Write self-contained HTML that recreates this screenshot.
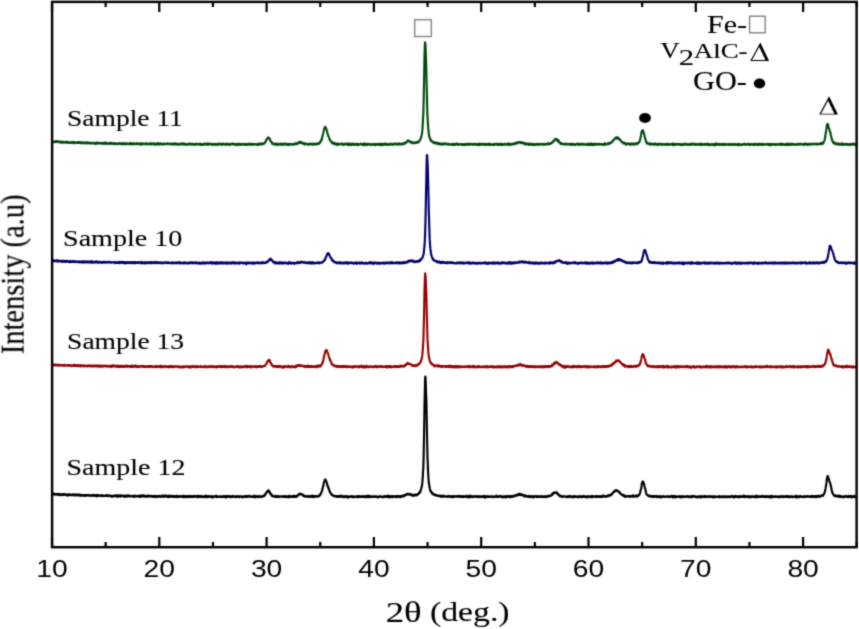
<!DOCTYPE html>
<html><head><meta charset="utf-8"><style>
html,body{margin:0;padding:0;background:#fff;}
svg{display:block;}
</style></head><body>
<svg width="859" height="629" viewBox="0 0 859 629">
<defs><filter id="bl" x="0" y="0" width="859" height="629" filterUnits="userSpaceOnUse"><feConvolveMatrix order="3" kernelMatrix="1 4 1 4 16 4 1 4 1" edgeMode="duplicate"/></filter></defs>
<rect width="859" height="629" fill="#fff"/>
<g filter="url(#bl)">
<g fill="none" stroke-width="2.15" stroke-linejoin="round">
<path d="M52.0 141.7 52.2 141.8 52.4 141.6 52.6 141.4 52.9 141.6 53.1 141.4 53.3 141.8 53.5 142.2 53.7 141.6 53.9 141.6 54.1 142.0 54.4 141.9 54.6 141.9 54.8 141.5 55.0 141.8 55.2 142.1 55.4 141.4 55.6 141.7 55.9 141.3 56.1 141.5 56.3 141.3 56.5 141.8 56.7 141.5 56.9 142.0 57.2 142.0 57.4 141.9 57.6 141.2 57.8 141.8 58.0 142.0 58.2 142.0 58.4 141.5 58.7 141.9 58.9 141.7 59.1 141.8 59.3 142.4 59.5 141.8 59.7 142.0 59.9 142.4 60.2 141.9 60.4 142.1 60.6 142.1 60.8 142.1 61.0 141.7 61.2 142.1 61.4 142.6 61.7 141.6 61.9 142.4 62.1 142.2 62.3 142.0 62.5 142.8 62.7 142.4 62.9 141.8 63.2 142.2 63.4 142.4 63.6 142.2 63.8 142.4 64.0 142.2 64.2 142.5 64.4 142.7 64.7 142.0 64.9 142.3 65.1 142.1 65.3 142.3 65.5 141.9 65.7 142.1 65.9 142.3 66.2 142.6 66.4 142.7 66.6 141.9 66.8 142.1 67.0 142.6 67.2 141.7 67.5 142.2 67.7 142.4 67.9 142.8 68.1 142.6 68.3 142.3 68.5 142.3 68.7 142.3 69.0 142.9 69.2 142.3 69.4 142.3 69.6 142.6 69.8 142.4 70.0 142.4 70.2 142.1 70.5 142.5 70.7 142.3 70.9 142.9 71.1 142.7 71.3 142.5 71.5 142.7 71.7 142.4 72.0 142.9 72.2 142.5 72.4 142.7 72.6 142.1 72.8 142.7 73.0 142.0 73.2 141.9 73.5 142.5 73.7 142.3 73.9 142.7 74.1 143.3 74.3 142.4 74.5 142.4 74.7 142.7 75.0 142.8 75.2 142.6 75.4 142.6 75.6 142.9 75.8 142.8 76.0 142.3 76.2 142.7 76.5 142.7 76.7 142.4 76.9 142.8 77.1 142.4 77.3 143.0 77.5 142.8 77.8 142.8 78.0 142.5 78.2 142.7 78.4 142.1 78.6 142.4 78.8 142.9 79.0 142.1 79.3 143.0 79.5 142.2 79.7 143.0 79.9 142.5 80.1 143.0 80.3 142.8 80.5 142.3 80.8 143.2 81.0 143.3 81.2 142.8 81.4 142.7 81.6 142.8 81.8 142.5 82.0 143.2 82.3 142.7 82.5 142.9 82.7 142.6 82.9 142.7 83.1 142.5 83.3 143.3 83.5 142.8 83.8 143.2 84.0 142.9 84.2 142.7 84.4 142.8 84.6 142.7 84.8 142.9 85.0 142.8 85.3 142.8 85.5 142.5 85.7 142.7 85.9 143.5 86.1 142.8 86.3 142.6 86.6 143.1 86.8 143.4 87.0 142.5 87.2 142.9 87.4 142.8 87.6 142.4 87.8 143.2 88.1 143.0 88.3 143.0 88.5 142.8 88.7 143.2 88.9 142.9 89.1 143.0 89.3 142.7 89.6 142.7 89.8 143.5 90.0 142.9 90.2 143.2 90.4 143.1 90.6 142.9 90.8 142.9 91.1 143.3 91.3 143.0 91.5 143.1 91.7 143.1 91.9 143.5 92.1 143.3 92.3 143.2 92.6 142.9 92.8 142.7 93.0 143.4 93.2 143.5 93.4 143.1 93.6 143.3 93.8 143.4 94.1 143.4 94.3 143.5 94.5 143.0 94.7 143.7 94.9 142.8 95.1 143.5 95.3 143.4 95.6 143.5 95.8 143.8 96.0 143.7 96.2 142.8 96.4 142.7 96.6 143.5 96.9 142.9 97.1 143.2 97.3 143.5 97.5 142.7 97.7 142.6 97.9 143.3 98.1 143.3 98.4 143.2 98.6 143.3 98.8 143.0 99.0 142.8 99.2 143.2 99.4 143.0 99.6 142.8 99.9 143.5 100.1 143.3 100.3 143.4 100.5 143.0 100.7 143.1 100.9 143.0 101.1 143.0 101.4 143.4 101.6 143.1 101.8 143.4 102.0 143.4 102.2 144.0 102.4 142.9 102.6 143.6 102.9 143.3 103.1 143.4 103.3 142.9 103.5 143.2 103.7 143.6 103.9 143.3 104.1 143.4 104.4 143.3 104.6 143.8 104.8 143.4 105.0 142.7 105.2 143.2 105.4 142.8 105.6 142.4 105.9 143.2 106.1 143.8 106.3 143.4 106.5 143.0 106.7 143.1 106.9 143.8 107.2 143.5 107.4 143.5 107.6 143.4 107.8 143.5 108.0 143.7 108.2 143.6 108.4 143.5 108.7 143.1 108.9 143.6 109.1 143.2 109.3 143.8 109.5 143.1 109.7 143.4 109.9 143.5 110.2 143.1 110.4 144.0 110.6 144.0 110.8 143.3 111.0 143.7 111.2 143.6 111.4 142.7 111.7 143.6 111.9 143.5 112.1 143.5 112.3 143.2 112.5 143.4 112.7 143.5 112.9 143.9 113.2 143.6 113.4 143.5 113.6 144.0 113.8 143.4 114.0 143.4 114.2 143.0 114.4 144.1 114.7 143.9 114.9 143.9 115.1 143.8 115.3 143.6 115.5 143.6 115.7 143.5 116.0 143.5 116.2 143.6 116.4 144.1 116.6 143.8 116.8 143.6 117.0 143.4 117.2 143.4 117.5 144.1 117.7 143.8 117.9 143.6 118.1 143.5 118.3 143.3 118.5 143.6 118.7 143.9 119.0 143.5 119.2 143.6 119.4 143.6 119.6 143.7 119.8 143.1 120.0 143.6 120.2 143.4 120.5 143.9 120.7 143.4 120.9 143.8 121.1 144.1 121.3 143.6 121.5 143.5 121.7 143.7 122.0 143.7 122.2 143.3 122.4 143.8 122.6 144.3 122.8 143.6 123.0 143.6 123.2 143.3 123.5 143.8 123.7 143.3 123.9 143.3 124.1 144.1 124.3 143.4 124.5 144.0 124.7 144.2 125.0 143.8 125.2 143.9 125.4 144.3 125.6 143.6 125.8 143.5 126.0 143.3 126.3 143.7 126.5 144.2 126.7 144.0 126.9 143.4 127.1 143.5 127.3 143.6 127.5 143.8 127.8 143.7 128.0 143.8 128.2 143.8 128.4 143.7 128.6 143.7 128.8 143.8 129.0 143.7 129.3 143.9 129.5 144.4 129.7 144.0 129.9 143.8 130.1 143.2 130.3 143.9 130.5 143.1 130.8 143.3 131.0 144.1 131.2 144.0 131.4 143.7 131.6 143.2 131.8 143.7 132.0 143.6 132.3 144.0 132.5 144.5 132.7 143.9 132.9 143.5 133.1 143.4 133.3 143.8 133.5 143.7 133.8 143.4 134.0 143.8 134.2 143.4 134.4 144.2 134.6 144.2 134.8 144.2 135.1 143.7 135.3 144.0 135.5 143.8 135.7 143.7 135.9 143.7 136.1 143.4 136.3 143.4 136.6 144.1 136.8 143.8 137.0 143.9 137.2 144.2 137.4 143.3 137.6 143.6 137.8 143.9 138.1 144.0 138.3 143.7 138.5 144.2 138.7 143.9 138.9 143.5 139.1 143.6 139.3 144.1 139.6 144.0 139.8 143.3 140.0 144.3 140.2 144.1 140.4 144.3 140.6 143.8 140.8 143.8 141.1 143.5 141.3 144.7 141.5 143.8 141.7 144.4 141.9 143.7 142.1 143.9 142.3 143.4 142.6 143.8 142.8 144.2 143.0 143.5 143.2 144.2 143.4 144.0 143.6 143.6 143.8 143.7 144.1 143.8 144.3 143.9 144.5 143.7 144.7 143.7 144.9 143.8 145.1 143.6 145.4 143.5 145.6 143.9 145.8 144.2 146.0 143.4 146.2 143.9 146.4 143.7 146.6 143.6 146.9 144.2 147.1 143.8 147.3 144.4 147.5 143.7 147.7 144.1 147.9 143.9 148.1 143.7 148.4 144.1 148.6 143.9 148.8 144.1 149.0 143.9 149.2 143.6 149.4 143.9 149.6 144.0 149.9 144.3 150.1 143.7 150.3 144.0 150.5 143.4 150.7 144.2 150.9 143.6 151.1 143.4 151.4 144.0 151.6 144.3 151.8 143.5 152.0 143.6 152.2 143.7 152.4 143.6 152.6 144.1 152.9 143.7 153.1 143.8 153.3 144.2 153.5 143.7 153.7 144.1 153.9 143.7 154.1 143.6 154.4 143.4 154.6 144.6 154.8 143.9 155.0 144.1 155.2 144.0 155.4 144.1 155.7 144.0 155.9 144.6 156.1 143.7 156.3 143.5 156.5 143.7 156.7 143.6 156.9 144.3 157.2 144.3 157.4 143.7 157.6 143.6 157.8 143.9 158.0 144.5 158.2 143.1 158.4 144.2 158.7 143.7 158.9 144.4 159.1 143.7 159.3 143.9 159.5 143.5 159.7 143.7 159.9 144.5 160.2 144.3 160.4 143.9 160.6 143.8 160.8 143.4 161.0 143.9 161.2 144.0 161.4 144.0 161.7 144.0 161.9 143.7 162.1 144.0 162.3 144.0 162.5 144.5 162.7 144.6 162.9 144.0 163.2 143.8 163.4 144.0 163.6 143.9 163.8 143.8 164.0 144.0 164.2 143.7 164.5 144.3 164.7 144.0 164.9 144.1 165.1 144.0 165.3 143.8 165.5 143.8 165.7 144.0 166.0 143.9 166.2 144.1 166.4 144.1 166.6 143.6 166.8 144.1 167.0 143.6 167.2 143.9 167.5 144.0 167.7 143.4 167.9 144.1 168.1 144.1 168.3 144.0 168.5 144.0 168.7 144.0 169.0 143.8 169.2 144.0 169.4 143.9 169.6 144.1 169.8 143.7 170.0 144.2 170.2 144.1 170.5 144.1 170.7 144.0 170.9 144.3 171.1 143.6 171.3 144.2 171.5 144.2 171.7 144.2 172.0 144.2 172.2 143.9 172.4 144.0 172.6 144.3 172.8 144.2 173.0 144.2 173.2 143.6 173.5 144.3 173.7 144.5 173.9 144.4 174.1 144.2 174.3 143.6 174.5 144.4 174.8 144.1 175.0 143.3 175.2 144.2 175.4 143.6 175.6 143.7 175.8 143.9 176.0 144.5 176.3 144.0 176.5 144.2 176.7 144.7 176.9 144.6 177.1 144.1 177.3 144.1 177.5 143.7 177.8 143.9 178.0 144.3 178.2 144.3 178.4 144.2 178.6 144.5 178.8 143.9 179.0 144.1 179.3 144.4 179.5 144.3 179.7 144.5 179.9 144.3 180.1 144.0 180.3 144.3 180.5 143.8 180.8 143.6 181.0 144.3 181.2 144.1 181.4 144.3 181.6 143.6 181.8 144.0 182.0 144.0 182.3 143.9 182.5 143.4 182.7 144.1 182.9 144.4 183.1 144.3 183.3 144.0 183.5 144.2 183.8 144.4 184.0 143.3 184.2 144.1 184.4 144.3 184.6 144.4 184.8 144.7 185.1 144.5 185.3 144.3 185.5 144.3 185.7 144.4 185.9 144.0 186.1 144.2 186.3 144.5 186.6 144.8 186.8 144.1 187.0 144.2 187.2 144.2 187.4 144.6 187.6 144.2 187.8 144.6 188.1 143.9 188.3 144.1 188.5 144.1 188.7 144.4 188.9 144.5 189.1 143.7 189.3 143.9 189.6 144.3 189.8 144.0 190.0 143.7 190.2 144.5 190.4 144.3 190.6 144.3 190.8 144.0 191.1 144.5 191.3 144.1 191.5 144.5 191.7 143.9 191.9 143.9 192.1 144.3 192.3 144.0 192.6 144.4 192.8 144.3 193.0 143.9 193.2 144.2 193.4 144.1 193.6 144.5 193.9 144.0 194.1 144.1 194.3 144.6 194.5 144.9 194.7 144.8 194.9 144.2 195.1 144.3 195.4 144.7 195.6 144.2 195.8 143.9 196.0 144.2 196.2 144.4 196.4 143.9 196.6 143.7 196.9 143.8 197.1 144.4 197.3 144.0 197.5 144.2 197.7 144.3 197.9 144.4 198.1 144.1 198.4 144.4 198.6 143.9 198.8 144.1 199.0 143.9 199.2 144.6 199.4 144.2 199.6 144.0 199.9 144.1 200.1 144.1 200.3 144.4 200.5 143.7 200.7 143.9 200.9 144.1 201.1 145.0 201.4 144.5 201.6 144.2 201.8 144.5 202.0 144.9 202.2 144.2 202.4 144.1 202.6 144.6 202.9 144.4 203.1 144.4 203.3 144.1 203.5 144.8 203.7 144.8 203.9 144.4 204.2 144.5 204.4 143.6 204.6 144.4 204.8 144.2 205.0 144.4 205.2 144.5 205.4 144.1 205.7 143.7 205.9 144.4 206.1 144.0 206.3 144.1 206.5 144.0 206.7 144.1 206.9 143.5 207.2 144.6 207.4 144.3 207.6 144.6 207.8 144.9 208.0 144.3 208.2 143.7 208.4 144.0 208.7 143.9 208.9 144.1 209.1 144.3 209.3 143.6 209.5 144.4 209.7 143.8 209.9 144.3 210.2 144.2 210.4 144.1 210.6 144.2 210.8 144.1 211.0 144.1 211.2 143.7 211.4 144.2 211.7 144.8 211.9 144.9 212.1 144.7 212.3 144.5 212.5 144.0 212.7 144.7 212.9 144.2 213.2 144.2 213.4 144.2 213.6 144.3 213.8 144.1 214.0 144.2 214.2 143.9 214.5 144.1 214.7 145.0 214.9 144.2 215.1 144.2 215.3 144.4 215.5 144.5 215.7 143.9 216.0 144.2 216.2 144.6 216.4 144.3 216.6 144.3 216.8 144.8 217.0 144.0 217.2 144.3 217.5 144.1 217.7 144.7 217.9 143.6 218.1 144.1 218.3 144.1 218.5 144.5 218.7 144.5 219.0 144.7 219.2 143.8 219.4 144.5 219.6 144.2 219.8 144.1 220.0 144.4 220.2 144.0 220.5 143.6 220.7 144.2 220.9 143.8 221.1 144.1 221.3 144.4 221.5 144.4 221.7 144.8 222.0 144.2 222.2 143.8 222.4 144.0 222.6 144.0 222.8 143.9 223.0 144.4 223.3 144.1 223.5 143.6 223.7 144.5 223.9 144.2 224.1 144.4 224.3 144.3 224.5 144.5 224.8 144.3 225.0 144.7 225.2 144.4 225.4 144.4 225.6 144.4 225.8 143.8 226.0 144.2 226.3 144.2 226.5 144.3 226.7 143.8 226.9 144.8 227.1 144.3 227.3 143.9 227.5 143.7 227.8 144.2 228.0 144.3 228.2 144.1 228.4 144.3 228.6 144.1 228.8 144.5 229.0 144.1 229.3 144.3 229.5 144.6 229.7 145.1 229.9 144.0 230.1 144.1 230.3 144.0 230.5 144.5 230.8 143.9 231.0 144.1 231.2 144.3 231.4 144.0 231.6 144.0 231.8 144.1 232.0 143.6 232.3 143.8 232.5 144.2 232.7 144.3 232.9 144.2 233.1 143.7 233.3 144.1 233.6 144.5 233.8 144.5 234.0 144.3 234.2 144.0 234.4 144.5 234.6 144.1 234.8 143.9 235.1 144.0 235.3 144.8 235.5 144.4 235.7 144.7 235.9 144.1 236.1 144.6 236.3 144.1 236.6 144.2 236.8 145.1 237.0 144.5 237.2 144.1 237.4 144.3 237.6 144.4 237.8 144.7 238.1 144.1 238.3 143.7 238.5 144.2 238.7 144.3 238.9 144.3 239.1 144.7 239.3 144.4 239.6 144.6 239.8 143.9 240.0 144.6 240.2 145.0 240.4 144.5 240.6 144.4 240.8 144.3 241.1 144.9 241.3 144.0 241.5 144.3 241.7 144.4 241.9 144.5 242.1 144.2 242.4 144.4 242.6 144.2 242.8 144.3 243.0 144.3 243.2 143.9 243.4 144.3 243.6 144.6 243.9 144.0 244.1 144.2 244.3 144.5 244.5 144.0 244.7 144.4 244.9 144.0 245.1 144.7 245.4 145.0 245.6 144.9 245.8 144.2 246.0 144.5 246.2 144.3 246.4 144.3 246.6 144.8 246.9 143.9 247.1 144.6 247.3 144.3 247.5 144.7 247.7 144.4 247.9 144.1 248.1 144.4 248.4 144.5 248.6 144.3 248.8 144.4 249.0 144.1 249.2 143.6 249.4 144.6 249.6 144.5 249.9 144.3 250.1 144.3 250.3 144.6 250.5 144.1 250.7 144.1 250.9 144.2 251.1 144.7 251.4 143.8 251.6 144.7 251.8 144.1 252.0 143.9 252.2 144.7 252.4 144.2 252.7 143.9 252.9 144.2 253.1 144.6 253.3 144.7 253.5 144.1 253.7 144.4 253.9 144.5 254.2 144.1 254.4 144.4 254.6 144.3 254.8 144.1 255.0 144.1 255.2 144.3 255.4 144.3 255.7 144.1 255.9 144.1 256.1 144.6 256.3 144.3 256.5 144.5 256.7 144.6 256.9 144.4 257.2 145.0 257.4 144.0 257.6 144.5 257.8 144.1 258.0 144.8 258.2 144.8 258.4 143.6 258.7 143.9 258.9 144.4 259.1 144.5 259.3 144.4 259.5 144.2 259.7 144.3 259.9 144.4 260.2 144.2 260.4 144.5 260.6 143.4 260.8 144.4 261.0 143.8 261.2 144.4 261.4 144.0 261.7 143.8 261.9 144.2 262.1 143.8 262.3 143.7 262.5 143.5 262.7 143.9 263.0 144.0 263.2 144.2 263.4 143.7 263.6 144.0 263.8 143.5 264.0 143.4 264.2 143.4 264.5 143.4 264.7 142.7 264.9 142.5 265.1 142.3 265.3 142.0 265.5 141.4 265.7 141.6 266.0 140.8 266.2 140.6 266.4 139.8 266.6 139.7 266.8 139.3 267.0 138.7 267.2 139.1 267.5 138.3 267.7 138.4 267.9 138.0 268.1 137.4 268.3 137.5 268.5 137.8 268.7 137.9 269.0 138.1 269.2 138.3 269.4 138.2 269.6 139.1 269.8 138.8 270.0 140.1 270.2 140.2 270.5 140.6 270.7 141.1 270.9 141.7 271.1 141.5 271.3 141.7 271.5 142.2 271.8 142.1 272.0 142.7 272.2 143.7 272.4 143.0 272.6 143.7 272.8 143.2 273.0 143.8 273.3 143.7 273.5 143.9 273.7 144.1 273.9 144.5 274.1 144.1 274.3 144.1 274.5 143.8 274.8 144.3 275.0 144.0 275.2 144.4 275.4 144.1 275.6 144.7 275.8 143.5 276.0 144.1 276.3 144.5 276.5 144.1 276.7 143.9 276.9 144.1 277.1 143.8 277.3 144.2 277.5 145.0 277.8 144.6 278.0 143.9 278.2 143.9 278.4 144.1 278.6 144.6 278.8 144.0 279.0 144.0 279.3 144.5 279.5 144.5 279.7 144.1 279.9 143.9 280.1 143.8 280.3 144.0 280.5 143.5 280.8 144.5 281.0 144.1 281.2 144.4 281.4 144.9 281.6 144.6 281.8 143.9 282.1 144.5 282.3 144.6 282.5 144.0 282.7 144.0 282.9 144.2 283.1 143.8 283.3 144.7 283.6 143.5 283.8 143.9 284.0 144.2 284.2 144.2 284.4 144.3 284.6 144.4 284.8 144.2 285.1 144.6 285.3 143.6 285.5 144.3 285.7 144.1 285.9 144.3 286.1 144.4 286.3 144.0 286.6 144.1 286.8 144.5 287.0 144.4 287.2 144.1 287.4 144.9 287.6 145.0 287.8 143.8 288.1 144.4 288.3 145.1 288.5 144.5 288.7 144.3 288.9 144.2 289.1 144.1 289.3 144.2 289.6 144.1 289.8 144.5 290.0 144.1 290.2 144.1 290.4 143.9 290.6 144.3 290.8 144.0 291.1 144.2 291.3 144.6 291.5 144.4 291.7 144.4 291.9 144.4 292.1 144.3 292.4 144.2 292.6 144.1 292.8 144.5 293.0 143.9 293.2 144.7 293.4 144.2 293.6 144.0 293.9 144.0 294.1 144.0 294.3 144.2 294.5 143.9 294.7 144.5 294.9 143.8 295.1 143.3 295.4 143.8 295.6 143.3 295.8 143.9 296.0 144.2 296.2 144.0 296.4 143.3 296.6 143.4 296.9 144.1 297.1 143.5 297.3 143.3 297.5 143.5 297.7 143.8 297.9 143.3 298.1 142.8 298.4 142.8 298.6 142.8 298.8 142.2 299.0 142.0 299.2 142.3 299.4 141.9 299.6 142.1 299.9 142.2 300.1 142.9 300.3 141.9 300.5 142.2 300.7 142.3 300.9 142.6 301.2 142.9 301.4 142.5 301.6 142.5 301.8 142.4 302.0 142.7 302.2 143.3 302.4 143.3 302.7 143.0 302.9 143.3 303.1 143.6 303.3 143.8 303.5 143.5 303.7 143.7 303.9 143.3 304.2 143.6 304.4 144.5 304.6 143.3 304.8 143.9 305.0 144.1 305.2 144.0 305.4 143.9 305.7 144.1 305.9 144.1 306.1 144.1 306.3 143.6 306.5 144.1 306.7 143.9 306.9 144.0 307.2 144.3 307.4 144.4 307.6 144.5 307.8 144.0 308.0 144.5 308.2 144.6 308.4 144.5 308.7 144.6 308.9 144.1 309.1 144.1 309.3 144.4 309.5 143.7 309.7 144.2 309.9 144.0 310.2 144.1 310.4 143.6 310.6 143.9 310.8 144.2 311.0 144.4 311.2 144.5 311.5 144.1 311.7 144.1 311.9 143.9 312.1 144.3 312.3 144.1 312.5 144.3 312.7 144.7 313.0 144.1 313.2 143.6 313.4 143.8 313.6 143.6 313.8 143.7 314.0 144.5 314.2 144.1 314.5 143.6 314.7 144.3 314.9 144.4 315.1 143.9 315.3 143.8 315.5 143.9 315.7 144.1 316.0 144.2 316.2 144.3 316.4 144.3 316.6 144.3 316.8 144.3 317.0 144.1 317.2 143.3 317.5 143.8 317.7 143.9 317.9 143.6 318.1 144.0 318.3 143.5 318.5 143.3 318.7 143.9 319.0 143.6 319.2 143.4 319.4 143.4 319.6 143.3 319.8 142.9 320.0 141.8 320.2 142.1 320.5 141.9 320.7 141.4 320.9 141.3 321.1 141.2 321.3 140.1 321.5 139.3 321.8 139.7 322.0 138.1 322.2 137.1 322.4 136.7 322.6 135.9 322.8 134.6 323.0 134.1 323.3 132.7 323.5 131.6 323.7 131.0 323.9 130.2 324.1 129.0 324.3 128.6 324.5 127.8 324.8 128.3 325.0 126.9 325.2 127.4 325.4 127.0 325.6 127.2 325.8 127.8 326.0 128.4 326.3 129.1 326.5 129.4 326.7 129.9 326.9 130.7 327.1 131.8 327.3 132.6 327.5 133.7 327.8 134.1 328.0 135.0 328.2 135.9 328.4 136.1 328.6 136.2 328.8 136.9 329.0 137.4 329.3 138.9 329.5 138.6 329.7 139.7 329.9 139.9 330.1 140.6 330.3 140.8 330.6 140.8 330.8 141.0 331.0 141.4 331.2 141.7 331.4 141.7 331.6 142.1 331.8 142.9 332.1 142.0 332.3 142.8 332.5 142.6 332.7 143.1 332.9 143.4 333.1 143.2 333.3 143.6 333.6 142.9 333.8 143.9 334.0 143.4 334.2 143.9 334.4 143.8 334.6 143.0 334.8 143.6 335.1 143.9 335.3 144.4 335.5 144.0 335.7 144.0 335.9 143.5 336.1 144.5 336.3 144.6 336.6 144.0 336.8 144.0 337.0 143.5 337.2 144.4 337.4 144.9 337.6 144.3 337.8 144.5 338.1 144.3 338.3 143.8 338.5 144.6 338.7 143.7 338.9 144.1 339.1 144.2 339.3 144.4 339.6 144.3 339.8 144.3 340.0 143.9 340.2 143.8 340.4 144.2 340.6 144.0 340.9 143.8 341.1 143.8 341.3 144.0 341.5 143.6 341.7 143.8 341.9 143.7 342.1 144.3 342.4 144.4 342.6 144.9 342.8 143.8 343.0 144.0 343.2 144.5 343.4 144.2 343.6 144.1 343.9 144.8 344.1 144.1 344.3 143.9 344.5 143.8 344.7 144.4 344.9 144.4 345.1 143.8 345.4 143.9 345.6 144.4 345.8 144.5 346.0 144.1 346.2 144.5 346.4 144.5 346.6 143.7 346.9 144.2 347.1 144.4 347.3 144.1 347.5 143.6 347.7 144.2 347.9 144.5 348.1 144.8 348.4 143.6 348.6 145.1 348.8 143.9 349.0 144.6 349.2 144.7 349.4 144.6 349.7 144.3 349.9 143.9 350.1 144.5 350.3 144.1 350.5 143.5 350.7 145.2 350.9 144.5 351.2 144.9 351.4 144.0 351.6 144.8 351.8 144.8 352.0 144.8 352.2 144.3 352.4 143.9 352.7 144.3 352.9 143.6 353.1 143.8 353.3 144.3 353.5 144.0 353.7 144.3 353.9 144.3 354.2 144.9 354.4 144.7 354.6 144.3 354.8 144.7 355.0 144.1 355.2 144.2 355.4 144.6 355.7 143.9 355.9 144.2 356.1 143.9 356.3 144.4 356.5 144.8 356.7 144.1 356.9 144.4 357.2 144.0 357.4 144.0 357.6 143.9 357.8 144.8 358.0 145.1 358.2 144.5 358.4 144.1 358.7 144.5 358.9 144.2 359.1 144.6 359.3 144.4 359.5 144.4 359.7 144.5 360.0 144.1 360.2 144.2 360.4 143.8 360.6 144.2 360.8 143.9 361.0 144.3 361.2 144.0 361.5 144.4 361.7 144.5 361.9 143.9 362.1 144.1 362.3 144.0 362.5 144.6 362.7 144.9 363.0 144.6 363.2 144.2 363.4 144.8 363.6 143.8 363.8 144.8 364.0 144.1 364.2 143.4 364.5 145.2 364.7 144.8 364.9 144.0 365.1 144.4 365.3 144.3 365.5 144.4 365.7 143.9 366.0 144.1 366.2 144.5 366.4 144.4 366.6 144.7 366.8 144.4 367.0 145.1 367.2 144.1 367.5 144.4 367.7 143.7 367.9 143.9 368.1 144.7 368.3 144.0 368.5 144.5 368.7 144.3 369.0 144.0 369.2 144.2 369.4 144.2 369.6 144.2 369.8 144.6 370.0 144.5 370.3 144.1 370.5 144.0 370.7 144.4 370.9 144.3 371.1 144.7 371.3 145.2 371.5 144.6 371.8 144.3 372.0 144.3 372.2 144.0 372.4 144.0 372.6 144.0 372.8 144.2 373.0 144.2 373.3 144.6 373.5 144.2 373.7 144.3 373.9 143.9 374.1 144.8 374.3 144.5 374.5 144.9 374.8 144.6 375.0 144.8 375.2 144.2 375.4 144.5 375.6 145.2 375.8 143.9 376.0 144.7 376.3 144.9 376.5 144.5 376.7 144.6 376.9 144.7 377.1 144.1 377.3 144.4 377.5 144.0 377.8 144.1 378.0 144.1 378.2 144.3 378.4 144.4 378.6 144.5 378.8 143.8 379.1 145.0 379.3 144.7 379.5 144.5 379.7 144.2 379.9 144.3 380.1 144.5 380.3 144.4 380.6 143.8 380.8 144.5 381.0 145.3 381.2 143.7 381.4 144.6 381.6 144.4 381.8 144.3 382.1 144.8 382.3 143.9 382.5 144.4 382.7 144.8 382.9 144.2 383.1 144.2 383.3 144.3 383.6 144.1 383.8 144.8 384.0 144.0 384.2 144.6 384.4 143.9 384.6 144.5 384.8 144.3 385.1 143.4 385.3 144.3 385.5 143.9 385.7 144.1 385.9 144.8 386.1 143.9 386.3 143.9 386.6 144.8 386.8 144.3 387.0 144.8 387.2 144.4 387.4 144.0 387.6 144.3 387.8 144.7 388.1 144.6 388.3 144.3 388.5 144.3 388.7 144.2 388.9 144.1 389.1 144.9 389.4 144.3 389.6 143.9 389.8 144.1 390.0 144.5 390.2 144.5 390.4 144.2 390.6 144.0 390.9 144.3 391.1 143.7 391.3 143.8 391.5 144.5 391.7 144.1 391.9 144.4 392.1 144.6 392.4 144.5 392.6 144.2 392.8 144.9 393.0 144.5 393.2 144.1 393.4 144.5 393.6 144.4 393.9 143.9 394.1 144.2 394.3 144.2 394.5 143.6 394.7 144.2 394.9 144.1 395.1 144.1 395.4 143.7 395.6 144.1 395.8 144.2 396.0 144.2 396.2 143.8 396.4 144.4 396.6 143.8 396.9 144.1 397.1 144.6 397.3 143.9 397.5 144.0 397.7 144.5 397.9 144.0 398.1 144.1 398.4 144.2 398.6 144.5 398.8 143.4 399.0 143.9 399.2 143.8 399.4 143.8 399.7 143.8 399.9 143.8 400.1 144.2 400.3 143.8 400.5 144.1 400.7 144.2 400.9 143.8 401.2 144.1 401.4 144.6 401.6 144.1 401.8 143.8 402.0 143.9 402.2 143.6 402.4 144.0 402.7 144.1 402.9 143.5 403.1 143.7 403.3 144.1 403.5 143.5 403.7 143.6 403.9 143.1 404.2 143.1 404.4 143.1 404.6 143.9 404.8 142.9 405.0 142.8 405.2 142.6 405.4 142.6 405.7 142.7 405.9 142.4 406.1 142.8 406.3 142.1 406.5 142.3 406.7 141.8 406.9 141.7 407.2 141.0 407.4 141.3 407.6 141.2 407.8 141.1 408.0 140.4 408.2 141.3 408.5 140.9 408.7 140.9 408.9 141.0 409.1 141.1 409.3 141.4 409.5 141.0 409.7 141.2 410.0 141.7 410.2 141.8 410.4 141.8 410.6 141.8 410.8 141.9 411.0 142.3 411.2 142.8 411.5 142.2 411.7 143.1 411.9 143.0 412.1 142.7 412.3 143.1 412.5 142.5 412.7 142.4 413.0 142.6 413.2 142.9 413.4 143.0 413.6 142.9 413.8 143.2 414.0 142.4 414.2 143.3 414.5 142.6 414.7 142.9 414.9 142.9 415.1 142.6 415.3 142.5 415.5 142.6 415.7 142.9 416.0 143.0 416.2 142.9 416.4 142.4 416.6 142.4 416.8 142.2 417.0 142.6 417.2 141.7 417.5 142.7 417.7 142.0 417.9 141.8 418.1 142.0 418.3 142.1 418.5 141.7 418.8 141.7 419.0 141.3 419.2 141.4 419.4 141.1 419.6 140.5 419.8 140.6 420.0 139.9 420.3 139.5 420.5 138.8 420.7 138.5 420.9 138.3 421.1 136.9 421.3 136.8 421.5 135.8 421.8 134.7 422.0 132.6 422.2 131.7 422.4 129.9 422.6 126.8 422.8 123.7 423.0 118.7 423.3 114.3 423.5 107.1 423.7 99.5 423.9 88.9 424.1 78.8 424.3 67.0 424.5 56.3 424.8 47.1 425.0 42.4 425.2 42.6 425.4 44.3 425.6 48.8 425.8 54.4 426.0 60.6 426.3 68.8 426.5 77.7 426.7 86.1 426.9 94.7 427.1 103.8 427.3 110.8 427.5 116.6 427.8 121.4 428.0 124.6 428.2 127.9 428.4 130.0 428.6 131.9 428.8 134.2 429.1 134.9 429.3 136.9 429.5 137.0 429.7 137.5 429.9 138.6 430.1 139.4 430.3 139.5 430.6 139.3 430.8 140.2 431.0 140.8 431.2 140.5 431.4 140.7 431.6 141.5 431.8 141.4 432.1 141.2 432.3 141.6 432.5 141.6 432.7 142.1 432.9 142.2 433.1 142.6 433.3 142.6 433.6 142.0 433.8 142.7 434.0 143.0 434.2 142.9 434.4 143.2 434.6 142.7 434.8 142.7 435.1 143.3 435.3 142.7 435.5 142.4 435.7 143.5 435.9 143.0 436.1 143.2 436.3 142.9 436.6 142.9 436.8 143.0 437.0 143.3 437.2 143.6 437.4 142.8 437.6 143.8 437.9 143.2 438.1 143.2 438.3 143.8 438.5 143.6 438.7 143.2 438.9 144.3 439.1 143.4 439.4 143.8 439.6 143.8 439.8 144.2 440.0 143.6 440.2 144.1 440.4 143.6 440.6 144.2 440.9 143.6 441.1 143.7 441.3 144.5 441.5 144.0 441.7 143.9 441.9 144.6 442.1 144.0 442.4 143.7 442.6 144.2 442.8 143.6 443.0 144.3 443.2 144.4 443.4 143.8 443.6 143.8 443.9 144.1 444.1 144.0 444.3 143.7 444.5 144.2 444.7 143.4 444.9 143.9 445.1 143.9 445.4 144.0 445.6 144.2 445.8 143.7 446.0 144.3 446.2 144.0 446.4 143.9 446.6 143.7 446.9 143.7 447.1 144.2 447.3 143.8 447.5 144.1 447.7 144.5 447.9 144.5 448.2 144.6 448.4 144.0 448.6 143.8 448.8 144.5 449.0 144.3 449.2 144.5 449.4 144.2 449.7 144.6 449.9 144.4 450.1 144.4 450.3 144.3 450.5 144.3 450.7 144.3 450.9 144.3 451.2 144.5 451.4 144.0 451.6 144.8 451.8 144.2 452.0 144.5 452.2 144.2 452.4 144.1 452.7 144.9 452.9 144.1 453.1 143.8 453.3 144.0 453.5 144.1 453.7 144.9 453.9 144.3 454.2 144.5 454.4 143.9 454.6 144.3 454.8 144.5 455.0 144.8 455.2 144.0 455.4 144.4 455.7 144.3 455.9 143.9 456.1 144.2 456.3 144.2 456.5 143.5 456.7 144.4 457.0 144.4 457.2 144.1 457.4 143.8 457.6 144.7 457.8 144.4 458.0 144.6 458.2 144.7 458.5 144.1 458.7 144.5 458.9 144.2 459.1 144.3 459.3 144.2 459.5 144.3 459.7 144.6 460.0 144.3 460.2 144.2 460.4 144.2 460.6 144.4 460.8 144.0 461.0 144.1 461.2 144.3 461.5 144.1 461.7 144.3 461.9 144.1 462.1 144.9 462.3 144.7 462.5 144.4 462.7 144.3 463.0 145.0 463.2 144.4 463.4 144.3 463.6 144.4 463.8 144.4 464.0 144.8 464.2 144.3 464.5 145.0 464.7 144.0 464.9 144.5 465.1 144.0 465.3 144.9 465.5 144.2 465.7 144.3 466.0 144.6 466.2 144.7 466.4 144.0 466.6 144.2 466.8 143.9 467.0 144.4 467.3 144.3 467.5 144.2 467.7 144.1 467.9 144.2 468.1 144.1 468.3 144.5 468.5 144.8 468.8 143.7 469.0 144.3 469.2 144.2 469.4 144.5 469.6 144.0 469.8 144.3 470.0 144.0 470.3 144.5 470.5 144.4 470.7 144.3 470.9 144.4 471.1 144.2 471.3 143.8 471.5 144.5 471.8 144.4 472.0 144.3 472.2 144.6 472.4 144.7 472.6 144.0 472.8 144.1 473.0 144.8 473.3 144.8 473.5 144.1 473.7 144.0 473.9 144.1 474.1 144.2 474.3 143.8 474.5 144.3 474.8 143.9 475.0 143.9 475.2 144.6 475.4 144.1 475.6 144.3 475.8 144.5 476.0 144.6 476.3 144.2 476.5 144.3 476.7 144.1 476.9 144.9 477.1 144.5 477.3 144.0 477.6 144.3 477.8 144.6 478.0 144.5 478.2 144.9 478.4 144.8 478.6 144.2 478.8 144.3 479.1 143.9 479.3 144.4 479.5 144.4 479.7 145.2 479.9 144.4 480.1 143.7 480.3 144.1 480.6 144.4 480.8 143.9 481.0 144.1 481.2 144.2 481.4 144.5 481.6 144.3 481.8 144.1 482.1 144.6 482.3 144.2 482.5 144.2 482.7 143.9 482.9 144.1 483.1 144.6 483.3 143.8 483.6 144.3 483.8 144.6 484.0 144.2 484.2 144.4 484.4 144.0 484.6 144.8 484.8 144.7 485.1 144.4 485.3 143.8 485.5 144.0 485.7 144.7 485.9 144.9 486.1 144.4 486.4 144.7 486.6 144.2 486.8 144.3 487.0 144.3 487.2 144.5 487.4 143.9 487.6 144.6 487.9 144.8 488.1 144.0 488.3 143.9 488.5 144.5 488.7 144.1 488.9 143.6 489.1 144.6 489.4 144.4 489.6 144.2 489.8 145.0 490.0 144.4 490.2 144.1 490.4 144.4 490.6 144.0 490.9 144.1 491.1 144.5 491.3 144.2 491.5 144.2 491.7 144.9 491.9 144.6 492.1 144.6 492.4 144.5 492.6 144.5 492.8 144.8 493.0 144.3 493.2 144.9 493.4 144.0 493.6 144.3 493.9 143.9 494.1 144.2 494.3 144.5 494.5 144.8 494.7 144.1 494.9 144.3 495.1 144.2 495.4 144.1 495.6 144.0 495.8 144.4 496.0 143.8 496.2 144.4 496.4 144.4 496.7 144.1 496.9 144.0 497.1 143.9 497.3 144.9 497.5 143.9 497.7 144.8 497.9 144.5 498.2 144.2 498.4 144.0 498.6 144.7 498.8 144.9 499.0 144.0 499.2 144.2 499.4 144.7 499.7 144.4 499.9 145.0 500.1 144.2 500.3 144.5 500.5 143.9 500.7 145.0 500.9 144.1 501.2 143.6 501.4 144.3 501.6 144.3 501.8 144.9 502.0 144.2 502.2 144.3 502.4 144.5 502.7 144.8 502.9 144.3 503.1 144.7 503.3 144.5 503.5 144.2 503.7 144.4 503.9 144.3 504.2 144.0 504.4 144.7 504.6 143.9 504.8 144.7 505.0 144.6 505.2 144.3 505.4 144.1 505.7 144.2 505.9 144.5 506.1 144.6 506.3 144.4 506.5 144.6 506.7 144.1 507.0 144.4 507.2 143.8 507.4 144.5 507.6 144.3 507.8 144.2 508.0 144.7 508.2 144.5 508.5 143.4 508.7 144.3 508.9 143.8 509.1 144.6 509.3 145.1 509.5 144.1 509.7 144.3 510.0 144.2 510.2 144.3 510.4 144.4 510.6 144.6 510.8 143.9 511.0 144.7 511.2 143.9 511.5 144.2 511.7 144.5 511.9 144.3 512.1 143.8 512.3 143.8 512.5 143.9 512.7 144.0 513.0 144.3 513.2 143.5 513.4 144.0 513.6 144.0 513.8 144.0 514.0 143.9 514.2 144.2 514.5 143.8 514.7 143.9 514.9 143.7 515.1 144.1 515.3 142.8 515.5 143.8 515.8 143.2 516.0 143.2 516.2 142.9 516.4 142.5 516.6 142.9 516.8 142.8 517.0 143.1 517.3 142.4 517.5 143.3 517.7 142.8 517.9 142.6 518.1 142.4 518.3 142.3 518.5 142.2 518.8 142.3 519.0 142.5 519.2 142.4 519.4 142.0 519.6 142.3 519.8 142.1 520.0 142.5 520.3 143.0 520.5 142.6 520.7 142.4 520.9 142.0 521.1 142.1 521.3 142.0 521.5 142.8 521.8 142.4 522.0 142.7 522.2 142.6 522.4 142.9 522.6 143.3 522.8 142.7 523.0 142.9 523.3 142.8 523.5 143.4 523.7 142.9 523.9 142.9 524.1 142.9 524.3 143.0 524.5 143.6 524.8 144.3 525.0 143.3 525.2 143.9 525.4 143.8 525.6 143.4 525.8 143.7 526.1 143.7 526.3 143.6 526.5 144.5 526.7 143.3 526.9 144.1 527.1 144.1 527.3 143.8 527.6 144.1 527.8 144.4 528.0 144.1 528.2 144.3 528.4 144.4 528.6 143.5 528.8 144.6 529.1 144.9 529.3 144.5 529.5 144.5 529.7 143.8 529.9 144.2 530.1 144.0 530.3 144.1 530.6 144.6 530.8 144.0 531.0 144.2 531.2 143.7 531.4 144.2 531.6 144.3 531.8 144.1 532.1 144.1 532.3 144.9 532.5 143.9 532.7 144.0 532.9 144.0 533.1 144.7 533.3 145.0 533.6 144.4 533.8 144.1 534.0 144.2 534.2 144.6 534.4 144.0 534.6 144.8 534.8 144.8 535.1 144.3 535.3 144.5 535.5 144.5 535.7 144.8 535.9 144.0 536.1 144.7 536.4 144.2 536.6 144.1 536.8 144.3 537.0 144.2 537.2 144.0 537.4 143.8 537.6 144.0 537.9 144.8 538.1 144.9 538.3 144.5 538.5 144.7 538.7 144.1 538.9 144.3 539.1 144.4 539.4 144.0 539.6 144.0 539.8 144.3 540.0 144.2 540.2 144.0 540.4 144.4 540.6 144.2 540.9 144.6 541.1 144.3 541.3 144.2 541.5 144.3 541.7 144.2 541.9 144.1 542.1 144.2 542.4 144.5 542.6 144.5 542.8 144.7 543.0 143.7 543.2 144.2 543.4 144.1 543.6 144.3 543.9 144.1 544.1 144.1 544.3 144.5 544.5 144.3 544.7 143.9 544.9 144.7 545.2 144.6 545.4 144.1 545.6 144.5 545.8 144.0 546.0 144.6 546.2 144.2 546.4 144.0 546.7 144.1 546.9 144.0 547.1 144.2 547.3 144.2 547.5 144.2 547.7 144.0 547.9 143.0 548.2 144.1 548.4 143.5 548.6 144.1 548.8 144.4 549.0 144.1 549.2 143.8 549.4 143.8 549.7 143.8 549.9 143.6 550.1 143.5 550.3 143.3 550.5 143.9 550.7 143.4 550.9 143.6 551.2 143.1 551.4 143.0 551.6 142.8 551.8 142.8 552.0 142.8 552.2 142.4 552.4 141.9 552.7 141.6 552.9 142.2 553.1 141.3 553.3 141.1 553.5 141.4 553.7 141.0 553.9 140.6 554.2 140.1 554.4 140.8 554.6 139.9 554.8 139.8 555.0 139.5 555.2 139.0 555.5 138.9 555.7 139.4 555.9 139.4 556.1 139.3 556.3 139.0 556.5 139.0 556.7 139.5 557.0 139.3 557.2 140.2 557.4 140.5 557.6 141.3 557.8 140.9 558.0 140.6 558.2 140.8 558.5 140.2 558.7 141.3 558.9 141.7 559.1 142.3 559.3 142.4 559.5 142.6 559.7 142.7 560.0 143.0 560.2 143.4 560.4 142.7 560.6 143.1 560.8 142.9 561.0 144.0 561.2 144.0 561.5 143.9 561.7 143.3 561.9 143.9 562.1 143.8 562.3 143.9 562.5 143.9 562.7 144.2 563.0 143.9 563.2 144.3 563.4 144.2 563.6 144.0 563.8 144.1 564.0 144.0 564.3 144.4 564.5 144.1 564.7 144.3 564.9 144.1 565.1 143.7 565.3 144.5 565.5 143.9 565.8 144.5 566.0 144.4 566.2 143.7 566.4 143.9 566.6 144.1 566.8 144.0 567.0 143.9 567.3 144.5 567.5 144.2 567.7 144.4 567.9 144.1 568.1 144.4 568.3 144.0 568.5 144.3 568.8 144.5 569.0 144.3 569.2 144.1 569.4 143.9 569.6 144.4 569.8 144.4 570.0 144.2 570.3 144.1 570.5 144.5 570.7 145.1 570.9 144.2 571.1 144.4 571.3 144.4 571.5 143.5 571.8 144.4 572.0 144.1 572.2 144.8 572.4 144.2 572.6 144.1 572.8 144.2 573.0 144.4 573.3 144.1 573.5 144.3 573.7 143.9 573.9 144.3 574.1 144.6 574.3 145.0 574.6 144.6 574.8 144.4 575.0 144.7 575.2 144.7 575.4 144.9 575.6 144.7 575.8 144.3 576.1 144.4 576.3 144.4 576.5 144.4 576.7 144.4 576.9 144.1 577.1 143.7 577.3 144.1 577.6 143.7 577.8 144.4 578.0 144.3 578.2 143.8 578.4 144.6 578.6 144.6 578.8 144.4 579.1 144.9 579.3 144.9 579.5 143.9 579.7 144.7 579.9 144.5 580.1 144.5 580.3 144.6 580.6 144.1 580.8 144.1 581.0 144.1 581.2 144.1 581.4 144.3 581.6 143.9 581.8 144.0 582.1 144.5 582.3 144.3 582.5 144.5 582.7 143.7 582.9 144.1 583.1 144.2 583.3 144.3 583.6 144.1 583.8 144.6 584.0 144.3 584.2 144.3 584.4 144.3 584.6 144.6 584.9 144.2 585.1 144.7 585.3 144.5 585.5 144.4 585.7 144.3 585.9 144.5 586.1 144.7 586.4 144.6 586.6 144.5 586.8 144.6 587.0 144.4 587.2 144.7 587.4 144.3 587.6 143.7 587.9 144.8 588.1 144.4 588.3 144.0 588.5 144.3 588.7 144.0 588.9 145.0 589.1 144.5 589.4 143.8 589.6 144.5 589.8 144.2 590.0 144.9 590.2 144.0 590.4 143.6 590.6 144.3 590.9 144.2 591.1 144.2 591.3 143.6 591.5 144.5 591.7 144.9 591.9 143.7 592.1 144.7 592.4 144.1 592.6 145.1 592.8 144.5 593.0 144.3 593.2 144.7 593.4 144.5 593.7 144.1 593.9 144.5 594.1 144.1 594.3 143.7 594.5 145.0 594.7 144.2 594.9 144.1 595.2 144.4 595.4 143.8 595.6 143.9 595.8 144.1 596.0 144.1 596.2 144.3 596.4 144.7 596.7 144.1 596.9 144.4 597.1 144.5 597.3 143.9 597.5 144.4 597.7 144.0 597.9 144.6 598.2 144.4 598.4 144.3 598.6 143.8 598.8 144.3 599.0 144.0 599.2 144.5 599.4 144.2 599.7 144.0 599.9 144.6 600.1 144.5 600.3 144.1 600.5 144.6 600.7 144.2 600.9 144.1 601.2 144.3 601.4 144.0 601.6 144.1 601.8 144.2 602.0 144.7 602.2 144.7 602.4 144.1 602.7 144.7 602.9 144.2 603.1 144.3 603.3 144.5 603.5 144.3 603.7 145.0 604.0 144.3 604.2 143.8 604.4 144.6 604.6 144.0 604.8 144.1 605.0 143.2 605.2 144.5 605.5 144.4 605.7 144.4 605.9 144.4 606.1 144.6 606.3 144.0 606.5 144.3 606.7 143.8 607.0 143.9 607.2 144.3 607.4 144.1 607.6 143.5 607.8 144.0 608.0 143.8 608.2 143.5 608.5 143.9 608.7 143.5 608.9 143.1 609.1 143.2 609.3 144.0 609.5 142.9 609.7 143.4 610.0 143.4 610.2 143.3 610.4 142.6 610.6 142.7 610.8 142.7 611.0 142.8 611.2 142.2 611.5 141.9 611.7 142.4 611.9 142.2 612.1 141.8 612.3 141.3 612.5 141.4 612.7 141.1 613.0 141.1 613.2 140.2 613.4 140.4 613.6 140.0 613.8 139.5 614.0 139.7 614.3 139.4 614.5 139.0 614.7 139.1 614.9 138.3 615.1 138.5 615.3 138.5 615.5 138.3 615.8 138.4 616.0 137.5 616.2 137.3 616.4 137.8 616.6 137.8 616.8 138.3 617.0 137.8 617.3 137.3 617.5 137.9 617.7 137.5 617.9 137.4 618.1 138.8 618.3 138.2 618.5 138.5 618.8 138.6 619.0 139.2 619.2 138.9 619.4 139.4 619.6 138.9 619.8 139.1 620.0 140.2 620.3 140.4 620.5 140.4 620.7 140.5 620.9 140.7 621.1 140.7 621.3 141.6 621.5 141.5 621.8 141.7 622.0 141.9 622.2 142.3 622.4 142.3 622.6 142.5 622.8 142.1 623.1 142.7 623.3 143.4 623.5 142.7 623.7 142.9 623.9 143.4 624.1 143.5 624.3 143.5 624.6 142.8 624.8 143.6 625.0 143.1 625.2 143.3 625.4 143.8 625.6 143.6 625.8 144.0 626.1 144.8 626.3 144.1 626.5 144.1 626.7 143.6 626.9 143.7 627.1 143.6 627.3 143.8 627.6 143.6 627.8 143.8 628.0 143.9 628.2 143.7 628.4 143.6 628.6 143.6 628.8 144.2 629.1 144.1 629.3 144.4 629.5 144.4 629.7 143.9 629.9 144.3 630.1 143.6 630.3 144.8 630.6 144.4 630.8 144.0 631.0 143.7 631.2 144.2 631.4 143.5 631.6 143.8 631.8 144.3 632.1 144.1 632.3 143.9 632.5 144.3 632.7 143.7 632.9 144.1 633.1 143.9 633.4 143.7 633.6 144.2 633.8 143.7 634.0 144.6 634.2 143.8 634.4 144.6 634.6 143.6 634.9 144.1 635.1 143.5 635.3 143.5 635.5 143.9 635.7 144.1 635.9 143.4 636.1 144.2 636.4 143.5 636.6 143.8 636.8 143.8 637.0 143.8 637.2 143.0 637.4 144.0 637.6 143.6 637.9 143.2 638.1 142.9 638.3 142.6 638.5 142.5 638.7 142.9 638.9 142.4 639.1 141.8 639.4 141.6 639.6 141.8 639.8 140.6 640.0 139.8 640.2 139.6 640.4 138.4 640.6 137.2 640.9 135.9 641.1 134.4 641.3 133.4 641.5 132.5 641.7 131.6 641.9 131.1 642.1 130.6 642.4 130.4 642.6 130.5 642.8 130.4 643.0 130.4 643.2 131.5 643.4 131.9 643.7 132.6 643.9 133.4 644.1 133.8 644.3 134.7 644.5 135.9 644.7 136.9 644.9 137.5 645.2 138.7 645.4 139.3 645.6 139.7 645.8 140.7 646.0 141.8 646.2 141.5 646.4 142.5 646.7 142.9 646.9 143.2 647.1 142.7 647.3 143.7 647.5 143.3 647.7 143.3 647.9 143.4 648.2 143.8 648.4 143.6 648.6 143.6 648.8 144.2 649.0 143.6 649.2 143.5 649.4 144.1 649.7 144.1 649.9 144.3 650.1 143.6 650.3 144.3 650.5 144.1 650.7 144.6 650.9 143.6 651.2 144.1 651.4 144.0 651.6 143.6 651.8 143.9 652.0 144.5 652.2 144.0 652.5 143.9 652.7 144.4 652.9 144.5 653.1 144.5 653.3 143.9 653.5 144.2 653.7 144.5 654.0 144.0 654.2 144.0 654.4 144.5 654.6 144.7 654.8 143.8 655.0 143.4 655.2 143.8 655.5 143.9 655.7 144.2 655.9 144.4 656.1 144.2 656.3 144.0 656.5 144.3 656.7 143.9 657.0 144.2 657.2 144.1 657.4 145.1 657.6 144.5 657.8 144.0 658.0 144.0 658.2 144.1 658.5 143.8 658.7 144.1 658.9 144.1 659.1 144.6 659.3 144.2 659.5 144.0 659.7 143.9 660.0 143.9 660.2 144.3 660.4 144.2 660.6 144.7 660.8 144.1 661.0 144.6 661.2 144.4 661.5 144.3 661.7 143.7 661.9 143.9 662.1 144.6 662.3 144.8 662.5 144.4 662.8 144.6 663.0 144.2 663.2 144.2 663.4 144.1 663.6 144.6 663.8 144.4 664.0 144.3 664.3 144.2 664.5 144.5 664.7 144.4 664.9 144.1 665.1 144.9 665.3 144.4 665.5 144.3 665.8 144.8 666.0 144.7 666.2 144.3 666.4 144.5 666.6 144.0 666.8 144.1 667.0 143.6 667.3 144.7 667.5 143.7 667.7 144.6 667.9 144.1 668.1 144.0 668.3 144.3 668.5 144.4 668.8 144.5 669.0 144.9 669.2 144.5 669.4 144.6 669.6 144.2 669.8 144.6 670.0 144.4 670.3 144.2 670.5 144.3 670.7 144.3 670.9 144.4 671.1 144.5 671.3 144.2 671.6 144.1 671.8 144.6 672.0 143.8 672.2 144.2 672.4 144.9 672.6 143.5 672.8 144.1 673.1 144.6 673.3 143.8 673.5 145.2 673.7 143.5 673.9 144.8 674.1 144.9 674.3 144.7 674.6 144.3 674.8 144.5 675.0 144.1 675.2 144.6 675.4 144.0 675.6 144.3 675.8 144.7 676.1 144.0 676.3 144.2 676.5 144.4 676.7 143.9 676.9 144.7 677.1 144.5 677.3 143.9 677.6 144.4 677.8 144.1 678.0 144.2 678.2 144.4 678.4 144.1 678.6 144.7 678.8 144.1 679.1 144.7 679.3 144.4 679.5 144.6 679.7 144.2 679.9 144.2 680.1 144.0 680.3 144.6 680.6 144.7 680.8 145.0 681.0 144.8 681.2 144.5 681.4 144.3 681.6 144.5 681.9 144.4 682.1 144.8 682.3 144.7 682.5 144.1 682.7 144.2 682.9 144.8 683.1 144.5 683.4 144.3 683.6 144.8 683.8 144.2 684.0 144.3 684.2 144.2 684.4 143.7 684.6 144.7 684.9 144.0 685.1 144.2 685.3 144.1 685.5 144.6 685.7 144.4 685.9 144.4 686.1 143.8 686.4 144.3 686.6 143.9 686.8 144.5 687.0 144.5 687.2 144.4 687.4 145.0 687.6 144.5 687.9 144.6 688.1 144.4 688.3 144.3 688.5 144.7 688.7 144.7 688.9 144.0 689.1 144.7 689.4 144.5 689.6 144.7 689.8 144.5 690.0 144.0 690.2 144.0 690.4 145.0 690.6 144.5 690.9 143.9 691.1 144.5 691.3 144.3 691.5 143.8 691.7 143.6 691.9 143.9 692.2 144.5 692.4 144.4 692.6 144.3 692.8 144.5 693.0 144.6 693.2 143.7 693.4 144.3 693.7 144.1 693.9 144.0 694.1 144.2 694.3 144.3 694.5 144.3 694.7 143.9 694.9 144.2 695.2 145.0 695.4 144.0 695.6 143.8 695.8 144.5 696.0 144.6 696.2 144.5 696.4 144.0 696.7 144.7 696.9 144.1 697.1 144.0 697.3 144.2 697.5 144.3 697.7 144.6 697.9 144.6 698.2 144.4 698.4 144.7 698.6 144.4 698.8 144.7 699.0 143.9 699.2 143.9 699.4 144.6 699.7 143.9 699.9 144.3 700.1 144.4 700.3 144.2 700.5 144.2 700.7 144.8 701.0 143.6 701.2 144.7 701.4 145.1 701.6 144.4 701.8 144.4 702.0 144.6 702.2 145.0 702.5 144.0 702.7 144.4 702.9 144.3 703.1 144.6 703.3 144.4 703.5 144.6 703.7 144.2 704.0 144.4 704.2 144.2 704.4 144.2 704.6 144.3 704.8 144.3 705.0 144.0 705.2 144.9 705.5 144.3 705.7 143.9 705.9 144.7 706.1 144.1 706.3 144.5 706.5 144.4 706.7 144.5 707.0 144.4 707.2 144.2 707.4 144.4 707.6 145.0 707.8 143.7 708.0 144.4 708.2 144.5 708.5 144.0 708.7 143.9 708.9 145.1 709.1 144.3 709.3 145.1 709.5 144.6 709.7 144.4 710.0 144.5 710.2 144.6 710.4 144.8 710.6 144.5 710.8 144.4 711.0 144.4 711.3 144.8 711.5 144.6 711.7 144.1 711.9 144.2 712.1 144.5 712.3 144.2 712.5 144.3 712.8 144.1 713.0 144.3 713.2 144.5 713.4 144.7 713.6 144.4 713.8 145.1 714.0 144.4 714.3 145.4 714.5 144.7 714.7 144.5 714.9 144.2 715.1 143.5 715.3 144.3 715.5 144.4 715.8 145.0 716.0 143.9 716.2 145.0 716.4 144.3 716.6 144.6 716.8 143.6 717.0 144.4 717.3 144.3 717.5 144.6 717.7 144.4 717.9 144.0 718.1 144.7 718.3 144.6 718.5 144.6 718.8 144.7 719.0 144.7 719.2 144.4 719.4 144.0 719.6 143.9 719.8 144.8 720.0 144.6 720.3 144.4 720.5 144.2 720.7 144.4 720.9 144.4 721.1 144.3 721.3 144.2 721.6 145.1 721.8 144.5 722.0 144.2 722.2 144.0 722.4 144.2 722.6 144.6 722.8 144.6 723.1 144.3 723.3 144.4 723.5 144.3 723.7 144.0 723.9 144.8 724.1 144.5 724.3 145.2 724.6 144.1 724.8 144.3 725.0 144.7 725.2 144.3 725.4 143.9 725.6 144.1 725.8 144.4 726.1 144.5 726.3 144.4 726.5 144.7 726.7 144.7 726.9 144.5 727.1 144.4 727.3 144.3 727.6 144.6 727.8 144.7 728.0 144.4 728.2 144.5 728.4 144.3 728.6 143.9 728.8 144.1 729.1 144.6 729.3 144.5 729.5 144.9 729.7 144.4 729.9 144.7 730.1 144.8 730.4 144.7 730.6 144.2 730.8 144.3 731.0 144.4 731.2 144.1 731.4 144.5 731.6 144.7 731.9 144.2 732.1 145.0 732.3 144.3 732.5 144.3 732.7 144.3 732.9 144.2 733.1 144.5 733.4 144.4 733.6 144.9 733.8 144.6 734.0 144.6 734.2 144.3 734.4 143.9 734.6 144.4 734.9 144.1 735.1 144.7 735.3 144.4 735.5 144.9 735.7 144.6 735.9 144.7 736.1 144.5 736.4 144.5 736.6 144.6 736.8 144.7 737.0 144.2 737.2 144.5 737.4 145.2 737.6 144.4 737.9 144.3 738.1 144.2 738.3 143.9 738.5 144.8 738.7 144.4 738.9 144.5 739.1 145.0 739.4 145.2 739.6 144.1 739.8 144.7 740.0 144.6 740.2 144.5 740.4 144.5 740.7 144.4 740.9 144.9 741.1 144.6 741.3 144.5 741.5 144.8 741.7 144.7 741.9 144.5 742.2 144.5 742.4 145.0 742.6 144.6 742.8 144.4 743.0 144.1 743.2 144.3 743.4 144.1 743.7 144.4 743.9 144.5 744.1 143.7 744.3 144.4 744.5 144.6 744.7 144.4 744.9 144.1 745.2 144.8 745.4 144.2 745.6 144.0 745.8 144.0 746.0 144.4 746.2 144.7 746.4 144.8 746.7 144.5 746.9 144.0 747.1 144.2 747.3 144.1 747.5 144.3 747.7 143.8 747.9 144.4 748.2 144.6 748.4 144.3 748.6 144.5 748.8 144.1 749.0 143.9 749.2 144.2 749.4 144.8 749.7 144.7 749.9 144.2 750.1 144.8 750.3 144.3 750.5 144.9 750.7 144.5 751.0 144.2 751.2 144.6 751.4 144.1 751.6 144.1 751.8 143.9 752.0 144.5 752.2 144.4 752.5 144.4 752.7 144.3 752.9 144.8 753.1 144.3 753.3 144.2 753.5 144.8 753.7 144.8 754.0 144.5 754.2 143.8 754.4 144.2 754.6 144.6 754.8 144.4 755.0 144.9 755.2 143.9 755.5 144.6 755.7 144.2 755.9 144.8 756.1 144.4 756.3 144.7 756.5 144.2 756.7 143.9 757.0 144.0 757.2 144.2 757.4 144.1 757.6 144.8 757.8 144.8 758.0 144.5 758.2 144.1 758.5 144.3 758.7 144.2 758.9 144.9 759.1 144.5 759.3 144.5 759.5 144.3 759.8 143.7 760.0 144.1 760.2 144.0 760.4 144.5 760.6 144.4 760.8 144.1 761.0 144.3 761.3 144.9 761.5 144.1 761.7 144.1 761.9 144.3 762.1 144.2 762.3 144.2 762.5 144.6 762.8 144.9 763.0 143.8 763.2 144.4 763.4 144.4 763.6 144.4 763.8 144.3 764.0 144.3 764.3 144.7 764.5 144.2 764.7 144.3 764.9 144.4 765.1 144.4 765.3 144.3 765.5 144.7 765.8 144.4 766.0 144.4 766.2 144.4 766.4 144.1 766.6 144.1 766.8 144.0 767.0 144.4 767.3 144.2 767.5 144.0 767.7 144.5 767.9 144.6 768.1 143.8 768.3 144.9 768.5 144.4 768.8 144.4 769.0 144.7 769.2 144.4 769.4 144.2 769.6 145.1 769.8 144.0 770.1 144.4 770.3 144.7 770.5 144.0 770.7 144.4 770.9 144.5 771.1 145.2 771.3 144.1 771.6 144.4 771.8 144.6 772.0 144.4 772.2 144.0 772.4 144.5 772.6 144.4 772.8 144.5 773.1 144.7 773.3 144.7 773.5 144.5 773.7 144.5 773.9 144.0 774.1 144.3 774.3 144.5 774.6 144.3 774.8 144.4 775.0 144.1 775.2 144.9 775.4 145.1 775.6 144.3 775.8 144.5 776.1 144.3 776.3 144.8 776.5 144.5 776.7 144.4 776.9 144.3 777.1 144.4 777.3 144.1 777.6 144.6 777.8 144.2 778.0 144.6 778.2 144.4 778.4 144.7 778.6 144.4 778.9 144.7 779.1 144.1 779.3 144.6 779.5 144.3 779.7 144.4 779.9 144.4 780.1 144.7 780.4 143.7 780.6 144.5 780.8 143.9 781.0 144.8 781.2 143.7 781.4 144.1 781.6 143.8 781.9 144.9 782.1 144.0 782.3 144.4 782.5 144.2 782.7 143.8 782.9 144.3 783.1 144.6 783.4 144.3 783.6 144.7 783.8 144.3 784.0 144.4 784.2 144.3 784.4 144.5 784.6 145.0 784.9 144.5 785.1 144.4 785.3 144.2 785.5 144.1 785.7 144.8 785.9 144.0 786.1 144.1 786.4 144.3 786.6 144.2 786.8 145.0 787.0 143.6 787.2 144.5 787.4 144.6 787.6 144.0 787.9 144.2 788.1 144.5 788.3 144.9 788.5 144.1 788.7 143.9 788.9 144.7 789.2 144.9 789.4 144.3 789.6 143.7 789.8 144.8 790.0 144.3 790.2 144.7 790.4 144.4 790.7 144.2 790.9 144.2 791.1 144.8 791.3 144.8 791.5 143.7 791.7 144.1 791.9 144.9 792.2 144.2 792.4 143.9 792.6 144.4 792.8 144.3 793.0 144.3 793.2 144.2 793.4 144.3 793.7 144.2 793.9 144.5 794.1 144.1 794.3 144.3 794.5 144.3 794.7 144.8 794.9 144.5 795.2 144.3 795.4 144.5 795.6 144.5 795.8 144.7 796.0 144.5 796.2 144.9 796.4 144.8 796.7 144.3 796.9 144.2 797.1 144.6 797.3 144.5 797.5 144.3 797.7 143.9 797.9 143.8 798.2 144.5 798.4 144.6 798.6 144.6 798.8 143.9 799.0 144.7 799.2 144.2 799.5 144.5 799.7 144.5 799.9 144.1 800.1 144.2 800.3 143.7 800.5 144.1 800.7 143.8 801.0 144.5 801.2 144.4 801.4 144.6 801.6 144.5 801.8 144.1 802.0 144.4 802.2 144.2 802.5 144.5 802.7 144.4 802.9 144.0 803.1 144.3 803.3 144.4 803.5 144.2 803.7 144.6 804.0 144.9 804.2 144.2 804.4 144.2 804.6 143.6 804.8 144.3 805.0 144.2 805.2 143.6 805.5 144.4 805.7 144.5 805.9 144.1 806.1 144.2 806.3 144.0 806.5 144.6 806.7 143.8 807.0 144.2 807.2 144.9 807.4 144.3 807.6 144.5 807.8 144.3 808.0 143.9 808.3 144.3 808.5 144.4 808.7 144.0 808.9 144.4 809.1 144.7 809.3 144.6 809.5 143.8 809.8 144.0 810.0 143.8 810.2 144.6 810.4 144.5 810.6 144.5 810.8 144.0 811.0 143.9 811.3 144.3 811.5 144.3 811.7 144.0 811.9 144.3 812.1 144.4 812.3 144.3 812.5 143.9 812.8 143.6 813.0 144.1 813.2 144.3 813.4 144.1 813.6 144.1 813.8 144.0 814.0 144.4 814.3 144.2 814.5 144.2 814.7 143.9 814.9 144.0 815.1 144.2 815.3 143.8 815.5 143.7 815.8 144.0 816.0 144.5 816.2 144.2 816.4 144.6 816.6 144.1 816.8 144.0 817.0 143.6 817.3 143.9 817.5 144.5 817.7 144.1 817.9 144.3 818.1 144.2 818.3 144.0 818.6 143.9 818.8 144.0 819.0 144.1 819.2 144.1 819.4 144.0 819.6 143.9 819.8 143.6 820.1 143.7 820.3 143.5 820.5 144.0 820.7 143.0 820.9 143.6 821.1 144.4 821.3 143.4 821.6 143.1 821.8 143.4 822.0 143.8 822.2 143.2 822.4 143.4 822.6 143.1 822.8 142.8 823.1 143.8 823.3 142.6 823.5 142.1 823.7 141.8 823.9 141.8 824.1 141.3 824.3 140.9 824.6 140.0 824.8 138.7 825.0 138.4 825.2 137.0 825.4 135.8 825.6 134.0 825.8 132.8 826.1 131.2 826.3 129.9 826.5 127.9 826.7 126.9 826.9 125.8 827.1 124.5 827.3 124.2 827.6 124.0 827.8 124.9 828.0 124.3 828.2 125.7 828.4 126.0 828.6 127.2 828.9 128.3 829.1 128.5 829.3 129.3 829.5 129.5 829.7 131.0 829.9 131.4 830.1 132.2 830.4 132.3 830.6 133.3 830.8 135.0 831.0 135.6 831.2 136.6 831.4 137.7 831.6 138.1 831.9 139.5 832.1 140.0 832.3 140.7 832.5 140.9 832.7 141.7 832.9 141.7 833.1 142.6 833.4 142.9 833.6 143.0 833.8 143.1 834.0 143.3 834.2 142.3 834.4 143.6 834.6 143.3 834.9 143.5 835.1 143.4 835.3 143.1 835.5 143.5 835.7 143.9 835.9 144.2 836.1 143.6 836.4 143.5 836.6 144.3 836.8 143.6 837.0 144.5 837.2 143.9 837.4 143.6 837.7 144.3 837.9 144.5 838.1 143.5 838.3 144.5 838.5 143.9 838.7 144.5 838.9 143.9 839.2 143.6 839.4 144.2 839.6 144.4 839.8 144.8 840.0 144.7 840.2 144.3 840.4 144.1 840.7 144.0 840.9 144.1 841.1 143.9 841.3 144.1 841.5 143.4 841.7 144.2 841.9 144.2 842.2 145.0 842.4 144.4 842.6 144.1 842.8 144.4 843.0 143.8 843.2 144.0 843.4 143.6 843.7 144.7 843.9 144.4 844.1 143.9 844.3 144.2 844.5 144.6 844.7 144.4 844.9 144.4 845.2 144.0 845.4 144.1 845.6 144.3 845.8 144.6 846.0 144.0 846.2 143.9 846.4 144.6 846.7 144.0 846.9 144.6 847.1 144.4 847.3 144.6 847.5 144.8 847.7 144.5 848.0 144.5 848.2 144.0 848.4 144.1 848.6 144.5 848.8 144.8 849.0 144.8 849.2 145.0 849.5 144.4 849.7 144.4 849.9 144.6 850.1 144.3 850.3 144.3 850.5 144.0 850.7 144.6 851.0 144.0 851.2 144.5 851.4 143.9 851.6 144.7 851.8 144.0 852.0 144.6 852.2 143.8 852.5 144.2 852.7 144.7 852.9 144.1 853.1 144.4 853.3 144.2 853.5 143.6 853.7 144.4 854.0 144.5 854.2 144.0 854.4 144.5 854.6 144.1 854.8 144.0 855.0 144.3 855.2 144.1 855.5 145.1 855.7 143.8 855.9 144.6 856.1 144.7 856.3 143.7 856.5 143.8 856.7 144.5" stroke="#034a0a"/>
<path d="M52.0 260.7 52.2 261.0 52.4 261.3 52.6 260.8 52.9 260.6 53.1 260.1 53.3 261.0 53.5 260.7 53.7 261.1 53.9 261.1 54.1 260.5 54.4 261.5 54.6 261.3 54.8 261.3 55.0 260.6 55.2 260.9 55.4 260.9 55.6 260.9 55.9 260.7 56.1 261.2 56.3 261.1 56.5 261.2 56.7 260.9 56.9 261.5 57.2 261.2 57.4 260.2 57.6 260.9 57.8 261.1 58.0 261.4 58.2 261.0 58.4 261.1 58.7 260.9 58.9 261.4 59.1 261.0 59.3 261.0 59.5 260.9 59.7 261.4 59.9 261.0 60.2 260.7 60.4 261.4 60.6 261.0 60.8 261.3 61.0 261.4 61.2 261.6 61.4 261.6 61.7 261.1 61.9 261.2 62.1 260.9 62.3 261.8 62.5 261.4 62.7 261.7 62.9 261.2 63.2 260.7 63.4 261.8 63.6 261.4 63.8 261.4 64.0 261.4 64.2 261.6 64.4 261.5 64.7 260.9 64.9 261.7 65.1 261.2 65.3 261.2 65.5 261.9 65.7 261.7 65.9 261.3 66.2 260.8 66.4 261.5 66.6 261.6 66.8 261.4 67.0 261.0 67.2 261.2 67.5 261.0 67.7 261.5 67.9 261.7 68.1 261.8 68.3 261.2 68.5 261.6 68.7 261.7 69.0 261.3 69.2 261.5 69.4 262.2 69.6 261.6 69.8 261.8 70.0 261.4 70.2 261.5 70.5 261.0 70.7 261.5 70.9 261.9 71.1 262.2 71.3 261.9 71.5 261.8 71.7 261.6 72.0 261.4 72.2 261.5 72.4 261.8 72.6 261.3 72.8 261.9 73.0 261.3 73.2 261.0 73.5 261.3 73.7 261.1 73.9 261.2 74.1 262.0 74.3 261.6 74.5 261.7 74.7 262.0 75.0 262.1 75.2 261.5 75.4 262.1 75.6 261.8 75.8 261.7 76.0 261.8 76.2 261.2 76.5 261.5 76.7 261.7 76.9 261.9 77.1 261.6 77.3 261.7 77.5 262.0 77.8 262.2 78.0 262.0 78.2 262.2 78.4 261.6 78.6 261.7 78.8 261.9 79.0 261.7 79.3 261.6 79.5 262.3 79.7 261.7 79.9 261.5 80.1 262.0 80.3 262.4 80.5 261.8 80.8 262.2 81.0 261.7 81.2 261.7 81.4 261.6 81.6 261.8 81.8 262.4 82.0 261.5 82.3 262.4 82.5 261.5 82.7 261.8 82.9 262.1 83.1 262.1 83.3 262.0 83.5 261.3 83.8 262.0 84.0 261.6 84.2 262.7 84.4 261.8 84.6 262.0 84.8 261.5 85.0 261.8 85.3 261.5 85.5 262.2 85.7 261.8 85.9 262.1 86.1 261.7 86.3 261.8 86.6 262.4 86.8 261.6 87.0 261.4 87.2 262.1 87.4 261.6 87.6 261.8 87.8 262.3 88.1 261.7 88.3 262.3 88.5 261.8 88.7 262.5 88.9 262.4 89.1 261.8 89.3 261.9 89.6 261.7 89.8 262.1 90.0 262.4 90.2 261.6 90.4 262.3 90.6 261.6 90.8 261.8 91.1 261.5 91.3 262.7 91.5 262.1 91.7 262.1 91.9 261.8 92.1 262.4 92.3 261.4 92.6 262.1 92.8 262.8 93.0 262.0 93.2 262.1 93.4 262.3 93.6 261.8 93.8 262.1 94.1 262.4 94.3 262.2 94.5 262.2 94.7 262.0 94.9 262.2 95.1 262.1 95.3 262.6 95.6 262.4 95.8 262.0 96.0 261.3 96.2 262.4 96.4 262.4 96.6 261.8 96.9 261.5 97.1 261.8 97.3 262.4 97.5 261.8 97.7 262.0 97.9 262.2 98.1 262.6 98.4 262.2 98.6 262.1 98.8 262.0 99.0 262.7 99.2 262.5 99.4 262.2 99.6 261.7 99.9 261.9 100.1 262.4 100.3 262.0 100.5 262.5 100.7 262.3 100.9 262.3 101.1 262.4 101.4 262.4 101.6 262.0 101.8 262.1 102.0 263.0 102.2 261.8 102.4 262.1 102.6 262.6 102.9 262.2 103.1 262.0 103.3 261.8 103.5 262.4 103.7 262.6 103.9 262.7 104.1 262.3 104.4 262.6 104.6 261.9 104.8 262.3 105.0 262.1 105.2 262.3 105.4 262.5 105.6 262.6 105.9 262.0 106.1 262.7 106.3 262.1 106.5 262.0 106.7 262.2 106.9 261.8 107.2 262.3 107.4 262.4 107.6 262.3 107.8 262.5 108.0 262.2 108.2 262.3 108.4 261.9 108.7 262.3 108.9 262.1 109.1 262.2 109.3 262.3 109.5 262.4 109.7 261.8 109.9 261.9 110.2 262.3 110.4 262.5 110.6 262.5 110.8 262.6 111.0 262.8 111.2 262.5 111.4 262.4 111.7 262.0 111.9 262.1 112.1 262.2 112.3 262.5 112.5 262.5 112.7 262.4 112.9 262.3 113.2 262.6 113.4 262.5 113.6 262.5 113.8 262.5 114.0 262.2 114.2 262.1 114.4 262.6 114.7 262.5 114.9 262.3 115.1 262.3 115.3 263.2 115.5 262.2 115.7 262.4 116.0 262.5 116.2 262.1 116.4 262.5 116.6 263.0 116.8 262.7 117.0 262.6 117.2 262.6 117.5 262.5 117.7 262.8 117.9 262.4 118.1 262.3 118.3 262.5 118.5 262.8 118.7 262.6 119.0 262.7 119.2 261.8 119.4 262.9 119.6 263.2 119.8 262.9 120.0 262.4 120.2 262.2 120.5 262.6 120.7 262.2 120.9 262.7 121.1 262.3 121.3 262.8 121.5 262.9 121.7 261.8 122.0 262.6 122.2 262.3 122.4 262.1 122.6 262.3 122.8 262.4 123.0 262.8 123.2 262.0 123.5 262.9 123.7 263.2 123.9 262.7 124.1 262.7 124.3 262.5 124.5 262.2 124.7 262.7 125.0 262.7 125.2 262.8 125.4 263.4 125.6 262.8 125.8 262.7 126.0 263.0 126.3 262.1 126.5 262.2 126.7 262.4 126.9 262.3 127.1 262.8 127.3 262.5 127.5 263.1 127.8 263.0 128.0 262.8 128.2 262.4 128.4 262.8 128.6 262.8 128.8 262.2 129.0 262.7 129.3 262.8 129.5 262.6 129.7 263.1 129.9 263.0 130.1 262.3 130.3 262.6 130.5 262.3 130.8 262.8 131.0 262.3 131.2 262.9 131.4 262.7 131.6 262.9 131.8 262.6 132.0 262.1 132.3 263.2 132.5 262.6 132.7 263.0 132.9 262.7 133.1 262.8 133.3 263.2 133.5 262.7 133.8 263.1 134.0 262.1 134.2 262.9 134.4 262.5 134.6 262.6 134.8 262.6 135.1 262.7 135.3 263.2 135.5 262.0 135.7 262.6 135.9 262.4 136.1 263.0 136.3 262.5 136.6 262.8 136.8 262.5 137.0 262.9 137.2 263.0 137.4 262.5 137.6 262.7 137.8 262.2 138.1 262.8 138.3 262.9 138.5 262.5 138.7 263.0 138.9 262.0 139.1 262.1 139.3 262.2 139.6 262.5 139.8 262.7 140.0 262.6 140.2 262.7 140.4 262.9 140.6 262.5 140.8 262.3 141.1 262.3 141.3 263.4 141.5 261.9 141.7 262.6 141.9 263.2 142.1 262.8 142.3 262.4 142.6 262.7 142.8 263.0 143.0 263.1 143.2 262.4 143.4 262.9 143.6 262.8 143.8 263.1 144.1 263.1 144.3 262.6 144.5 262.2 144.7 262.8 144.9 263.3 145.1 262.9 145.4 262.8 145.6 263.5 145.8 262.4 146.0 263.0 146.2 262.5 146.4 262.7 146.6 262.7 146.9 263.2 147.1 262.4 147.3 262.6 147.5 262.2 147.7 262.9 147.9 262.6 148.1 262.9 148.4 262.4 148.6 262.6 148.8 263.1 149.0 262.7 149.2 262.9 149.4 262.9 149.6 262.6 149.9 262.2 150.1 263.1 150.3 262.8 150.5 263.1 150.7 262.1 150.9 262.2 151.1 262.1 151.4 262.5 151.6 263.1 151.8 262.9 152.0 262.7 152.2 262.8 152.4 263.0 152.6 262.7 152.9 262.9 153.1 262.8 153.3 262.1 153.5 262.6 153.7 263.2 153.9 262.6 154.1 262.7 154.4 262.6 154.6 262.6 154.8 263.1 155.0 262.7 155.2 262.4 155.4 261.8 155.7 262.6 155.9 262.1 156.1 262.2 156.3 263.0 156.5 263.0 156.7 262.2 156.9 263.1 157.2 262.9 157.4 262.5 157.6 263.0 157.8 262.3 158.0 262.4 158.2 262.3 158.4 262.4 158.7 263.1 158.9 262.4 159.1 262.4 159.3 262.5 159.5 262.9 159.7 262.7 159.9 263.1 160.2 262.6 160.4 262.4 160.6 262.6 160.8 262.8 161.0 262.5 161.2 262.9 161.4 263.4 161.7 262.6 161.9 262.8 162.1 263.2 162.3 262.6 162.5 262.5 162.7 262.5 162.9 262.9 163.2 263.0 163.4 262.8 163.6 262.8 163.8 263.2 164.0 263.1 164.2 262.4 164.5 262.8 164.7 262.9 164.9 263.1 165.1 262.8 165.3 262.6 165.5 262.7 165.7 262.3 166.0 262.8 166.2 262.6 166.4 263.0 166.6 262.5 166.8 262.7 167.0 262.5 167.2 262.5 167.5 263.1 167.7 262.7 167.9 263.0 168.1 262.5 168.3 262.9 168.5 262.3 168.7 262.7 169.0 262.7 169.2 263.0 169.4 262.9 169.6 262.8 169.8 263.1 170.0 262.9 170.2 263.0 170.5 263.1 170.7 262.8 170.9 262.7 171.1 262.9 171.3 262.7 171.5 263.0 171.7 263.2 172.0 263.1 172.2 262.7 172.4 262.4 172.6 262.8 172.8 262.8 173.0 263.2 173.2 262.7 173.5 262.8 173.7 263.1 173.9 262.7 174.1 262.8 174.3 263.4 174.5 263.3 174.8 263.1 175.0 262.9 175.2 262.5 175.4 263.0 175.6 262.9 175.8 262.9 176.0 262.7 176.3 262.9 176.5 262.8 176.7 263.0 176.9 263.3 177.1 263.0 177.3 262.3 177.5 262.6 177.8 262.4 178.0 262.6 178.2 263.0 178.4 263.0 178.6 262.7 178.8 263.0 179.0 262.6 179.3 262.4 179.5 262.4 179.7 262.6 179.9 263.3 180.1 262.4 180.3 263.3 180.5 263.3 180.8 262.8 181.0 262.9 181.2 262.7 181.4 262.9 181.6 263.1 181.8 262.9 182.0 263.2 182.3 263.3 182.5 263.0 182.7 263.0 182.9 262.9 183.1 263.0 183.3 262.5 183.5 263.0 183.8 263.0 184.0 262.6 184.2 263.6 184.4 262.6 184.6 262.6 184.8 263.0 185.1 262.3 185.3 262.6 185.5 262.4 185.7 262.6 185.9 262.9 186.1 263.0 186.3 263.3 186.6 263.2 186.8 263.3 187.0 263.1 187.2 262.8 187.4 263.3 187.6 262.7 187.8 262.7 188.1 263.4 188.3 263.2 188.5 263.0 188.7 263.1 188.9 263.2 189.1 262.5 189.3 262.9 189.6 262.5 189.8 262.9 190.0 262.7 190.2 263.3 190.4 263.1 190.6 262.7 190.8 262.9 191.1 262.5 191.3 262.9 191.5 263.1 191.7 263.0 191.9 262.3 192.1 262.8 192.3 263.1 192.6 263.0 192.8 263.3 193.0 262.5 193.2 263.1 193.4 262.7 193.6 263.0 193.9 263.0 194.1 263.1 194.3 262.7 194.5 263.0 194.7 262.5 194.9 262.5 195.1 263.1 195.4 262.9 195.6 262.4 195.8 262.7 196.0 262.9 196.2 263.4 196.4 263.3 196.6 263.2 196.9 262.4 197.1 262.9 197.3 263.1 197.5 263.1 197.7 263.1 197.9 262.9 198.1 263.5 198.4 263.4 198.6 262.9 198.8 262.6 199.0 263.6 199.2 262.8 199.4 263.3 199.6 263.5 199.9 262.6 200.1 263.0 200.3 262.8 200.5 263.1 200.7 263.0 200.9 263.6 201.1 263.1 201.4 262.9 201.6 263.3 201.8 262.9 202.0 262.8 202.2 263.7 202.4 262.7 202.6 262.8 202.9 263.0 203.1 262.6 203.3 262.3 203.5 263.3 203.7 262.7 203.9 262.8 204.2 262.8 204.4 262.6 204.6 262.6 204.8 263.0 205.0 263.7 205.2 263.2 205.4 263.2 205.7 262.5 205.9 262.9 206.1 262.6 206.3 263.2 206.5 262.9 206.7 263.0 206.9 262.9 207.2 262.8 207.4 262.5 207.6 263.1 207.8 262.5 208.0 262.6 208.2 262.9 208.4 262.7 208.7 263.0 208.9 263.3 209.1 263.0 209.3 263.0 209.5 263.0 209.7 263.2 209.9 262.4 210.2 263.1 210.4 262.7 210.6 262.6 210.8 263.0 211.0 262.8 211.2 263.1 211.4 263.3 211.7 262.2 211.9 262.9 212.1 263.6 212.3 263.2 212.5 263.4 212.7 263.0 212.9 262.5 213.2 262.6 213.4 263.2 213.6 263.3 213.8 262.7 214.0 262.9 214.2 263.1 214.5 262.4 214.7 262.9 214.9 263.5 215.1 263.7 215.3 262.9 215.5 263.6 215.7 262.8 216.0 262.7 216.2 262.3 216.4 263.3 216.6 262.9 216.8 263.7 217.0 263.1 217.2 263.0 217.5 262.4 217.7 263.5 217.9 262.9 218.1 262.9 218.3 262.3 218.5 263.3 218.7 263.3 219.0 262.8 219.2 263.0 219.4 263.1 219.6 263.3 219.8 263.0 220.0 263.5 220.2 262.9 220.5 262.8 220.7 262.8 220.9 262.2 221.1 262.7 221.3 263.3 221.5 263.1 221.7 262.7 222.0 263.1 222.2 262.3 222.4 262.9 222.6 263.2 222.8 263.2 223.0 262.7 223.3 263.3 223.5 263.6 223.7 262.8 223.9 263.2 224.1 262.5 224.3 262.4 224.5 263.2 224.8 263.0 225.0 263.1 225.2 262.8 225.4 262.9 225.6 263.2 225.8 263.5 226.0 262.9 226.3 262.5 226.5 263.4 226.7 263.2 226.9 263.2 227.1 263.0 227.3 263.7 227.5 263.0 227.8 263.2 228.0 262.4 228.2 262.8 228.4 262.8 228.6 263.0 228.8 263.1 229.0 262.8 229.3 263.5 229.5 262.7 229.7 262.8 229.9 263.1 230.1 262.6 230.3 263.2 230.5 263.2 230.8 262.9 231.0 263.6 231.2 263.0 231.4 263.1 231.6 262.7 231.8 262.5 232.0 262.8 232.3 262.9 232.5 262.9 232.7 263.2 232.9 262.2 233.1 262.6 233.3 262.4 233.6 263.4 233.8 262.8 234.0 262.8 234.2 262.6 234.4 263.3 234.6 262.9 234.8 263.1 235.1 262.3 235.3 263.4 235.5 263.1 235.7 263.2 235.9 263.4 236.1 262.9 236.3 262.9 236.6 263.2 236.8 263.1 237.0 262.9 237.2 263.0 237.4 262.8 237.6 263.2 237.8 263.3 238.1 263.0 238.3 263.6 238.5 262.5 238.7 262.9 238.9 263.6 239.1 262.9 239.3 262.5 239.6 263.5 239.8 263.2 240.0 262.6 240.2 263.3 240.4 262.7 240.6 262.6 240.8 263.0 241.1 262.9 241.3 262.7 241.5 262.9 241.7 262.7 241.9 263.0 242.1 263.0 242.4 263.2 242.6 262.9 242.8 262.6 243.0 262.6 243.2 262.9 243.4 263.5 243.6 263.3 243.9 262.8 244.1 263.3 244.3 262.6 244.5 263.3 244.7 262.9 244.9 263.3 245.1 263.2 245.4 262.9 245.6 263.1 245.8 262.7 246.0 263.0 246.2 263.4 246.4 264.3 246.6 263.2 246.9 263.0 247.1 262.7 247.3 263.3 247.5 262.5 247.7 262.8 247.9 263.1 248.1 262.6 248.4 263.5 248.6 263.4 248.8 262.8 249.0 262.8 249.2 262.6 249.4 262.6 249.6 263.1 249.9 263.2 250.1 263.1 250.3 263.1 250.5 262.8 250.7 263.1 250.9 262.5 251.1 263.0 251.4 263.5 251.6 263.4 251.8 262.9 252.0 262.9 252.2 263.4 252.4 263.6 252.7 262.5 252.9 262.9 253.1 263.1 253.3 263.4 253.5 262.7 253.7 263.2 253.9 262.9 254.2 263.8 254.4 263.1 254.6 263.0 254.8 262.9 255.0 263.3 255.2 263.2 255.4 262.7 255.7 263.1 255.9 262.6 256.1 262.8 256.3 262.6 256.5 262.6 256.7 262.8 256.9 262.7 257.2 263.2 257.4 263.2 257.6 262.9 257.8 262.6 258.0 263.2 258.2 262.3 258.4 262.4 258.7 263.2 258.9 263.2 259.1 263.3 259.3 262.9 259.5 262.6 259.7 262.8 259.9 263.2 260.2 262.7 260.4 262.7 260.6 262.5 260.8 262.6 261.0 263.2 261.2 263.1 261.4 262.6 261.7 262.6 261.9 262.8 262.1 263.1 262.3 262.6 262.5 262.9 262.7 262.2 263.0 262.5 263.2 263.1 263.4 263.2 263.6 262.5 263.8 262.6 264.0 263.1 264.2 262.7 264.5 262.7 264.7 263.0 264.9 262.9 265.1 263.1 265.3 263.0 265.5 262.5 265.7 262.6 266.0 262.6 266.2 262.1 266.4 262.1 266.6 262.6 266.8 261.7 267.0 262.4 267.2 262.0 267.5 261.7 267.7 261.7 267.9 261.4 268.1 261.5 268.3 260.7 268.5 260.5 268.7 260.3 269.0 260.7 269.2 260.2 269.4 259.4 269.6 259.4 269.8 259.1 270.0 259.2 270.2 259.3 270.5 259.9 270.7 258.6 270.9 259.7 271.1 259.6 271.3 259.4 271.5 259.8 271.8 259.9 272.0 260.3 272.2 260.9 272.4 260.3 272.6 261.4 272.8 261.1 273.0 261.9 273.3 261.8 273.5 262.2 273.7 262.2 273.9 262.5 274.1 262.3 274.3 262.1 274.5 262.7 274.8 262.8 275.0 263.3 275.2 262.0 275.4 262.7 275.6 263.1 275.8 262.4 276.0 262.8 276.3 263.5 276.5 263.3 276.7 262.6 276.9 263.4 277.1 263.3 277.3 263.2 277.5 263.1 277.8 263.0 278.0 262.7 278.2 262.8 278.4 263.2 278.6 263.0 278.8 263.6 279.0 262.9 279.3 262.2 279.5 262.9 279.7 263.1 279.9 263.1 280.1 263.0 280.3 262.7 280.5 263.5 280.8 262.8 281.0 263.2 281.2 262.9 281.4 262.6 281.6 263.4 281.8 262.2 282.1 262.7 282.3 263.1 282.5 262.9 282.7 263.2 282.9 263.0 283.1 262.9 283.3 263.7 283.6 262.9 283.8 263.0 284.0 262.7 284.2 262.8 284.4 263.2 284.6 263.2 284.8 263.0 285.1 262.8 285.3 263.2 285.5 262.5 285.7 262.9 285.9 262.9 286.1 262.7 286.3 263.1 286.6 262.8 286.8 262.8 287.0 263.6 287.2 263.3 287.4 263.4 287.6 263.0 287.8 263.3 288.1 263.3 288.3 263.4 288.5 263.8 288.7 262.9 288.9 263.1 289.1 263.0 289.3 261.9 289.6 262.6 289.8 263.0 290.0 263.2 290.2 262.8 290.4 263.4 290.6 263.4 290.8 262.9 291.1 263.5 291.3 263.6 291.5 263.2 291.7 262.7 291.9 263.5 292.1 263.0 292.4 262.9 292.6 263.1 292.8 262.8 293.0 263.4 293.2 263.3 293.4 263.4 293.6 263.2 293.9 262.8 294.1 263.0 294.3 263.3 294.5 262.9 294.7 263.9 294.9 262.9 295.1 262.8 295.4 263.4 295.6 263.2 295.8 263.0 296.0 262.9 296.2 263.1 296.4 263.2 296.6 263.2 296.9 262.9 297.1 263.1 297.3 263.2 297.5 263.2 297.7 261.9 297.9 262.6 298.1 262.6 298.4 262.7 298.6 262.8 298.8 263.0 299.0 262.9 299.2 262.6 299.4 262.6 299.6 263.1 299.9 262.3 300.1 262.5 300.3 262.9 300.5 262.4 300.7 261.6 300.9 262.3 301.2 262.0 301.4 262.1 301.6 262.4 301.8 262.2 302.0 262.0 302.2 262.3 302.4 262.2 302.7 262.1 302.9 262.2 303.1 262.3 303.3 262.1 303.5 262.1 303.7 262.3 303.9 262.1 304.2 262.0 304.4 262.9 304.6 262.5 304.8 262.6 305.0 262.6 305.2 262.7 305.4 262.7 305.7 262.8 305.9 262.6 306.1 263.1 306.3 262.6 306.5 263.2 306.7 262.3 306.9 262.6 307.2 263.2 307.4 262.9 307.6 262.7 307.8 263.1 308.0 262.6 308.2 263.0 308.4 262.3 308.7 262.8 308.9 262.8 309.1 263.2 309.3 263.3 309.5 262.7 309.7 263.5 309.9 262.8 310.2 262.3 310.4 262.2 310.6 263.5 310.8 263.0 311.0 262.8 311.2 262.7 311.5 262.6 311.7 263.4 311.9 263.0 312.1 263.5 312.3 262.9 312.5 262.2 312.7 263.2 313.0 262.9 313.2 262.9 313.4 263.5 313.6 262.9 313.8 263.3 314.0 263.0 314.2 262.7 314.5 263.1 314.7 262.8 314.9 263.3 315.1 263.3 315.3 263.0 315.5 263.1 315.7 263.1 316.0 262.8 316.2 263.2 316.4 262.9 316.6 263.1 316.8 262.6 317.0 262.9 317.2 263.0 317.5 262.6 317.7 262.8 317.9 262.7 318.1 263.1 318.3 262.6 318.5 263.0 318.7 263.3 319.0 263.0 319.2 262.3 319.4 262.9 319.6 263.1 319.8 262.7 320.0 263.1 320.2 263.0 320.5 262.9 320.7 262.6 320.9 262.5 321.1 262.6 321.3 262.7 321.5 262.8 321.8 262.7 322.0 262.4 322.2 262.5 322.4 262.5 322.6 261.7 322.8 261.9 323.0 261.8 323.3 261.8 323.5 261.6 323.7 261.4 323.9 260.9 324.1 261.1 324.3 260.7 324.5 259.7 324.8 259.9 325.0 259.1 325.2 259.5 325.4 258.3 325.6 257.8 325.8 257.4 326.0 256.8 326.3 256.3 326.5 256.3 326.7 255.3 326.9 255.0 327.1 254.7 327.3 253.6 327.5 254.2 327.8 253.7 328.0 253.6 328.2 253.0 328.4 253.6 328.6 253.7 328.8 253.6 329.0 254.8 329.3 254.6 329.5 254.8 329.7 255.3 329.9 256.0 330.1 256.6 330.3 256.8 330.6 257.5 330.8 258.0 331.0 257.6 331.2 258.2 331.4 258.4 331.6 259.1 331.8 259.9 332.1 260.0 332.3 259.7 332.5 260.2 332.7 260.9 332.9 260.6 333.1 261.0 333.3 261.3 333.6 260.8 333.8 261.8 334.0 261.8 334.2 262.0 334.4 261.6 334.6 261.8 334.8 261.9 335.1 262.3 335.3 262.3 335.5 262.4 335.7 263.0 335.9 262.9 336.1 262.3 336.3 262.4 336.6 263.2 336.8 262.6 337.0 263.2 337.2 263.3 337.4 262.6 337.6 262.7 337.8 262.8 338.1 262.5 338.3 262.5 338.5 262.7 338.7 263.1 338.9 262.7 339.1 262.8 339.3 262.7 339.6 262.5 339.8 263.4 340.0 262.2 340.2 262.7 340.4 263.1 340.6 262.5 340.9 263.1 341.1 263.3 341.3 262.7 341.5 263.0 341.7 262.6 341.9 263.1 342.1 263.0 342.4 263.0 342.6 263.4 342.8 263.1 343.0 263.4 343.2 263.2 343.4 262.6 343.6 263.1 343.9 263.1 344.1 262.5 344.3 263.4 344.5 263.0 344.7 263.1 344.9 262.7 345.1 263.0 345.4 263.1 345.6 262.9 345.8 263.0 346.0 262.3 346.2 263.4 346.4 262.7 346.6 262.3 346.9 262.7 347.1 262.7 347.3 263.2 347.5 262.7 347.7 263.1 347.9 262.7 348.1 263.7 348.4 263.2 348.6 263.6 348.8 262.7 349.0 263.2 349.2 262.7 349.4 263.2 349.7 263.2 349.9 262.5 350.1 262.7 350.3 262.7 350.5 262.5 350.7 262.8 350.9 262.7 351.2 262.6 351.4 263.1 351.6 263.2 351.8 262.6 352.0 262.9 352.2 263.0 352.4 263.0 352.7 262.8 352.9 263.3 353.1 263.3 353.3 263.3 353.5 263.0 353.7 263.7 353.9 263.6 354.2 262.9 354.4 263.0 354.6 263.4 354.8 262.8 355.0 263.2 355.2 263.1 355.4 262.8 355.7 263.0 355.9 262.5 356.1 262.9 356.3 262.4 356.5 263.8 356.7 263.5 356.9 263.4 357.2 263.1 357.4 263.4 357.6 263.4 357.8 263.4 358.0 263.3 358.2 262.7 358.4 263.2 358.7 262.9 358.9 262.7 359.1 262.7 359.3 263.2 359.5 263.4 359.7 262.6 360.0 263.6 360.2 263.5 360.4 262.9 360.6 262.9 360.8 263.0 361.0 263.4 361.2 262.9 361.5 262.7 361.7 263.1 361.9 262.4 362.1 263.1 362.3 263.4 362.5 263.1 362.7 263.3 363.0 263.2 363.2 263.3 363.4 263.1 363.6 262.8 363.8 263.0 364.0 263.0 364.2 263.4 364.5 263.6 364.7 263.2 364.9 262.8 365.1 262.8 365.3 263.0 365.5 263.5 365.7 263.1 366.0 263.0 366.2 262.8 366.4 263.3 366.6 263.1 366.8 263.0 367.0 263.1 367.2 263.6 367.5 263.0 367.7 263.6 367.9 263.4 368.1 263.1 368.3 263.3 368.5 263.0 368.7 262.8 369.0 263.0 369.2 262.7 369.4 263.2 369.6 263.0 369.8 263.2 370.0 263.3 370.3 262.0 370.5 263.1 370.7 262.5 370.9 263.1 371.1 262.8 371.3 263.1 371.5 263.5 371.8 262.5 372.0 263.1 372.2 263.0 372.4 262.4 372.6 263.2 372.8 263.0 373.0 262.9 373.3 262.8 373.5 264.1 373.7 262.9 373.9 262.5 374.1 262.7 374.3 262.9 374.5 262.9 374.8 263.0 375.0 262.7 375.2 263.2 375.4 262.9 375.6 262.6 375.8 262.8 376.0 262.9 376.3 263.3 376.5 263.2 376.7 262.9 376.9 263.0 377.1 263.1 377.3 263.7 377.5 262.8 377.8 263.2 378.0 263.3 378.2 262.7 378.4 263.1 378.6 263.1 378.8 262.9 379.1 263.2 379.3 263.4 379.5 263.4 379.7 263.0 379.9 263.1 380.1 263.8 380.3 262.7 380.6 263.1 380.8 263.3 381.0 263.1 381.2 263.2 381.4 263.1 381.6 263.3 381.8 263.4 382.1 262.9 382.3 263.1 382.5 263.0 382.7 262.9 382.9 263.0 383.1 262.6 383.3 263.2 383.6 263.6 383.8 263.6 384.0 263.4 384.2 262.7 384.4 263.5 384.6 262.8 384.8 263.0 385.1 263.6 385.3 262.7 385.5 263.3 385.7 263.1 385.9 263.0 386.1 262.7 386.3 263.1 386.6 262.8 386.8 263.3 387.0 263.4 387.2 262.6 387.4 262.8 387.6 262.9 387.8 262.6 388.1 262.6 388.3 263.0 388.5 262.9 388.7 262.5 388.9 262.8 389.1 263.2 389.4 262.6 389.6 262.7 389.8 263.5 390.0 263.4 390.2 262.5 390.4 262.5 390.6 263.1 390.9 262.6 391.1 262.9 391.3 262.8 391.5 263.2 391.7 262.2 391.9 262.3 392.1 262.6 392.4 263.3 392.6 262.9 392.8 262.4 393.0 263.1 393.2 263.2 393.4 262.9 393.6 262.8 393.9 263.1 394.1 263.3 394.3 263.0 394.5 263.1 394.7 262.9 394.9 262.8 395.1 262.6 395.4 263.0 395.6 262.8 395.8 262.9 396.0 263.2 396.2 263.1 396.4 263.2 396.6 262.4 396.9 263.1 397.1 262.7 397.3 262.7 397.5 262.6 397.7 263.3 397.9 263.2 398.1 262.7 398.4 262.5 398.6 262.9 398.8 262.7 399.0 263.4 399.2 262.4 399.4 262.3 399.7 262.8 399.9 262.9 400.1 262.9 400.3 263.1 400.5 263.5 400.7 262.7 400.9 262.7 401.2 262.3 401.4 262.9 401.6 263.1 401.8 262.7 402.0 263.2 402.2 262.8 402.4 263.3 402.7 262.9 402.9 262.4 403.1 262.6 403.3 262.3 403.5 262.2 403.7 262.8 403.9 263.0 404.2 263.3 404.4 262.7 404.6 262.6 404.8 262.3 405.0 262.9 405.2 262.7 405.4 262.3 405.7 262.7 405.9 262.6 406.1 261.8 406.3 262.5 406.5 262.3 406.7 262.0 406.9 261.9 407.2 262.5 407.4 262.4 407.6 262.4 407.8 261.3 408.0 261.4 408.2 261.8 408.5 261.0 408.7 261.0 408.9 260.6 409.1 261.6 409.3 261.3 409.5 261.0 409.7 260.9 410.0 260.6 410.2 260.6 410.4 260.9 410.6 260.5 410.8 261.1 411.0 260.6 411.2 260.5 411.5 261.2 411.7 260.8 411.9 261.1 412.1 260.9 412.3 260.4 412.5 261.4 412.7 260.8 413.0 261.7 413.2 260.9 413.4 260.9 413.6 261.7 413.8 261.8 414.0 261.7 414.2 261.3 414.5 262.1 414.7 261.3 414.9 261.7 415.1 261.6 415.3 261.7 415.5 262.1 415.7 261.6 416.0 262.0 416.2 262.0 416.4 261.2 416.6 261.4 416.8 261.6 417.0 261.5 417.2 261.7 417.5 261.0 417.7 261.8 417.9 261.7 418.1 261.4 418.3 260.9 418.5 261.3 418.8 261.0 419.0 261.3 419.2 261.0 419.4 261.1 419.6 260.6 419.8 261.1 420.0 259.7 420.3 260.0 420.5 260.3 420.7 259.5 420.9 260.0 421.1 259.1 421.3 259.3 421.5 258.7 421.8 258.5 422.0 258.4 422.2 257.9 422.4 257.3 422.6 257.6 422.8 256.4 423.0 255.4 423.3 255.2 423.5 254.2 423.7 253.2 423.9 252.0 424.1 249.4 424.3 247.9 424.5 245.2 424.8 241.3 425.0 236.8 425.2 230.1 425.4 223.8 425.6 215.9 425.8 204.6 426.0 193.5 426.3 181.6 426.5 170.1 426.7 161.3 426.9 155.2 427.1 155.1 427.3 158.2 427.5 162.2 427.8 168.4 428.0 175.7 428.2 183.5 428.4 192.3 428.6 201.0 428.8 211.2 429.1 219.9 429.3 227.1 429.5 233.4 429.7 239.4 429.9 242.5 430.1 245.5 430.3 248.4 430.6 250.3 430.8 251.9 431.0 253.3 431.2 254.6 431.4 255.4 431.6 255.7 431.8 256.6 432.1 257.4 432.3 257.6 432.5 258.5 432.7 258.8 432.9 258.6 433.1 259.3 433.3 260.1 433.6 260.2 433.8 259.9 434.0 260.4 434.2 260.1 434.4 260.0 434.6 260.8 434.8 260.8 435.1 261.0 435.3 261.0 435.5 261.2 435.7 261.0 435.9 261.4 436.1 261.6 436.3 261.4 436.6 261.8 436.8 261.0 437.0 261.4 437.2 262.2 437.4 262.3 437.6 261.9 437.9 261.8 438.1 261.5 438.3 262.1 438.5 262.3 438.7 261.6 438.9 262.3 439.1 262.3 439.4 262.3 439.6 261.8 439.8 262.4 440.0 261.8 440.2 262.8 440.4 262.4 440.6 262.0 440.9 262.8 441.1 262.7 441.3 262.2 441.5 263.1 441.7 262.1 441.9 262.6 442.1 262.9 442.4 261.8 442.6 262.8 442.8 262.5 443.0 262.5 443.2 262.2 443.4 262.7 443.6 262.2 443.9 262.3 444.1 262.5 444.3 262.2 444.5 263.1 444.7 262.2 444.9 262.4 445.1 262.6 445.4 262.7 445.6 262.9 445.8 263.0 446.0 262.6 446.2 262.6 446.4 262.7 446.6 263.0 446.9 263.0 447.1 262.6 447.3 262.1 447.5 263.4 447.7 263.1 447.9 262.9 448.2 262.9 448.4 262.6 448.6 262.5 448.8 262.7 449.0 262.7 449.2 262.6 449.4 262.3 449.7 262.7 449.9 263.0 450.1 262.7 450.3 262.8 450.5 262.2 450.7 262.8 450.9 262.8 451.2 262.5 451.4 262.3 451.6 263.0 451.8 262.6 452.0 263.0 452.2 262.7 452.4 263.1 452.7 262.8 452.9 262.4 453.1 262.9 453.3 262.8 453.5 263.1 453.7 262.8 453.9 262.8 454.2 263.2 454.4 263.3 454.6 263.2 454.8 263.2 455.0 263.1 455.2 263.2 455.4 263.2 455.7 263.1 455.9 262.9 456.1 263.0 456.3 263.7 456.5 262.9 456.7 262.9 457.0 262.8 457.2 262.9 457.4 263.0 457.6 262.6 457.8 262.3 458.0 263.0 458.2 262.4 458.5 263.0 458.7 263.0 458.9 263.3 459.1 263.5 459.3 263.1 459.5 262.8 459.7 262.6 460.0 262.7 460.2 263.0 460.4 262.3 460.6 263.0 460.8 263.0 461.0 263.2 461.2 262.9 461.5 263.0 461.7 262.7 461.9 262.8 462.1 262.4 462.3 263.0 462.5 263.5 462.7 263.0 463.0 263.1 463.2 262.7 463.4 263.4 463.6 262.7 463.8 263.2 464.0 263.0 464.2 262.7 464.5 263.3 464.7 263.0 464.9 263.1 465.1 263.1 465.3 263.0 465.5 262.9 465.7 263.1 466.0 262.9 466.2 263.0 466.4 262.8 466.6 262.5 466.8 262.8 467.0 262.8 467.3 263.0 467.5 263.4 467.7 262.5 467.9 263.1 468.1 262.3 468.3 262.7 468.5 262.8 468.8 262.3 469.0 262.4 469.2 263.1 469.4 263.0 469.6 263.0 469.8 262.8 470.0 263.7 470.3 263.0 470.5 262.7 470.7 263.6 470.9 263.2 471.1 262.9 471.3 263.4 471.5 263.1 471.8 263.2 472.0 263.1 472.2 262.7 472.4 263.3 472.6 263.1 472.8 262.7 473.0 262.8 473.3 263.3 473.5 262.9 473.7 263.0 473.9 263.2 474.1 263.1 474.3 262.5 474.5 263.2 474.8 263.3 475.0 263.3 475.2 263.5 475.4 263.1 475.6 263.3 475.8 263.5 476.0 262.9 476.3 263.6 476.5 263.6 476.7 263.3 476.9 263.6 477.1 263.3 477.3 262.8 477.6 263.4 477.8 263.1 478.0 263.2 478.2 263.1 478.4 263.5 478.6 263.2 478.8 262.8 479.1 263.2 479.3 263.3 479.5 262.8 479.7 262.9 479.9 262.9 480.1 262.8 480.3 263.2 480.6 263.4 480.8 263.6 481.0 263.4 481.2 263.4 481.4 263.4 481.6 263.5 481.8 262.9 482.1 263.3 482.3 263.1 482.5 263.0 482.7 262.9 482.9 262.9 483.1 263.0 483.3 262.7 483.6 263.2 483.8 263.0 484.0 263.1 484.2 263.2 484.4 263.3 484.6 262.9 484.8 263.0 485.1 262.5 485.3 262.3 485.5 262.4 485.7 263.5 485.9 262.5 486.1 263.2 486.4 263.5 486.6 262.9 486.8 263.6 487.0 263.6 487.2 263.4 487.4 263.8 487.6 263.3 487.9 262.8 488.1 263.2 488.3 262.9 488.5 262.6 488.7 262.6 488.9 263.8 489.1 262.9 489.4 263.0 489.6 262.8 489.8 263.1 490.0 263.0 490.2 262.9 490.4 262.7 490.6 262.6 490.9 262.8 491.1 263.2 491.3 263.7 491.5 263.4 491.7 263.6 491.9 263.2 492.1 263.0 492.4 262.6 492.6 263.1 492.8 262.4 493.0 263.0 493.2 263.6 493.4 263.2 493.6 263.4 493.9 262.9 494.1 262.6 494.3 262.9 494.5 262.9 494.7 263.4 494.9 263.7 495.1 262.8 495.4 262.9 495.6 263.0 495.8 263.0 496.0 262.7 496.2 263.1 496.4 263.2 496.7 263.2 496.9 262.7 497.1 263.0 497.3 262.5 497.5 263.4 497.7 262.7 497.9 263.0 498.2 262.9 498.4 262.9 498.6 262.7 498.8 262.5 499.0 263.6 499.2 263.1 499.4 263.1 499.7 263.7 499.9 263.0 500.1 263.2 500.3 263.1 500.5 263.4 500.7 263.2 500.9 263.2 501.2 263.0 501.4 263.2 501.6 263.4 501.8 262.4 502.0 263.0 502.2 262.9 502.4 263.0 502.7 262.4 502.9 263.3 503.1 262.8 503.3 263.0 503.5 262.9 503.7 262.5 503.9 262.9 504.2 262.5 504.4 262.8 504.6 263.0 504.8 263.1 505.0 263.1 505.2 263.0 505.4 263.7 505.7 263.2 505.9 262.7 506.1 262.9 506.3 262.8 506.5 263.0 506.7 262.9 507.0 262.8 507.2 263.6 507.4 263.1 507.6 262.9 507.8 263.0 508.0 263.0 508.2 263.5 508.5 263.2 508.7 263.4 508.9 262.0 509.1 263.1 509.3 263.4 509.5 263.7 509.7 263.0 510.0 262.5 510.2 263.2 510.4 262.8 510.6 262.5 510.8 262.8 511.0 263.4 511.2 263.4 511.5 263.2 511.7 262.7 511.9 263.8 512.1 262.6 512.3 263.0 512.5 262.5 512.7 263.4 513.0 263.1 513.2 263.2 513.4 263.0 513.6 262.9 513.8 263.0 514.0 262.3 514.2 263.2 514.5 263.2 514.7 262.7 514.9 262.8 515.1 262.9 515.3 263.3 515.5 262.9 515.8 262.8 516.0 262.6 516.2 262.2 516.4 262.5 516.6 262.6 516.8 262.5 517.0 262.6 517.3 262.8 517.5 262.6 517.7 262.5 517.9 262.6 518.1 262.4 518.3 262.3 518.5 262.4 518.8 261.7 519.0 262.6 519.2 261.7 519.4 262.4 519.6 262.1 519.8 262.4 520.0 262.0 520.3 261.7 520.5 262.3 520.7 262.0 520.9 261.9 521.1 261.9 521.3 262.2 521.5 262.1 521.8 261.9 522.0 261.3 522.2 261.7 522.4 261.9 522.6 262.4 522.8 262.0 523.0 261.8 523.3 262.3 523.5 261.9 523.7 261.9 523.9 262.0 524.1 261.5 524.3 262.4 524.5 262.2 524.8 262.0 525.0 261.8 525.2 262.3 525.4 262.7 525.6 262.1 525.8 262.0 526.1 262.5 526.3 261.9 526.5 261.8 526.7 262.4 526.9 262.3 527.1 262.5 527.3 262.4 527.6 262.8 527.8 262.6 528.0 262.5 528.2 262.6 528.4 263.0 528.6 263.1 528.8 263.1 529.1 263.1 529.3 261.8 529.5 262.6 529.7 262.8 529.9 263.0 530.1 262.4 530.3 263.4 530.6 263.0 530.8 262.8 531.0 263.0 531.2 262.9 531.4 262.7 531.6 263.2 531.8 262.9 532.1 262.6 532.3 262.8 532.5 263.0 532.7 262.7 532.9 263.4 533.1 262.7 533.3 263.6 533.6 263.3 533.8 262.7 534.0 263.1 534.2 263.4 534.4 263.0 534.6 262.7 534.8 263.1 535.1 263.7 535.3 262.6 535.5 263.2 535.7 263.1 535.9 263.0 536.1 262.9 536.4 263.0 536.6 263.4 536.8 263.2 537.0 262.7 537.2 263.6 537.4 262.6 537.6 263.3 537.9 263.1 538.1 263.4 538.3 263.2 538.5 263.4 538.7 263.1 538.9 263.4 539.1 263.2 539.4 263.8 539.6 262.8 539.8 263.4 540.0 263.2 540.2 263.1 540.4 262.9 540.6 263.2 540.9 262.6 541.1 262.6 541.3 263.3 541.5 262.6 541.7 263.5 541.9 263.0 542.1 263.1 542.4 263.1 542.6 263.2 542.8 263.0 543.0 262.9 543.2 263.0 543.4 263.4 543.6 263.4 543.9 263.5 544.1 263.2 544.3 263.0 544.5 262.5 544.7 263.3 544.9 263.3 545.2 262.9 545.4 263.3 545.6 263.5 545.8 263.1 546.0 263.4 546.2 263.2 546.4 262.5 546.7 262.9 546.9 262.9 547.1 263.2 547.3 262.8 547.5 262.9 547.7 262.7 547.9 263.0 548.2 263.1 548.4 263.3 548.6 263.3 548.8 263.1 549.0 263.1 549.2 263.1 549.4 263.1 549.7 263.5 549.9 262.2 550.1 262.9 550.3 263.1 550.5 263.3 550.7 262.6 550.9 263.1 551.2 263.2 551.4 262.8 551.6 262.3 551.8 262.8 552.0 262.5 552.2 263.1 552.4 262.6 552.7 263.4 552.9 262.8 553.1 262.5 553.3 262.5 553.5 262.3 553.7 262.7 553.9 263.0 554.2 262.3 554.4 262.6 554.6 261.9 554.8 262.2 555.0 262.8 555.2 261.5 555.5 262.2 555.7 262.1 555.9 261.0 556.1 261.0 556.3 261.0 556.5 261.5 556.7 261.0 557.0 261.0 557.2 261.1 557.4 260.9 557.6 260.8 557.8 260.6 558.0 261.0 558.2 260.4 558.5 261.2 558.7 260.5 558.9 260.4 559.1 260.9 559.3 260.9 559.5 260.2 559.7 261.0 560.0 260.6 560.2 260.8 560.4 261.5 560.6 261.0 560.8 261.5 561.0 261.4 561.2 262.3 561.5 261.7 561.7 261.5 561.9 261.6 562.1 261.8 562.3 262.2 562.5 262.3 562.7 262.7 563.0 262.5 563.2 262.5 563.4 262.7 563.6 262.6 563.8 262.8 564.0 263.0 564.3 263.0 564.5 262.6 564.7 262.3 564.9 262.6 565.1 263.0 565.3 262.1 565.5 262.8 565.8 263.1 566.0 262.8 566.2 262.6 566.4 263.5 566.6 263.4 566.8 262.9 567.0 263.4 567.3 263.4 567.5 262.7 567.7 263.9 567.9 262.7 568.1 262.9 568.3 262.7 568.5 263.1 568.8 262.6 569.0 263.0 569.2 263.4 569.4 263.1 569.6 263.0 569.8 263.5 570.0 262.8 570.3 263.4 570.5 263.0 570.7 263.1 570.9 263.1 571.1 263.1 571.3 263.0 571.5 262.8 571.8 262.9 572.0 263.2 572.2 263.0 572.4 262.7 572.6 262.8 572.8 262.8 573.0 263.0 573.3 263.1 573.5 263.1 573.7 262.9 573.9 263.1 574.1 262.6 574.3 262.1 574.6 263.0 574.8 262.5 575.0 262.8 575.2 262.7 575.4 263.3 575.6 262.7 575.8 263.2 576.1 262.9 576.3 262.7 576.5 262.6 576.7 263.2 576.9 263.2 577.1 263.3 577.3 263.7 577.6 263.2 577.8 263.2 578.0 263.0 578.2 263.1 578.4 263.0 578.6 262.8 578.8 263.7 579.1 262.5 579.3 263.1 579.5 263.2 579.7 263.1 579.9 262.8 580.1 263.0 580.3 262.9 580.6 262.7 580.8 263.0 581.0 262.9 581.2 262.9 581.4 263.3 581.6 262.7 581.8 263.2 582.1 262.9 582.3 263.2 582.5 263.1 582.7 263.1 582.9 262.7 583.1 262.8 583.3 262.8 583.6 263.1 583.8 263.3 584.0 263.4 584.2 262.9 584.4 263.1 584.6 262.5 584.9 262.4 585.1 262.8 585.3 262.8 585.5 262.6 585.7 262.5 585.9 263.2 586.1 262.8 586.4 262.5 586.6 263.8 586.8 263.1 587.0 263.0 587.2 263.3 587.4 262.8 587.6 263.6 587.9 262.6 588.1 262.6 588.3 263.0 588.5 262.8 588.7 263.5 588.9 262.5 589.1 262.8 589.4 263.1 589.6 263.2 589.8 263.4 590.0 263.2 590.2 263.8 590.4 262.9 590.6 263.1 590.9 263.3 591.1 262.9 591.3 263.0 591.5 262.9 591.7 262.8 591.9 262.7 592.1 262.9 592.4 262.5 592.6 263.2 592.8 262.5 593.0 263.7 593.2 263.6 593.4 263.4 593.7 263.0 593.9 262.9 594.1 263.4 594.3 263.1 594.5 263.2 594.7 262.8 594.9 263.4 595.2 262.8 595.4 263.1 595.6 262.5 595.8 262.8 596.0 263.2 596.2 262.9 596.4 262.9 596.7 263.3 596.9 263.0 597.1 263.4 597.3 262.3 597.5 263.2 597.7 263.2 597.9 262.5 598.2 262.6 598.4 263.3 598.6 262.7 598.8 262.8 599.0 263.2 599.2 262.9 599.4 263.2 599.7 262.7 599.9 263.1 600.1 263.4 600.3 263.1 600.5 262.3 600.7 263.2 600.9 263.0 601.2 262.7 601.4 263.5 601.6 262.5 601.8 263.6 602.0 262.8 602.2 263.5 602.4 263.0 602.7 262.6 602.9 263.0 603.1 263.1 603.3 263.2 603.5 263.3 603.7 262.7 604.0 263.1 604.2 263.2 604.4 262.9 604.6 262.7 604.8 262.7 605.0 263.2 605.2 263.2 605.5 262.7 605.7 262.5 605.9 263.4 606.1 262.5 606.3 263.0 606.5 262.7 606.7 262.4 607.0 263.0 607.2 262.9 607.4 263.4 607.6 263.7 607.8 262.9 608.0 263.2 608.2 263.2 608.5 262.7 608.7 262.6 608.9 263.4 609.1 262.7 609.3 262.8 609.5 262.7 609.7 262.8 610.0 262.6 610.2 263.0 610.4 263.2 610.6 262.6 610.8 262.3 611.0 262.7 611.2 262.2 611.5 262.4 611.7 262.9 611.9 263.2 612.1 262.6 612.3 262.1 612.5 262.6 612.7 261.6 613.0 262.0 613.2 262.6 613.4 262.3 613.6 261.5 613.8 261.3 614.0 262.0 614.3 261.7 614.5 261.4 614.7 261.6 614.9 261.2 615.1 260.6 615.3 261.4 615.5 260.8 615.8 260.5 616.0 260.3 616.2 260.7 616.4 260.2 616.6 260.6 616.8 260.2 617.0 260.5 617.3 259.9 617.5 259.7 617.7 259.2 617.9 259.4 618.1 260.0 618.3 260.6 618.5 259.2 618.8 259.3 619.0 259.7 619.2 259.7 619.4 259.4 619.6 259.6 619.8 259.1 620.0 259.6 620.3 260.1 620.5 260.4 620.7 259.9 620.9 259.9 621.1 260.3 621.3 260.6 621.5 260.5 621.8 260.2 622.0 260.7 622.2 261.0 622.4 260.6 622.6 260.5 622.8 261.2 623.1 261.3 623.3 261.6 623.5 261.4 623.7 261.3 623.9 261.5 624.1 261.4 624.3 261.5 624.6 261.7 624.8 261.8 625.0 262.4 625.2 261.7 625.4 262.2 625.6 262.1 625.8 262.8 626.1 262.5 626.3 262.3 626.5 262.7 626.7 262.5 626.9 262.4 627.1 263.1 627.3 262.9 627.6 263.2 627.8 263.1 628.0 263.0 628.2 262.8 628.4 262.4 628.6 263.0 628.8 262.8 629.1 263.0 629.3 262.8 629.5 262.6 629.7 262.5 629.9 263.1 630.1 263.2 630.3 262.7 630.6 263.0 630.8 263.3 631.0 262.6 631.2 262.7 631.4 262.5 631.6 263.2 631.8 262.9 632.1 262.7 632.3 262.3 632.5 262.8 632.7 263.2 632.9 262.8 633.1 262.7 633.4 263.0 633.6 262.4 633.8 262.9 634.0 263.0 634.2 262.6 634.4 262.6 634.6 262.9 634.9 262.8 635.1 262.7 635.3 262.9 635.5 262.9 635.7 262.5 635.9 262.6 636.1 262.9 636.4 263.1 636.6 263.2 636.8 262.5 637.0 263.1 637.2 262.9 637.4 262.7 637.6 262.8 637.9 262.9 638.1 263.2 638.3 262.2 638.5 262.7 638.7 262.5 638.9 262.4 639.1 262.8 639.4 262.6 639.6 262.0 639.8 262.2 640.0 262.3 640.2 261.7 640.4 262.3 640.6 261.8 640.9 261.7 641.1 261.6 641.3 261.8 641.5 260.9 641.7 260.3 641.9 260.5 642.1 259.2 642.4 258.4 642.6 257.4 642.8 257.2 643.0 256.0 643.2 255.0 643.4 253.8 643.7 252.6 643.9 251.4 644.1 250.6 644.3 250.4 644.5 250.1 644.7 250.5 644.9 249.9 645.2 250.4 645.4 250.7 645.6 251.9 645.8 251.6 646.0 252.9 646.2 253.7 646.4 254.0 646.7 255.0 646.9 254.9 647.1 256.3 647.3 256.7 647.5 258.1 647.7 258.7 647.9 259.1 648.2 260.2 648.4 260.5 648.6 260.6 648.8 260.9 649.0 260.9 649.2 261.6 649.4 262.5 649.7 261.7 649.9 262.2 650.1 262.0 650.3 262.5 650.5 262.5 650.7 262.3 650.9 261.9 651.2 262.3 651.4 262.9 651.6 262.5 651.8 262.8 652.0 262.5 652.2 262.1 652.5 262.8 652.7 262.8 652.9 262.5 653.1 262.6 653.3 262.9 653.5 262.6 653.7 262.9 654.0 262.7 654.2 262.1 654.4 262.8 654.6 262.7 654.8 262.6 655.0 263.0 655.2 262.7 655.5 263.1 655.7 263.2 655.9 262.9 656.1 262.4 656.3 262.7 656.5 263.2 656.7 262.8 657.0 262.7 657.2 262.9 657.4 263.1 657.6 263.0 657.8 263.2 658.0 262.7 658.2 262.9 658.5 262.9 658.7 263.0 658.9 262.3 659.1 262.9 659.3 262.6 659.5 263.4 659.7 263.5 660.0 263.5 660.2 263.2 660.4 262.8 660.6 263.3 660.8 262.9 661.0 263.2 661.2 262.7 661.5 262.8 661.7 263.2 661.9 263.6 662.1 263.0 662.3 263.7 662.5 263.9 662.8 262.6 663.0 263.0 663.2 262.7 663.4 263.0 663.6 262.9 663.8 263.0 664.0 263.3 664.3 263.3 664.5 263.1 664.7 263.0 664.9 263.1 665.1 263.1 665.3 263.2 665.5 263.0 665.8 263.2 666.0 262.6 666.2 263.3 666.4 263.6 666.6 263.1 666.8 262.6 667.0 263.5 667.3 262.9 667.5 262.1 667.7 263.0 667.9 263.2 668.1 263.2 668.3 263.4 668.5 263.2 668.8 263.1 669.0 262.4 669.2 262.7 669.4 263.1 669.6 263.3 669.8 262.7 670.0 262.9 670.3 263.2 670.5 262.4 670.7 262.4 670.9 263.0 671.1 263.1 671.3 262.9 671.6 262.3 671.8 263.1 672.0 262.6 672.2 263.3 672.4 263.0 672.6 263.1 672.8 263.3 673.1 262.9 673.3 263.3 673.5 263.5 673.7 263.2 673.9 263.5 674.1 262.9 674.3 263.4 674.6 263.1 674.8 262.7 675.0 263.0 675.2 262.9 675.4 262.9 675.6 263.1 675.8 263.4 676.1 263.0 676.3 263.1 676.5 262.6 676.7 263.1 676.9 263.4 677.1 263.3 677.3 263.2 677.6 262.9 677.8 262.8 678.0 263.0 678.2 262.6 678.4 262.7 678.6 263.4 678.8 262.8 679.1 263.6 679.3 262.6 679.5 263.2 679.7 262.7 679.9 263.1 680.1 262.7 680.3 263.1 680.6 263.0 680.8 262.9 681.0 263.2 681.2 263.5 681.4 262.9 681.6 263.4 681.9 263.1 682.1 263.1 682.3 263.8 682.5 262.4 682.7 262.9 682.9 262.5 683.1 263.0 683.4 263.0 683.6 264.3 683.8 263.2 684.0 263.6 684.2 263.5 684.4 262.9 684.6 263.2 684.9 263.6 685.1 263.1 685.3 263.1 685.5 263.2 685.7 262.6 685.9 262.8 686.1 263.2 686.4 263.2 686.6 262.8 686.8 263.0 687.0 263.0 687.2 263.0 687.4 263.3 687.6 263.1 687.9 263.1 688.1 262.6 688.3 262.7 688.5 263.2 688.7 262.6 688.9 263.2 689.1 262.9 689.4 262.8 689.6 263.3 689.8 262.9 690.0 262.8 690.2 262.9 690.4 263.1 690.6 263.9 690.9 262.4 691.1 263.1 691.3 263.0 691.5 263.4 691.7 263.0 691.9 262.3 692.2 263.5 692.4 262.7 692.6 263.1 692.8 262.6 693.0 262.7 693.2 262.9 693.4 263.3 693.7 263.3 693.9 262.9 694.1 263.2 694.3 263.0 694.5 263.1 694.7 263.1 694.9 263.3 695.2 262.9 695.4 263.0 695.6 263.1 695.8 263.1 696.0 262.8 696.2 263.6 696.4 262.9 696.7 263.3 696.9 263.1 697.1 263.5 697.3 262.4 697.5 263.7 697.7 263.0 697.9 262.7 698.2 263.1 698.4 263.8 698.6 263.2 698.8 262.7 699.0 262.9 699.2 263.5 699.4 262.6 699.7 263.0 699.9 263.0 700.1 263.8 700.3 263.0 700.5 263.5 700.7 262.9 701.0 262.8 701.2 263.4 701.4 263.3 701.6 262.5 701.8 263.3 702.0 263.3 702.2 262.9 702.5 263.1 702.7 263.2 702.9 262.9 703.1 262.9 703.3 262.9 703.5 263.0 703.7 262.7 704.0 263.1 704.2 262.6 704.4 263.1 704.6 263.0 704.8 262.7 705.0 263.3 705.2 263.7 705.5 263.5 705.7 262.6 705.9 263.5 706.1 263.1 706.3 263.1 706.5 262.9 706.7 263.1 707.0 263.5 707.2 263.2 707.4 262.9 707.6 262.9 707.8 262.9 708.0 263.3 708.2 263.7 708.5 262.7 708.7 263.1 708.9 263.0 709.1 262.8 709.3 263.2 709.5 263.3 709.7 262.6 710.0 262.7 710.2 263.5 710.4 263.2 710.6 263.2 710.8 262.9 711.0 263.0 711.3 263.2 711.5 262.9 711.7 262.7 711.9 263.1 712.1 263.4 712.3 262.8 712.5 263.4 712.8 263.3 713.0 262.8 713.2 263.1 713.4 263.1 713.6 263.3 713.8 263.3 714.0 262.7 714.3 262.7 714.5 263.4 714.7 263.1 714.9 263.2 715.1 263.2 715.3 263.6 715.5 262.7 715.8 263.4 716.0 262.8 716.2 263.3 716.4 263.5 716.6 262.6 716.8 263.2 717.0 263.0 717.3 263.0 717.5 263.1 717.7 262.7 717.9 262.8 718.1 263.3 718.3 263.3 718.5 262.9 718.8 262.6 719.0 263.8 719.2 263.4 719.4 263.2 719.6 262.8 719.8 262.9 720.0 263.2 720.3 262.8 720.5 263.6 720.7 263.1 720.9 263.2 721.1 262.8 721.3 262.8 721.6 262.8 721.8 263.2 722.0 263.0 722.2 263.0 722.4 263.2 722.6 263.2 722.8 263.5 723.1 263.0 723.3 262.8 723.5 263.1 723.7 263.5 723.9 262.9 724.1 263.1 724.3 263.0 724.6 263.2 724.8 263.2 725.0 262.8 725.2 263.0 725.4 263.4 725.6 263.4 725.8 263.4 726.1 263.4 726.3 263.0 726.5 263.0 726.7 263.4 726.9 262.7 727.1 263.1 727.3 262.5 727.6 263.0 727.8 262.9 728.0 262.7 728.2 263.3 728.4 262.8 728.6 263.0 728.8 263.0 729.1 262.8 729.3 263.5 729.5 262.9 729.7 263.1 729.9 262.7 730.1 262.9 730.4 263.0 730.6 263.0 730.8 262.9 731.0 263.1 731.2 263.6 731.4 263.0 731.6 263.0 731.9 263.0 732.1 263.9 732.3 263.6 732.5 263.3 732.7 263.3 732.9 262.9 733.1 263.0 733.4 263.1 733.6 263.1 733.8 262.8 734.0 262.8 734.2 263.2 734.4 263.2 734.6 262.4 734.9 263.1 735.1 263.5 735.3 262.9 735.5 263.2 735.7 262.6 735.9 263.3 736.1 262.7 736.4 262.7 736.6 263.0 736.8 263.8 737.0 262.9 737.2 262.7 737.4 263.2 737.6 263.2 737.9 263.6 738.1 262.7 738.3 262.6 738.5 263.0 738.7 263.2 738.9 263.2 739.1 263.4 739.4 262.6 739.6 262.8 739.8 263.0 740.0 263.3 740.2 263.2 740.4 262.9 740.7 262.8 740.9 263.4 741.1 263.4 741.3 263.9 741.5 263.0 741.7 263.6 741.9 262.7 742.2 262.9 742.4 262.9 742.6 262.9 742.8 262.8 743.0 262.9 743.2 263.1 743.4 262.9 743.7 263.3 743.9 263.1 744.1 263.1 744.3 263.5 744.5 263.2 744.7 263.1 744.9 263.1 745.2 263.1 745.4 263.3 745.6 262.8 745.8 263.4 746.0 263.6 746.2 263.4 746.4 262.9 746.7 262.6 746.9 262.9 747.1 263.1 747.3 263.3 747.5 263.0 747.7 263.0 747.9 263.6 748.2 262.9 748.4 263.4 748.6 263.4 748.8 262.7 749.0 263.2 749.2 262.9 749.4 262.8 749.7 262.5 749.9 262.6 750.1 263.2 750.3 263.0 750.5 263.2 750.7 262.7 751.0 263.0 751.2 263.0 751.4 262.6 751.6 262.6 751.8 263.2 752.0 263.1 752.2 262.8 752.5 263.0 752.7 263.3 752.9 263.7 753.1 262.8 753.3 263.3 753.5 263.7 753.7 263.1 754.0 263.5 754.2 262.3 754.4 263.5 754.6 263.1 754.8 262.5 755.0 263.3 755.2 263.4 755.5 263.5 755.7 263.5 755.9 263.1 756.1 262.8 756.3 262.9 756.5 263.1 756.7 263.2 757.0 262.9 757.2 263.1 757.4 263.4 757.6 263.2 757.8 263.8 758.0 263.8 758.2 262.7 758.5 262.9 758.7 262.7 758.9 262.7 759.1 263.3 759.3 262.8 759.5 262.8 759.8 263.0 760.0 263.3 760.2 263.0 760.4 263.0 760.6 263.4 760.8 263.2 761.0 263.2 761.3 263.4 761.5 262.8 761.7 263.1 761.9 262.9 762.1 263.4 762.3 263.3 762.5 262.8 762.8 263.5 763.0 262.7 763.2 263.4 763.4 263.1 763.6 262.8 763.8 262.7 764.0 263.0 764.3 263.1 764.5 262.9 764.7 263.3 764.9 262.6 765.1 263.1 765.3 263.1 765.5 262.5 765.8 263.2 766.0 262.7 766.2 262.3 766.4 262.9 766.6 263.0 766.8 263.4 767.0 262.9 767.3 263.5 767.5 263.5 767.7 263.4 767.9 263.5 768.1 263.2 768.3 262.9 768.5 263.3 768.8 263.4 769.0 263.2 769.2 263.0 769.4 262.6 769.6 263.3 769.8 263.2 770.1 262.7 770.3 263.1 770.5 263.3 770.7 263.0 770.9 263.3 771.1 263.3 771.3 262.6 771.6 263.0 771.8 263.2 772.0 263.4 772.2 263.5 772.4 262.5 772.6 263.1 772.8 263.3 773.1 263.5 773.3 263.6 773.5 262.8 773.7 263.0 773.9 262.7 774.1 263.3 774.3 262.7 774.6 263.5 774.8 263.4 775.0 263.2 775.2 262.4 775.4 262.9 775.6 263.3 775.8 262.6 776.1 263.0 776.3 263.0 776.5 263.4 776.7 263.2 776.9 263.2 777.1 262.9 777.3 263.1 777.6 263.0 777.8 263.3 778.0 263.0 778.2 263.4 778.4 262.5 778.6 263.5 778.9 263.0 779.1 263.4 779.3 263.1 779.5 263.3 779.7 263.5 779.9 262.9 780.1 263.1 780.4 263.0 780.6 263.1 780.8 262.6 781.0 263.0 781.2 263.0 781.4 262.8 781.6 263.0 781.9 262.6 782.1 263.5 782.3 263.2 782.5 263.7 782.7 262.8 782.9 262.7 783.1 263.2 783.4 262.5 783.6 263.1 783.8 262.8 784.0 263.0 784.2 263.2 784.4 263.1 784.6 263.7 784.9 263.3 785.1 262.7 785.3 263.4 785.5 262.6 785.7 263.1 785.9 262.7 786.1 262.8 786.4 263.5 786.6 262.9 786.8 262.9 787.0 262.9 787.2 263.0 787.4 263.5 787.6 262.7 787.9 262.7 788.1 263.2 788.3 262.6 788.5 263.0 788.7 263.4 788.9 263.1 789.2 262.9 789.4 262.8 789.6 262.8 789.8 262.9 790.0 263.1 790.2 263.5 790.4 263.4 790.7 262.9 790.9 262.8 791.1 263.3 791.3 262.5 791.5 262.9 791.7 263.0 791.9 262.7 792.2 262.7 792.4 263.2 792.6 262.5 792.8 262.8 793.0 262.9 793.2 263.1 793.4 262.6 793.7 263.4 793.9 263.0 794.1 263.0 794.3 262.9 794.5 262.8 794.7 262.7 794.9 263.4 795.2 263.1 795.4 263.0 795.6 263.4 795.8 262.8 796.0 263.2 796.2 263.1 796.4 262.8 796.7 263.3 796.9 262.6 797.1 263.3 797.3 262.8 797.5 263.2 797.7 263.5 797.9 263.2 798.2 262.9 798.4 263.0 798.6 262.9 798.8 262.7 799.0 262.7 799.2 263.1 799.5 263.2 799.7 262.5 799.9 263.0 800.1 263.2 800.3 263.1 800.5 262.7 800.7 263.4 801.0 262.7 801.2 263.2 801.4 263.5 801.6 262.4 801.8 263.1 802.0 263.1 802.2 263.1 802.5 262.8 802.7 262.9 802.9 262.6 803.1 263.1 803.3 263.2 803.5 262.8 803.7 262.7 804.0 262.9 804.2 263.0 804.4 263.0 804.6 263.0 804.8 263.0 805.0 262.6 805.2 262.2 805.5 263.2 805.7 263.5 805.9 262.6 806.1 262.8 806.3 263.1 806.5 263.3 806.7 263.2 807.0 263.4 807.2 263.0 807.4 263.1 807.6 263.1 807.8 262.9 808.0 263.4 808.3 263.2 808.5 263.3 808.7 262.9 808.9 263.3 809.1 262.7 809.3 263.1 809.5 262.2 809.8 262.7 810.0 263.2 810.2 262.8 810.4 263.0 810.6 262.5 810.8 263.5 811.0 263.2 811.3 263.0 811.5 263.1 811.7 263.1 811.9 263.4 812.1 263.0 812.3 262.5 812.5 262.9 812.8 263.4 813.0 263.1 813.2 262.8 813.4 263.1 813.6 263.0 813.8 263.1 814.0 262.4 814.3 262.7 814.5 263.1 814.7 262.9 814.9 263.0 815.1 263.5 815.3 262.8 815.5 263.0 815.8 262.7 816.0 262.7 816.2 262.9 816.4 262.4 816.6 262.2 816.8 263.3 817.0 262.9 817.3 263.2 817.5 262.9 817.7 262.9 817.9 263.1 818.1 263.1 818.3 262.5 818.6 263.2 818.8 262.5 819.0 262.9 819.2 263.6 819.4 262.8 819.6 263.3 819.8 262.7 820.1 263.0 820.3 262.8 820.5 262.9 820.7 262.5 820.9 262.4 821.1 262.8 821.3 262.2 821.6 262.4 821.8 262.9 822.0 262.4 822.2 262.3 822.4 262.2 822.6 262.6 822.8 262.4 823.1 262.5 823.3 262.4 823.5 263.0 823.7 262.3 823.9 261.7 824.1 262.3 824.3 262.3 824.6 262.2 824.8 261.6 825.0 262.4 825.2 261.9 825.4 261.8 825.6 261.2 825.8 261.7 826.1 261.4 826.3 261.6 826.5 260.7 826.7 260.1 826.9 260.1 827.1 259.2 827.3 259.0 827.6 257.8 827.8 257.2 828.0 256.2 828.2 255.1 828.4 253.7 828.6 252.3 828.9 251.2 829.1 249.7 829.3 248.6 829.5 247.4 829.7 245.9 829.9 246.0 830.1 246.2 830.4 246.0 830.6 246.4 830.8 246.9 831.0 247.3 831.2 247.7 831.4 249.0 831.6 249.6 831.9 250.0 832.1 250.4 832.3 250.9 832.5 251.3 832.7 252.0 832.9 252.6 833.1 253.5 833.4 254.0 833.6 254.9 833.8 256.2 834.0 256.7 834.2 256.8 834.4 258.3 834.6 258.2 834.9 260.1 835.1 260.2 835.3 260.6 835.5 260.6 835.7 260.7 835.9 261.3 836.1 261.5 836.4 261.5 836.6 261.9 836.8 262.2 837.0 262.3 837.2 261.8 837.4 261.6 837.7 262.3 837.9 262.1 838.1 262.5 838.3 262.9 838.5 263.0 838.7 262.6 838.9 262.9 839.2 263.1 839.4 262.6 839.6 262.7 839.8 262.9 840.0 262.6 840.2 262.5 840.4 262.5 840.7 262.7 840.9 262.5 841.1 263.0 841.3 262.7 841.5 263.2 841.7 263.1 841.9 262.4 842.2 263.1 842.4 262.7 842.6 263.2 842.8 263.0 843.0 262.8 843.2 263.1 843.4 262.7 843.7 263.0 843.9 263.0 844.1 262.8 844.3 263.0 844.5 262.6 844.7 263.1 844.9 262.5 845.2 263.1 845.4 263.1 845.6 263.1 845.8 262.8 846.0 263.9 846.2 262.9 846.4 263.0 846.7 262.7 846.9 263.4 847.1 262.8 847.3 263.3 847.5 262.7 847.7 263.1 848.0 262.8 848.2 263.2 848.4 262.9 848.6 262.7 848.8 263.1 849.0 262.6 849.2 262.7 849.5 263.2 849.7 262.4 849.9 263.2 850.1 262.9 850.3 262.7 850.5 263.1 850.7 263.2 851.0 262.8 851.2 262.9 851.4 263.2 851.6 263.2 851.8 263.0 852.0 262.8 852.2 262.7 852.5 262.8 852.7 263.2 852.9 263.2 853.1 263.1 853.3 263.4 853.5 262.9 853.7 262.9 854.0 262.9 854.2 263.6 854.4 262.4 854.6 263.1 854.8 263.2 855.0 263.0 855.2 263.7 855.5 263.4 855.7 263.3 855.9 262.8 856.1 263.2 856.3 262.9 856.5 263.1 856.7 263.1" stroke="#06066e"/>
<path d="M52.0 364.8 52.2 365.2 52.4 365.5 52.6 365.3 52.9 365.1 53.1 364.4 53.3 365.4 53.5 365.4 53.7 365.0 53.9 364.9 54.1 365.3 54.4 364.8 54.6 365.3 54.8 364.8 55.0 364.8 55.2 365.1 55.4 364.7 55.6 365.1 55.9 365.3 56.1 364.7 56.3 365.4 56.5 365.0 56.7 365.3 56.9 365.2 57.2 365.0 57.4 365.0 57.6 364.7 57.8 365.0 58.0 365.0 58.2 365.7 58.4 365.5 58.7 364.8 58.9 365.5 59.1 365.3 59.3 365.1 59.5 365.4 59.7 365.5 59.9 365.1 60.2 365.2 60.4 365.3 60.6 365.0 60.8 365.3 61.0 365.3 61.2 365.1 61.4 365.0 61.7 365.4 61.9 365.6 62.1 365.4 62.3 365.1 62.5 365.5 62.7 365.4 62.9 365.5 63.2 365.7 63.4 365.1 63.6 365.3 63.8 365.2 64.0 365.1 64.2 366.0 64.4 365.7 64.7 364.8 64.9 365.5 65.1 365.2 65.3 365.7 65.5 365.4 65.7 365.4 65.9 365.5 66.2 365.5 66.4 365.4 66.6 365.4 66.8 365.4 67.0 365.6 67.2 365.1 67.5 365.4 67.7 365.4 67.9 365.3 68.1 365.7 68.3 365.1 68.5 365.4 68.7 365.2 69.0 365.6 69.2 365.4 69.4 365.5 69.6 365.6 69.8 365.0 70.0 365.6 70.2 365.3 70.5 365.4 70.7 365.5 70.9 365.8 71.1 365.8 71.3 366.1 71.5 365.6 71.7 365.4 72.0 365.4 72.2 365.8 72.4 366.0 72.6 365.7 72.8 365.4 73.0 365.7 73.2 365.7 73.5 365.6 73.7 365.4 73.9 364.8 74.1 365.4 74.3 365.9 74.5 365.7 74.7 365.0 75.0 365.6 75.2 365.1 75.4 366.2 75.6 365.7 75.8 365.3 76.0 365.9 76.2 365.4 76.5 365.8 76.7 365.7 76.9 365.3 77.1 365.9 77.3 365.3 77.5 366.1 77.8 365.7 78.0 365.4 78.2 365.2 78.4 366.2 78.6 366.1 78.8 365.3 79.0 366.2 79.3 365.8 79.5 365.7 79.7 365.7 79.9 365.6 80.1 366.2 80.3 365.8 80.5 365.2 80.8 366.4 81.0 366.0 81.2 365.4 81.4 365.7 81.6 365.5 81.8 365.8 82.0 365.9 82.3 365.8 82.5 365.6 82.7 365.5 82.9 366.0 83.1 365.8 83.3 366.5 83.5 365.6 83.8 366.0 84.0 365.8 84.2 365.6 84.4 366.2 84.6 365.9 84.8 365.6 85.0 365.7 85.3 366.1 85.5 365.5 85.7 366.2 85.9 366.0 86.1 365.8 86.3 366.3 86.6 366.4 86.8 366.0 87.0 365.9 87.2 366.4 87.4 366.3 87.6 365.6 87.8 365.8 88.1 365.8 88.3 365.8 88.5 365.4 88.7 366.2 88.9 365.9 89.1 365.9 89.3 366.3 89.6 365.7 89.8 365.9 90.0 366.0 90.2 365.8 90.4 365.9 90.6 366.2 90.8 365.9 91.1 366.3 91.3 365.7 91.5 366.0 91.7 365.5 91.9 365.9 92.1 365.7 92.3 366.4 92.6 366.2 92.8 366.1 93.0 366.5 93.2 366.4 93.4 366.2 93.6 365.8 93.8 365.5 94.1 366.0 94.3 365.9 94.5 365.8 94.7 365.9 94.9 365.5 95.1 366.4 95.3 365.7 95.6 365.8 95.8 366.2 96.0 365.5 96.2 366.3 96.4 366.3 96.6 365.9 96.9 365.7 97.1 365.9 97.3 365.5 97.5 366.4 97.7 366.0 97.9 365.8 98.1 365.8 98.4 366.2 98.6 366.5 98.8 365.7 99.0 365.9 99.2 365.5 99.4 366.3 99.6 366.1 99.9 366.7 100.1 366.0 100.3 365.9 100.5 365.9 100.7 366.3 100.9 365.6 101.1 366.3 101.4 366.2 101.6 365.9 101.8 365.8 102.0 366.4 102.2 366.7 102.4 366.0 102.6 366.3 102.9 366.6 103.1 365.9 103.3 366.0 103.5 365.7 103.7 366.1 103.9 366.1 104.1 366.0 104.4 365.9 104.6 365.6 104.8 365.7 105.0 365.8 105.2 366.3 105.4 366.0 105.6 365.9 105.9 366.3 106.1 366.3 106.3 365.9 106.5 366.0 106.7 366.3 106.9 366.3 107.2 365.9 107.4 366.2 107.6 366.1 107.8 366.5 108.0 365.9 108.2 366.4 108.4 366.3 108.7 365.9 108.9 366.5 109.1 366.5 109.3 365.8 109.5 366.8 109.7 365.8 109.9 365.9 110.2 366.1 110.4 366.4 110.6 366.4 110.8 366.2 111.0 366.6 111.2 366.3 111.4 366.6 111.7 367.1 111.9 366.3 112.1 365.4 112.3 366.1 112.5 365.9 112.7 366.2 112.9 366.2 113.2 365.8 113.4 365.9 113.6 366.1 113.8 366.2 114.0 365.4 114.2 366.5 114.4 366.2 114.7 366.2 114.9 366.3 115.1 365.9 115.3 366.2 115.5 366.6 115.7 366.6 116.0 366.4 116.2 366.2 116.4 366.0 116.6 366.7 116.8 366.4 117.0 366.1 117.2 365.6 117.5 366.0 117.7 365.7 117.9 366.7 118.1 366.3 118.3 366.0 118.5 366.2 118.7 367.1 119.0 366.7 119.2 365.9 119.4 366.2 119.6 365.9 119.8 365.8 120.0 366.3 120.2 367.0 120.5 366.8 120.7 366.3 120.9 366.2 121.1 366.4 121.3 366.6 121.5 365.8 121.7 365.7 122.0 366.9 122.2 366.4 122.4 366.8 122.6 366.4 122.8 366.8 123.0 366.1 123.2 366.5 123.5 366.8 123.7 366.6 123.9 366.2 124.1 366.6 124.3 366.1 124.5 365.9 124.7 366.5 125.0 366.8 125.2 366.6 125.4 365.9 125.6 366.6 125.8 366.6 126.0 366.2 126.3 365.6 126.5 366.7 126.7 366.6 126.9 366.5 127.1 365.8 127.3 365.9 127.5 366.7 127.8 366.6 128.0 366.5 128.2 366.3 128.4 366.5 128.6 366.2 128.8 366.3 129.0 366.1 129.3 366.5 129.5 366.2 129.7 366.7 129.9 366.6 130.1 366.1 130.3 367.0 130.5 366.0 130.8 366.5 131.0 366.7 131.2 366.8 131.4 365.7 131.6 366.7 131.8 366.8 132.0 366.9 132.3 365.7 132.5 366.2 132.7 366.4 132.9 366.3 133.1 366.8 133.3 366.2 133.5 366.8 133.8 366.6 134.0 365.9 134.2 366.1 134.4 366.3 134.6 366.4 134.8 366.7 135.1 366.4 135.3 366.7 135.5 365.9 135.7 365.4 135.9 366.3 136.1 366.6 136.3 366.3 136.6 366.1 136.8 366.6 137.0 367.0 137.2 366.4 137.4 366.2 137.6 366.2 137.8 367.1 138.1 366.4 138.3 366.6 138.5 366.8 138.7 366.8 138.9 366.1 139.1 366.7 139.3 366.7 139.6 366.6 139.8 366.8 140.0 366.3 140.2 366.4 140.4 366.3 140.6 366.7 140.8 366.2 141.1 366.6 141.3 366.1 141.5 366.4 141.7 366.3 141.9 366.4 142.1 366.5 142.3 366.4 142.6 366.4 142.8 365.8 143.0 366.8 143.2 366.3 143.4 366.4 143.6 366.2 143.8 366.8 144.1 366.2 144.3 366.6 144.5 366.9 144.7 367.0 144.9 366.9 145.1 366.7 145.4 366.1 145.6 366.9 145.8 366.9 146.0 366.8 146.2 366.7 146.4 366.5 146.6 366.3 146.9 366.8 147.1 366.9 147.3 366.2 147.5 366.8 147.7 366.6 147.9 366.8 148.1 366.6 148.4 366.9 148.6 366.8 148.8 366.8 149.0 366.1 149.2 366.8 149.4 366.5 149.6 366.1 149.9 366.7 150.1 366.1 150.3 366.8 150.5 367.1 150.7 366.4 150.9 366.8 151.1 366.7 151.4 366.7 151.6 366.1 151.8 366.7 152.0 366.6 152.2 366.8 152.4 366.5 152.6 366.9 152.9 366.6 153.1 366.7 153.3 367.0 153.5 366.6 153.7 366.8 153.9 366.6 154.1 366.7 154.4 366.4 154.6 366.8 154.8 366.9 155.0 366.5 155.2 366.8 155.4 366.7 155.7 366.2 155.9 366.7 156.1 367.0 156.3 366.4 156.5 366.0 156.7 366.6 156.9 366.3 157.2 367.2 157.4 366.5 157.6 366.6 157.8 366.4 158.0 366.6 158.2 366.4 158.4 366.3 158.7 366.5 158.9 366.3 159.1 367.0 159.3 366.2 159.5 366.5 159.7 366.3 159.9 366.1 160.2 367.1 160.4 365.9 160.6 367.0 160.8 366.1 161.0 366.6 161.2 367.3 161.4 365.9 161.7 366.1 161.9 367.0 162.1 366.6 162.3 366.4 162.5 366.6 162.7 366.3 162.9 366.6 163.2 367.0 163.4 366.5 163.6 366.6 163.8 367.0 164.0 367.2 164.2 366.4 164.5 366.7 164.7 366.4 164.9 366.4 165.1 366.5 165.3 366.4 165.5 366.0 165.7 366.0 166.0 366.4 166.2 366.6 166.4 367.0 166.6 366.4 166.8 366.5 167.0 366.8 167.2 366.8 167.5 366.6 167.7 366.6 167.9 367.2 168.1 366.5 168.3 366.4 168.5 366.1 168.7 366.7 169.0 366.5 169.2 367.2 169.4 366.5 169.6 366.9 169.8 366.9 170.0 367.1 170.2 366.2 170.5 367.1 170.7 366.6 170.9 366.6 171.1 366.5 171.3 366.5 171.5 366.5 171.7 365.9 172.0 366.8 172.2 366.6 172.4 366.3 172.6 366.6 172.8 367.3 173.0 366.7 173.2 366.5 173.5 367.2 173.7 366.4 173.9 366.6 174.1 366.4 174.3 366.5 174.5 366.9 174.8 366.8 175.0 366.4 175.2 366.6 175.4 366.7 175.6 366.5 175.8 366.6 176.0 366.4 176.3 366.4 176.5 366.6 176.7 366.3 176.9 366.8 177.1 366.6 177.3 366.3 177.5 366.4 177.8 366.5 178.0 366.6 178.2 366.7 178.4 366.6 178.6 366.4 178.8 367.1 179.0 366.9 179.3 366.7 179.5 366.9 179.7 366.7 179.9 366.6 180.1 366.7 180.3 367.5 180.5 366.9 180.8 367.0 181.0 366.5 181.2 366.8 181.4 367.3 181.6 366.8 181.8 367.0 182.0 367.0 182.3 366.8 182.5 367.1 182.7 366.7 182.9 366.8 183.1 366.5 183.3 367.5 183.5 366.7 183.8 366.7 184.0 367.1 184.2 366.5 184.4 366.6 184.6 366.4 184.8 366.7 185.1 366.5 185.3 366.8 185.5 366.6 185.7 366.5 185.9 366.6 186.1 366.6 186.3 366.5 186.6 366.9 186.8 366.9 187.0 366.7 187.2 366.3 187.4 366.8 187.6 366.3 187.8 366.7 188.1 366.7 188.3 366.5 188.5 366.4 188.7 366.4 188.9 367.3 189.1 366.6 189.3 366.6 189.6 367.0 189.8 366.8 190.0 367.0 190.2 366.3 190.4 366.3 190.6 367.7 190.8 366.7 191.1 366.6 191.3 366.7 191.5 367.0 191.7 366.3 191.9 366.8 192.1 366.7 192.3 366.9 192.6 366.7 192.8 366.5 193.0 366.4 193.2 365.9 193.4 367.0 193.6 366.2 193.9 366.5 194.1 367.2 194.3 366.5 194.5 366.9 194.7 366.6 194.9 366.9 195.1 366.7 195.4 366.5 195.6 367.1 195.8 366.6 196.0 366.3 196.2 366.6 196.4 366.8 196.6 366.3 196.9 366.9 197.1 366.9 197.3 367.3 197.5 366.5 197.7 366.9 197.9 366.2 198.1 366.6 198.4 366.7 198.6 366.8 198.8 366.7 199.0 366.7 199.2 366.5 199.4 366.5 199.6 366.8 199.9 366.9 200.1 366.9 200.3 367.0 200.5 367.1 200.7 366.1 200.9 366.5 201.1 366.6 201.4 366.5 201.6 367.0 201.8 366.9 202.0 366.7 202.2 366.7 202.4 367.1 202.6 366.6 202.9 366.6 203.1 367.0 203.3 366.8 203.5 367.1 203.7 366.8 203.9 366.9 204.2 366.5 204.4 366.4 204.6 366.7 204.8 365.9 205.0 366.8 205.2 367.0 205.4 366.7 205.7 366.6 205.9 367.0 206.1 366.7 206.3 367.0 206.5 367.4 206.7 366.9 206.9 367.0 207.2 366.9 207.4 366.8 207.6 366.8 207.8 366.7 208.0 367.0 208.2 366.2 208.4 366.6 208.7 366.9 208.9 366.4 209.1 366.7 209.3 366.5 209.5 366.8 209.7 367.0 209.9 367.1 210.2 366.9 210.4 366.5 210.6 366.8 210.8 366.9 211.0 367.1 211.2 366.1 211.4 366.8 211.7 366.1 211.9 366.9 212.1 366.8 212.3 366.9 212.5 367.0 212.7 366.8 212.9 366.5 213.2 366.8 213.4 367.1 213.6 366.7 213.8 366.7 214.0 366.3 214.2 367.1 214.5 366.6 214.7 366.5 214.9 366.6 215.1 366.4 215.3 366.6 215.5 367.1 215.7 367.0 216.0 367.1 216.2 367.2 216.4 366.4 216.6 366.9 216.8 367.2 217.0 367.4 217.2 366.3 217.5 366.3 217.7 366.9 217.9 366.6 218.1 366.4 218.3 366.8 218.5 366.5 218.7 366.0 219.0 366.7 219.2 366.8 219.4 366.9 219.6 367.0 219.8 366.8 220.0 366.6 220.2 366.5 220.5 366.2 220.7 366.6 220.9 367.0 221.1 366.9 221.3 367.3 221.5 366.7 221.7 366.2 222.0 367.0 222.2 367.0 222.4 366.4 222.6 366.2 222.8 366.8 223.0 366.9 223.3 366.4 223.5 366.6 223.7 366.5 223.9 366.4 224.1 366.3 224.3 366.8 224.5 366.6 224.8 366.5 225.0 365.9 225.2 367.3 225.4 366.4 225.6 366.7 225.8 366.4 226.0 366.8 226.3 366.3 226.5 366.8 226.7 366.7 226.9 367.0 227.1 366.4 227.3 366.5 227.5 366.7 227.8 367.4 228.0 366.3 228.2 366.8 228.4 366.5 228.6 366.8 228.8 366.9 229.0 366.8 229.3 366.8 229.5 366.8 229.7 366.5 229.9 366.7 230.1 366.2 230.3 366.6 230.5 366.5 230.8 366.6 231.0 366.9 231.2 366.8 231.4 366.9 231.6 367.1 231.8 366.0 232.0 366.9 232.3 366.7 232.5 366.7 232.7 366.3 232.9 366.9 233.1 367.1 233.3 367.0 233.6 366.7 233.8 366.9 234.0 367.0 234.2 367.3 234.4 367.1 234.6 366.8 234.8 366.8 235.1 366.8 235.3 366.8 235.5 366.6 235.7 367.0 235.9 366.5 236.1 366.5 236.3 366.8 236.6 366.5 236.8 366.7 237.0 366.1 237.2 367.0 237.4 366.7 237.6 366.7 237.8 366.9 238.1 366.8 238.3 366.5 238.5 367.3 238.7 366.6 238.9 367.0 239.1 367.3 239.3 366.5 239.6 366.8 239.8 366.5 240.0 367.0 240.2 366.6 240.4 366.4 240.6 367.1 240.8 367.0 241.1 366.5 241.3 367.1 241.5 366.8 241.7 367.6 241.9 367.2 242.1 366.6 242.4 366.6 242.6 366.5 242.8 366.8 243.0 366.7 243.2 366.9 243.4 366.8 243.6 366.3 243.9 366.5 244.1 367.2 244.3 367.1 244.5 366.7 244.7 366.7 244.9 366.7 245.1 366.7 245.4 366.2 245.6 367.0 245.8 366.5 246.0 366.8 246.2 365.9 246.4 366.8 246.6 367.1 246.9 366.0 247.1 367.2 247.3 366.9 247.5 366.5 247.7 366.2 247.9 367.1 248.1 366.8 248.4 366.9 248.6 366.6 248.8 366.5 249.0 367.0 249.2 366.4 249.4 367.0 249.6 366.2 249.9 366.4 250.1 366.3 250.3 367.1 250.5 366.2 250.7 366.4 250.9 366.9 251.1 366.8 251.4 367.4 251.6 367.3 251.8 366.9 252.0 366.9 252.2 366.2 252.4 366.4 252.7 366.6 252.9 366.7 253.1 366.3 253.3 366.4 253.5 366.4 253.7 367.0 253.9 366.8 254.2 366.6 254.4 366.6 254.6 366.8 254.8 366.5 255.0 366.6 255.2 366.2 255.4 366.9 255.7 367.0 255.9 366.8 256.1 366.8 256.3 366.8 256.5 367.3 256.7 366.7 256.9 366.3 257.2 366.4 257.4 366.9 257.6 367.0 257.8 366.9 258.0 366.9 258.2 366.7 258.4 366.2 258.7 366.4 258.9 366.1 259.1 366.5 259.3 366.2 259.5 366.7 259.7 366.6 259.9 366.0 260.2 366.8 260.4 366.8 260.6 366.2 260.8 366.6 261.0 366.8 261.2 366.5 261.4 366.8 261.7 366.6 261.9 366.9 262.1 366.6 262.3 366.5 262.5 366.7 262.7 366.7 263.0 366.5 263.2 366.3 263.4 366.1 263.6 366.2 263.8 366.1 264.0 366.2 264.2 366.1 264.5 365.9 264.7 365.8 264.9 365.7 265.1 365.9 265.3 365.6 265.5 364.8 265.7 364.8 266.0 364.3 266.2 364.0 266.4 363.6 266.6 363.1 266.8 362.5 267.0 361.8 267.2 362.2 267.5 362.1 267.7 361.1 267.9 361.2 268.1 360.7 268.3 360.7 268.5 360.2 268.7 360.3 269.0 360.4 269.2 359.8 269.4 360.8 269.6 360.9 269.8 360.5 270.0 361.9 270.2 362.0 270.5 362.5 270.7 362.9 270.9 363.1 271.1 363.3 271.3 363.8 271.5 364.2 271.8 365.3 272.0 365.5 272.2 365.0 272.4 365.3 272.6 365.7 272.8 365.9 273.0 365.7 273.3 365.7 273.5 366.7 273.7 366.5 273.9 365.8 274.1 365.8 274.3 366.1 274.5 366.5 274.8 366.6 275.0 366.4 275.2 366.0 275.4 366.6 275.6 366.7 275.8 366.5 276.0 366.4 276.3 366.8 276.5 366.6 276.7 366.2 276.9 366.6 277.1 366.2 277.3 366.9 277.5 366.8 277.8 366.3 278.0 366.7 278.2 367.0 278.4 366.0 278.6 366.6 278.8 367.2 279.0 366.2 279.3 366.6 279.5 366.2 279.7 366.6 279.9 365.9 280.1 366.2 280.3 366.5 280.5 366.7 280.8 366.8 281.0 366.8 281.2 367.0 281.4 366.9 281.6 366.9 281.8 366.4 282.1 366.6 282.3 367.7 282.5 367.4 282.7 366.9 282.9 366.9 283.1 367.0 283.3 366.6 283.6 367.3 283.8 366.6 284.0 366.7 284.2 367.4 284.4 366.0 284.6 366.8 284.8 366.1 285.1 366.5 285.3 366.7 285.5 366.6 285.7 366.7 285.9 366.5 286.1 366.7 286.3 366.3 286.6 366.6 286.8 366.3 287.0 366.9 287.2 366.3 287.4 366.9 287.6 366.6 287.8 366.6 288.1 367.1 288.3 366.7 288.5 366.1 288.7 366.8 288.9 365.8 289.1 366.8 289.3 366.6 289.6 366.2 289.8 366.7 290.0 366.6 290.2 367.3 290.4 366.5 290.6 367.3 290.8 367.1 291.1 366.5 291.3 366.4 291.5 367.1 291.7 366.6 291.9 366.7 292.1 366.6 292.4 366.3 292.6 366.5 292.8 366.4 293.0 366.2 293.2 366.6 293.4 367.2 293.6 367.2 293.9 366.6 294.1 366.7 294.3 366.8 294.5 367.0 294.7 366.7 294.9 366.4 295.1 366.4 295.4 366.9 295.6 367.3 295.8 366.2 296.0 365.7 296.2 366.6 296.4 366.3 296.6 366.3 296.9 366.6 297.1 366.1 297.3 365.6 297.5 365.3 297.7 365.8 297.9 365.4 298.1 365.8 298.4 365.2 298.6 365.4 298.8 365.0 299.0 365.3 299.2 365.2 299.4 365.5 299.6 365.7 299.9 365.2 300.1 365.0 300.3 365.9 300.5 365.4 300.7 365.6 300.9 365.6 301.2 366.0 301.4 365.9 301.6 365.9 301.8 366.0 302.0 365.5 302.2 365.7 302.4 366.0 302.7 366.1 302.9 366.1 303.1 366.3 303.3 366.3 303.5 366.2 303.7 365.8 303.9 366.7 304.2 366.6 304.4 366.2 304.6 366.7 304.8 366.7 305.0 366.6 305.2 366.0 305.4 366.2 305.7 366.4 305.9 367.1 306.1 366.3 306.3 366.5 306.5 366.3 306.7 366.5 306.9 366.7 307.2 366.0 307.4 365.7 307.6 366.8 307.8 366.6 308.0 366.4 308.2 366.9 308.4 366.9 308.7 365.9 308.9 366.6 309.1 367.0 309.3 366.4 309.5 366.5 309.7 366.9 309.9 366.5 310.2 366.2 310.4 366.4 310.6 366.2 310.8 366.8 311.0 366.0 311.2 366.9 311.5 366.1 311.7 366.6 311.9 366.1 312.1 366.5 312.3 366.9 312.5 366.9 312.7 367.0 313.0 366.5 313.2 366.6 313.4 366.6 313.6 366.7 313.8 366.4 314.0 366.9 314.2 366.6 314.5 366.9 314.7 366.7 314.9 366.7 315.1 366.3 315.3 366.3 315.5 366.1 315.7 366.4 316.0 366.4 316.2 366.7 316.4 366.0 316.6 367.4 316.8 366.4 317.0 366.8 317.2 366.7 317.5 365.5 317.7 366.2 317.9 366.8 318.1 365.5 318.3 366.5 318.5 365.9 318.7 366.0 319.0 366.2 319.2 365.5 319.4 366.1 319.6 365.8 319.8 365.7 320.0 366.1 320.2 366.8 320.5 365.7 320.7 365.6 320.9 365.3 321.1 364.8 321.3 364.9 321.5 365.0 321.8 364.2 322.0 364.1 322.2 363.3 322.4 363.6 322.6 361.7 322.8 361.8 323.0 361.1 323.3 360.2 323.5 358.9 323.7 358.1 323.9 357.4 324.1 356.6 324.3 355.2 324.5 354.3 324.8 353.9 325.0 353.2 325.2 351.9 325.4 351.2 325.6 350.6 325.8 351.2 326.0 350.3 326.3 350.0 326.5 350.4 326.7 351.0 326.9 350.9 327.1 350.6 327.3 351.5 327.5 352.1 327.8 352.8 328.0 353.3 328.2 354.3 328.4 354.8 328.6 356.0 328.8 356.7 329.0 356.9 329.3 357.5 329.5 358.5 329.7 359.5 329.9 360.0 330.1 360.3 330.3 359.8 330.6 361.2 330.8 361.5 331.0 362.1 331.2 362.2 331.4 362.8 331.6 363.0 331.8 364.4 332.1 364.0 332.3 364.0 332.5 364.3 332.7 364.5 332.9 364.8 333.1 364.8 333.3 365.1 333.6 365.6 333.8 365.7 334.0 365.7 334.2 366.1 334.4 365.8 334.6 365.6 334.8 365.4 335.1 365.8 335.3 366.1 335.5 366.3 335.7 366.5 335.9 366.0 336.1 366.0 336.3 366.5 336.6 366.7 336.8 366.2 337.0 366.5 337.2 366.8 337.4 366.5 337.6 366.4 337.8 365.8 338.1 366.9 338.3 366.7 338.5 366.5 338.7 366.3 338.9 366.1 339.1 366.5 339.3 366.5 339.6 366.9 339.8 366.1 340.0 367.0 340.2 366.6 340.4 366.9 340.6 366.3 340.9 366.7 341.1 367.0 341.3 366.6 341.5 366.1 341.7 366.5 341.9 366.8 342.1 366.2 342.4 366.1 342.6 366.7 342.8 366.3 343.0 366.8 343.2 366.2 343.4 366.0 343.6 366.4 343.9 367.1 344.1 366.4 344.3 366.6 344.5 366.7 344.7 366.3 344.9 367.0 345.1 366.7 345.4 366.8 345.6 366.1 345.8 366.1 346.0 365.8 346.2 366.6 346.4 366.6 346.6 366.9 346.9 367.1 347.1 366.6 347.3 366.6 347.5 366.8 347.7 367.2 347.9 366.4 348.1 366.9 348.4 366.6 348.6 366.6 348.8 366.9 349.0 366.4 349.2 366.3 349.4 366.9 349.7 366.7 349.9 366.6 350.1 366.6 350.3 366.8 350.5 366.6 350.7 366.9 350.9 366.8 351.2 367.2 351.4 367.1 351.6 367.0 351.8 366.6 352.0 366.7 352.2 366.5 352.4 367.6 352.7 366.6 352.9 366.9 353.1 367.1 353.3 366.3 353.5 366.4 353.7 366.6 353.9 366.4 354.2 366.3 354.4 366.5 354.6 367.1 354.8 366.9 355.0 366.7 355.2 366.7 355.4 366.2 355.7 366.9 355.9 366.8 356.1 366.4 356.3 366.8 356.5 366.6 356.7 366.5 356.9 366.4 357.2 366.5 357.4 366.4 357.6 366.9 357.8 366.8 358.0 366.8 358.2 366.7 358.4 366.6 358.7 367.4 358.9 366.1 359.1 367.1 359.3 366.8 359.5 366.7 359.7 366.6 360.0 366.6 360.2 366.3 360.4 366.3 360.6 366.7 360.8 366.2 361.0 367.0 361.2 367.1 361.5 365.6 361.7 366.2 361.9 366.8 362.1 366.8 362.3 366.8 362.5 366.9 362.7 367.0 363.0 367.0 363.2 367.3 363.4 366.7 363.6 367.0 363.8 366.2 364.0 366.7 364.2 366.3 364.5 367.2 364.7 367.5 364.9 366.9 365.1 366.3 365.3 366.7 365.5 366.7 365.7 366.8 366.0 367.1 366.2 367.0 366.4 365.9 366.6 367.2 366.8 366.6 367.0 366.5 367.2 367.2 367.5 366.6 367.7 366.3 367.9 366.3 368.1 366.7 368.3 367.0 368.5 367.2 368.7 366.7 369.0 366.6 369.2 367.2 369.4 366.6 369.6 367.2 369.8 366.8 370.0 366.8 370.3 366.6 370.5 366.8 370.7 366.6 370.9 366.5 371.1 366.7 371.3 366.5 371.5 366.8 371.8 366.7 372.0 366.6 372.2 366.7 372.4 366.6 372.6 367.3 372.8 366.7 373.0 366.5 373.3 366.6 373.5 366.9 373.7 366.7 373.9 366.7 374.1 366.6 374.3 366.8 374.5 366.8 374.8 366.9 375.0 366.2 375.2 366.4 375.4 365.9 375.6 367.0 375.8 367.1 376.0 367.1 376.3 366.8 376.5 367.1 376.7 366.7 376.9 366.7 377.1 366.2 377.3 366.5 377.5 366.5 377.8 367.0 378.0 367.2 378.2 366.6 378.4 366.8 378.6 366.8 378.8 366.5 379.1 366.2 379.3 366.5 379.5 366.2 379.7 366.6 379.9 366.7 380.1 366.6 380.3 366.7 380.6 366.9 380.8 366.4 381.0 367.0 381.2 366.2 381.4 366.7 381.6 366.8 381.8 366.4 382.1 366.2 382.3 366.9 382.5 366.5 382.7 366.9 382.9 366.9 383.1 366.7 383.3 366.7 383.6 367.0 383.8 366.8 384.0 366.4 384.2 366.7 384.4 366.9 384.6 366.8 384.8 366.8 385.1 366.6 385.3 366.7 385.5 366.4 385.7 366.2 385.9 367.0 386.1 366.5 386.3 366.8 386.6 366.2 386.8 366.7 387.0 366.4 387.2 367.6 387.4 366.4 387.6 366.4 387.8 367.0 388.1 367.0 388.3 366.0 388.5 366.8 388.7 367.0 388.9 366.3 389.1 366.9 389.4 366.5 389.6 366.3 389.8 366.6 390.0 366.5 390.2 366.2 390.4 367.4 390.6 366.5 390.9 366.4 391.1 366.9 391.3 366.6 391.5 367.1 391.7 366.6 391.9 366.8 392.1 366.7 392.4 366.7 392.6 366.6 392.8 366.6 393.0 367.2 393.2 366.4 393.4 366.5 393.6 366.5 393.9 366.8 394.1 366.8 394.3 366.9 394.5 366.2 394.7 366.7 394.9 366.6 395.1 366.5 395.4 366.7 395.6 366.0 395.8 366.7 396.0 366.6 396.2 366.1 396.4 366.6 396.6 367.1 396.9 366.5 397.1 366.8 397.3 366.5 397.5 366.3 397.7 366.3 397.9 366.4 398.1 367.0 398.4 366.8 398.6 366.3 398.8 366.9 399.0 366.5 399.2 366.3 399.4 366.7 399.7 366.2 399.9 366.0 400.1 366.9 400.3 365.9 400.5 366.7 400.7 366.0 400.9 366.5 401.2 366.4 401.4 366.3 401.6 365.7 401.8 366.4 402.0 366.4 402.2 366.1 402.4 366.3 402.7 366.6 402.9 366.0 403.1 366.3 403.3 365.8 403.5 366.2 403.7 366.2 403.9 366.7 404.2 366.1 404.4 365.8 404.6 366.0 404.8 365.2 405.0 365.7 405.2 365.0 405.4 364.9 405.7 365.3 405.9 364.8 406.1 365.0 406.3 364.0 406.5 364.4 406.7 364.0 406.9 363.9 407.2 363.2 407.4 364.0 407.6 363.7 407.8 363.3 408.0 363.1 408.2 363.2 408.5 363.9 408.7 363.5 408.9 363.5 409.1 363.8 409.3 363.7 409.5 363.9 409.7 364.2 410.0 364.2 410.2 364.5 410.4 364.0 410.6 364.5 410.8 364.5 411.0 364.8 411.2 364.9 411.5 364.8 411.7 365.0 411.9 365.5 412.1 365.1 412.3 365.0 412.5 365.6 412.7 365.8 413.0 365.4 413.2 365.6 413.4 365.3 413.6 365.5 413.8 366.0 414.0 365.9 414.2 365.7 414.5 365.5 414.7 365.1 414.9 365.7 415.1 365.7 415.3 365.8 415.5 366.1 415.7 365.6 416.0 365.7 416.2 365.0 416.4 365.7 416.6 365.5 416.8 365.6 417.0 365.3 417.2 365.1 417.5 365.4 417.7 364.6 417.9 364.9 418.1 364.9 418.3 364.2 418.5 363.9 418.8 364.3 419.0 364.0 419.2 364.0 419.4 363.8 419.6 363.1 419.8 363.2 420.0 363.2 420.3 362.4 420.5 362.0 420.7 361.4 420.9 361.5 421.1 361.3 421.3 359.6 421.5 359.6 421.8 358.7 422.0 357.2 422.2 355.9 422.4 354.1 422.6 352.0 422.8 349.6 423.0 346.3 423.3 341.8 423.5 336.5 423.7 329.6 423.9 321.0 424.1 312.4 424.3 302.0 424.5 291.0 424.8 282.6 425.0 275.9 425.2 273.3 425.4 275.0 425.6 277.0 425.8 281.9 426.0 288.0 426.3 294.0 426.5 301.2 426.7 310.2 426.9 318.2 427.1 325.5 427.3 332.6 427.5 338.9 427.8 344.1 428.0 346.8 428.2 350.6 428.4 352.9 428.6 354.5 428.8 356.5 429.1 357.3 429.3 358.7 429.5 360.2 429.7 360.6 429.9 361.2 430.1 361.7 430.3 362.1 430.6 362.7 430.8 362.3 431.0 362.9 431.2 363.6 431.4 363.3 431.6 363.6 431.8 364.3 432.1 364.6 432.3 364.1 432.5 364.2 432.7 364.8 432.9 364.8 433.1 364.6 433.3 365.1 433.6 365.2 433.8 365.1 434.0 366.1 434.2 365.7 434.4 365.6 434.6 365.7 434.8 366.4 435.1 365.9 435.3 365.4 435.5 365.7 435.7 365.7 435.9 365.6 436.1 365.9 436.3 365.9 436.6 365.8 436.8 365.7 437.0 366.2 437.2 365.5 437.4 366.2 437.6 366.0 437.9 366.1 438.1 365.3 438.3 366.6 438.5 365.6 438.7 365.9 438.9 366.4 439.1 366.0 439.4 366.1 439.6 365.5 439.8 366.1 440.0 366.3 440.2 366.5 440.4 366.2 440.6 366.4 440.9 366.4 441.1 366.1 441.3 366.1 441.5 367.0 441.7 366.1 441.9 366.8 442.1 366.4 442.4 366.9 442.6 366.2 442.8 366.6 443.0 366.5 443.2 366.4 443.4 366.5 443.6 366.2 443.9 366.4 444.1 366.3 444.3 366.7 444.5 366.5 444.7 366.0 444.9 366.4 445.1 366.5 445.4 366.2 445.6 366.9 445.8 366.6 446.0 366.8 446.2 366.3 446.4 366.4 446.6 366.9 446.9 366.1 447.1 366.7 447.3 366.6 447.5 366.4 447.7 366.6 447.9 366.2 448.2 366.6 448.4 366.2 448.6 366.2 448.8 367.0 449.0 366.4 449.2 365.9 449.4 366.9 449.7 366.4 449.9 365.5 450.1 366.6 450.3 366.9 450.5 366.7 450.7 367.2 450.9 366.6 451.2 366.8 451.4 366.3 451.6 366.7 451.8 367.1 452.0 366.8 452.2 366.7 452.4 366.0 452.7 366.5 452.9 366.2 453.1 366.9 453.3 366.4 453.5 366.8 453.7 366.3 453.9 367.3 454.2 366.3 454.4 366.7 454.6 367.5 454.8 366.7 455.0 366.4 455.2 366.9 455.4 367.0 455.7 366.9 455.9 366.1 456.1 366.7 456.3 366.0 456.5 367.3 456.7 366.7 457.0 366.5 457.2 366.9 457.4 366.8 457.6 366.3 457.8 367.2 458.0 366.6 458.2 366.1 458.5 367.1 458.7 367.2 458.9 367.1 459.1 366.9 459.3 366.4 459.5 367.0 459.7 367.3 460.0 367.0 460.2 367.2 460.4 366.5 460.6 367.0 460.8 367.0 461.0 366.2 461.2 366.2 461.5 366.5 461.7 366.7 461.9 366.9 462.1 366.6 462.3 366.7 462.5 366.7 462.7 366.7 463.0 366.9 463.2 366.9 463.4 366.7 463.6 366.8 463.8 366.6 464.0 367.0 464.2 366.6 464.5 367.2 464.7 366.7 464.9 366.8 465.1 366.5 465.3 366.6 465.5 366.8 465.7 366.7 466.0 366.5 466.2 366.4 466.4 366.7 466.6 366.8 466.8 366.9 467.0 367.1 467.3 366.6 467.5 366.1 467.7 366.7 467.9 366.2 468.1 366.3 468.3 367.1 468.5 366.9 468.8 366.5 469.0 366.5 469.2 366.7 469.4 366.2 469.6 366.9 469.8 366.6 470.0 367.3 470.3 366.4 470.5 367.1 470.7 366.5 470.9 367.1 471.1 366.4 471.3 367.0 471.5 366.6 471.8 366.5 472.0 366.7 472.2 366.9 472.4 366.9 472.6 367.3 472.8 367.0 473.0 365.9 473.3 366.6 473.5 366.1 473.7 366.6 473.9 367.0 474.1 366.3 474.3 366.4 474.5 366.8 474.8 366.7 475.0 367.3 475.2 366.9 475.4 366.9 475.6 367.3 475.8 366.6 476.0 366.8 476.3 366.4 476.5 366.8 476.7 367.1 476.9 367.2 477.1 366.7 477.3 366.5 477.6 366.5 477.8 366.3 478.0 366.8 478.2 367.2 478.4 366.0 478.6 366.1 478.8 367.2 479.1 366.2 479.3 366.9 479.5 366.4 479.7 367.0 479.9 367.0 480.1 366.8 480.3 367.0 480.6 366.8 480.8 366.9 481.0 367.3 481.2 367.1 481.4 366.6 481.6 366.5 481.8 366.7 482.1 366.7 482.3 366.8 482.5 366.6 482.7 367.0 482.9 366.8 483.1 366.9 483.3 366.8 483.6 367.0 483.8 366.4 484.0 367.3 484.2 366.9 484.4 366.9 484.6 367.0 484.8 367.1 485.1 367.0 485.3 366.8 485.5 366.7 485.7 366.2 485.9 366.8 486.1 366.7 486.4 366.7 486.6 367.5 486.8 366.2 487.0 366.8 487.2 367.2 487.4 367.1 487.6 367.2 487.9 366.4 488.1 366.5 488.3 367.0 488.5 366.7 488.7 367.3 488.9 366.8 489.1 366.8 489.4 366.9 489.6 366.7 489.8 366.8 490.0 366.6 490.2 366.8 490.4 366.6 490.6 366.9 490.9 366.3 491.1 366.3 491.3 366.9 491.5 366.8 491.7 366.5 491.9 366.7 492.1 366.4 492.4 367.4 492.6 366.3 492.8 367.3 493.0 366.5 493.2 366.9 493.4 366.7 493.6 366.7 493.9 367.1 494.1 367.0 494.3 366.7 494.5 366.5 494.7 367.4 494.9 367.2 495.1 366.8 495.4 366.7 495.6 366.9 495.8 366.8 496.0 367.2 496.2 366.5 496.4 366.8 496.7 366.5 496.9 367.2 497.1 367.4 497.3 366.7 497.5 366.9 497.7 367.2 497.9 366.7 498.2 366.5 498.4 367.1 498.6 366.9 498.8 366.7 499.0 367.2 499.2 366.8 499.4 366.2 499.7 366.9 499.9 366.8 500.1 367.4 500.3 366.8 500.5 366.7 500.7 366.9 500.9 366.8 501.2 366.3 501.4 366.8 501.6 366.7 501.8 367.2 502.0 367.5 502.2 366.4 502.4 366.5 502.7 366.5 502.9 366.6 503.1 366.5 503.3 366.8 503.5 367.1 503.7 366.3 503.9 366.3 504.2 366.2 504.4 367.1 504.6 367.2 504.8 366.3 505.0 366.2 505.2 366.8 505.4 367.1 505.7 367.1 505.9 366.8 506.1 367.0 506.3 366.8 506.5 366.6 506.7 367.4 507.0 366.7 507.2 366.4 507.4 366.6 507.6 366.2 507.8 366.7 508.0 367.1 508.2 366.3 508.5 367.1 508.7 367.4 508.9 366.8 509.1 366.3 509.3 366.4 509.5 366.6 509.7 366.3 510.0 366.3 510.2 366.6 510.4 366.6 510.6 366.8 510.8 366.2 511.0 367.2 511.2 366.9 511.5 366.9 511.7 366.3 511.9 367.1 512.1 366.4 512.3 367.1 512.5 366.8 512.7 366.1 513.0 366.2 513.2 367.0 513.4 366.6 513.6 366.2 513.8 366.3 514.0 366.3 514.2 365.9 514.5 366.0 514.7 365.8 514.9 365.8 515.1 366.1 515.3 365.6 515.5 366.0 515.8 365.8 516.0 365.9 516.2 365.9 516.4 365.9 516.6 365.7 516.8 365.6 517.0 365.3 517.3 365.5 517.5 364.9 517.7 365.1 517.9 365.4 518.1 365.0 518.3 365.2 518.5 364.6 518.8 365.4 519.0 364.7 519.2 365.0 519.4 364.9 519.6 365.1 519.8 364.7 520.0 364.5 520.3 364.2 520.5 364.8 520.7 364.5 520.9 365.1 521.1 365.4 521.3 364.3 521.5 364.6 521.8 365.2 522.0 365.5 522.2 365.3 522.4 365.4 522.6 365.5 522.8 365.6 523.0 366.0 523.3 365.7 523.5 365.2 523.7 365.5 523.9 365.8 524.1 365.5 524.3 365.8 524.5 365.7 524.8 365.7 525.0 366.2 525.2 365.9 525.4 365.8 525.6 365.9 525.8 366.2 526.1 366.9 526.3 366.4 526.5 366.8 526.7 366.5 526.9 365.7 527.1 366.6 527.3 366.2 527.6 366.1 527.8 366.2 528.0 367.1 528.2 366.0 528.4 366.4 528.6 367.0 528.8 366.8 529.1 366.1 529.3 366.6 529.5 366.5 529.7 366.6 529.9 366.9 530.1 366.5 530.3 366.6 530.6 367.2 530.8 366.1 531.0 366.6 531.2 366.9 531.4 366.3 531.6 366.5 531.8 366.3 532.1 366.8 532.3 366.5 532.5 367.0 532.7 367.1 532.9 366.7 533.1 366.6 533.3 366.8 533.6 366.8 533.8 366.3 534.0 367.1 534.2 366.8 534.4 367.0 534.6 366.3 534.8 367.0 535.1 367.4 535.3 366.9 535.5 366.3 535.7 366.8 535.9 366.7 536.1 366.8 536.4 366.7 536.6 366.9 536.8 366.6 537.0 366.8 537.2 366.5 537.4 366.8 537.6 367.1 537.9 366.6 538.1 367.0 538.3 366.5 538.5 366.6 538.7 366.7 538.9 367.1 539.1 366.5 539.4 367.1 539.6 366.3 539.8 366.7 540.0 367.0 540.2 367.0 540.4 366.4 540.6 366.3 540.9 367.0 541.1 366.3 541.3 366.9 541.5 366.6 541.7 366.7 541.9 367.5 542.1 367.2 542.4 367.0 542.6 366.3 542.8 366.8 543.0 366.7 543.2 366.7 543.4 367.2 543.6 366.2 543.9 366.8 544.1 366.8 544.3 366.5 544.5 367.3 544.7 366.3 544.9 366.7 545.2 366.7 545.4 366.0 545.6 366.2 545.8 366.4 546.0 366.9 546.2 367.0 546.4 366.9 546.7 366.7 546.9 366.0 547.1 366.7 547.3 366.5 547.5 367.0 547.7 367.1 547.9 367.3 548.2 366.8 548.4 366.9 548.6 366.2 548.8 366.6 549.0 366.1 549.2 366.8 549.4 366.1 549.7 366.4 549.9 366.1 550.1 366.2 550.3 366.5 550.5 366.1 550.7 366.3 550.9 365.8 551.2 366.5 551.4 365.7 551.6 366.1 551.8 366.4 552.0 364.8 552.2 365.1 552.4 365.2 552.7 365.5 552.9 364.8 553.1 364.8 553.3 364.3 553.5 364.5 553.7 363.7 553.9 364.2 554.2 362.7 554.4 362.9 554.6 363.9 554.8 363.2 555.0 362.7 555.2 363.5 555.5 363.0 555.7 362.9 555.9 362.3 556.1 362.6 556.3 362.6 556.5 361.9 556.7 362.7 557.0 362.5 557.2 363.1 557.4 363.2 557.6 362.7 557.8 362.9 558.0 363.3 558.2 363.7 558.5 363.5 558.7 363.8 558.9 364.2 559.1 364.4 559.3 364.8 559.5 364.7 559.7 364.5 560.0 364.4 560.2 365.4 560.4 365.2 560.6 365.4 560.8 365.5 561.0 365.2 561.2 365.7 561.5 365.1 561.7 365.9 561.9 365.8 562.1 366.8 562.3 366.4 562.5 366.3 562.7 366.4 563.0 366.7 563.2 366.2 563.4 366.4 563.6 366.4 563.8 367.4 564.0 366.6 564.3 365.9 564.5 366.9 564.7 367.5 564.9 366.3 565.1 367.8 565.3 366.6 565.5 367.0 565.8 366.5 566.0 366.6 566.2 366.3 566.4 366.3 566.6 366.0 566.8 367.1 567.0 366.3 567.3 366.8 567.5 366.8 567.7 366.5 567.9 366.7 568.1 366.7 568.3 366.5 568.5 366.7 568.8 366.7 569.0 366.4 569.2 366.3 569.4 366.4 569.6 366.8 569.8 367.2 570.0 367.2 570.3 366.8 570.5 367.0 570.7 366.8 570.9 367.1 571.1 366.8 571.3 366.9 571.5 366.6 571.8 366.7 572.0 367.4 572.2 366.3 572.4 366.7 572.6 366.5 572.8 367.1 573.0 367.3 573.3 366.6 573.5 365.8 573.7 367.0 573.9 367.0 574.1 366.2 574.3 366.7 574.6 366.7 574.8 366.0 575.0 367.0 575.2 366.9 575.4 366.8 575.6 366.4 575.8 366.5 576.1 366.5 576.3 366.9 576.5 366.4 576.7 367.2 576.9 366.9 577.1 366.0 577.3 367.3 577.6 366.8 577.8 366.6 578.0 366.8 578.2 366.2 578.4 366.8 578.6 365.9 578.8 366.4 579.1 367.2 579.3 367.2 579.5 366.6 579.7 366.4 579.9 367.1 580.1 366.7 580.3 366.8 580.6 367.0 580.8 366.4 581.0 367.0 581.2 366.1 581.4 367.2 581.6 366.2 581.8 366.5 582.1 366.5 582.3 367.0 582.5 367.0 582.7 366.9 582.9 366.9 583.1 366.9 583.3 366.7 583.6 366.1 583.8 366.0 584.0 366.0 584.2 366.7 584.4 366.7 584.6 366.7 584.9 366.8 585.1 366.7 585.3 366.4 585.5 366.3 585.7 366.1 585.9 367.2 586.1 367.1 586.4 366.3 586.6 366.7 586.8 366.9 587.0 367.3 587.2 366.6 587.4 366.8 587.6 367.1 587.9 366.2 588.1 366.5 588.3 366.7 588.5 366.5 588.7 367.5 588.9 367.0 589.1 366.8 589.4 366.4 589.6 367.0 589.8 367.0 590.0 366.6 590.2 366.6 590.4 366.3 590.6 366.7 590.9 367.0 591.1 367.1 591.3 366.9 591.5 367.0 591.7 366.5 591.9 366.6 592.1 367.1 592.4 366.9 592.6 366.5 592.8 366.9 593.0 367.0 593.2 367.0 593.4 366.8 593.7 366.6 593.9 366.9 594.1 367.3 594.3 366.8 594.5 366.5 594.7 366.8 594.9 366.3 595.2 366.8 595.4 366.6 595.6 367.0 595.8 366.8 596.0 367.1 596.2 367.5 596.4 366.6 596.7 366.4 596.9 366.9 597.1 366.7 597.3 366.8 597.5 366.5 597.7 366.9 597.9 366.7 598.2 366.0 598.4 366.6 598.6 366.8 598.8 367.1 599.0 366.5 599.2 366.4 599.4 367.1 599.7 366.5 599.9 366.7 600.1 366.8 600.3 366.9 600.5 366.7 600.7 366.3 600.9 367.0 601.2 366.5 601.4 366.5 601.6 367.3 601.8 367.0 602.0 366.3 602.2 366.5 602.4 366.6 602.7 366.4 602.9 366.0 603.1 366.9 603.3 366.9 603.5 366.7 603.7 366.5 604.0 366.7 604.2 366.8 604.4 366.3 604.6 366.5 604.8 366.4 605.0 366.8 605.2 366.7 605.5 366.1 605.7 366.4 605.9 367.1 606.1 366.2 606.3 366.6 606.5 366.3 606.7 366.9 607.0 366.5 607.2 366.3 607.4 366.1 607.6 366.3 607.8 366.7 608.0 366.6 608.2 365.9 608.5 366.8 608.7 366.2 608.9 365.9 609.1 366.2 609.3 365.9 609.5 365.9 609.7 365.8 610.0 365.9 610.2 365.7 610.4 365.2 610.6 365.8 610.8 365.4 611.0 365.8 611.2 365.5 611.5 365.4 611.7 365.1 611.9 365.3 612.1 364.6 612.3 364.2 612.5 364.5 612.7 363.3 613.0 363.9 613.2 363.9 613.4 363.5 613.6 363.8 613.8 363.4 614.0 363.0 614.3 362.6 614.5 362.9 614.7 362.1 614.9 362.0 615.1 362.2 615.3 361.9 615.5 362.2 615.8 361.3 616.0 360.6 616.2 361.3 616.4 361.3 616.6 360.8 616.8 361.2 617.0 361.2 617.3 360.4 617.5 360.4 617.7 360.2 617.9 360.8 618.1 360.9 618.3 361.0 618.5 360.5 618.8 360.7 619.0 360.7 619.2 360.8 619.4 361.0 619.6 361.1 619.8 361.8 620.0 362.2 620.3 362.4 620.5 362.4 620.7 362.4 620.9 362.9 621.1 363.3 621.3 363.2 621.5 363.5 621.8 363.6 622.0 363.7 622.2 364.1 622.4 363.9 622.6 364.8 622.8 364.1 623.1 364.9 623.3 364.5 623.5 365.6 623.7 365.5 623.9 365.1 624.1 365.3 624.3 365.2 624.6 365.6 624.8 365.9 625.0 366.7 625.2 365.4 625.4 366.4 625.6 365.8 625.8 366.2 626.1 366.4 626.3 366.4 626.5 366.4 626.7 366.2 626.9 366.3 627.1 366.4 627.3 366.7 627.6 365.9 627.8 366.2 628.0 366.0 628.2 366.1 628.4 366.2 628.6 366.8 628.8 367.2 629.1 366.9 629.3 366.1 629.5 366.5 629.7 366.1 629.9 366.6 630.1 366.9 630.3 366.7 630.6 366.8 630.8 366.4 631.0 365.8 631.2 365.8 631.4 366.5 631.6 366.7 631.8 366.9 632.1 366.4 632.3 366.5 632.5 366.6 632.7 366.8 632.9 366.5 633.1 366.1 633.4 366.8 633.6 366.6 633.8 366.6 634.0 366.0 634.2 366.4 634.4 365.9 634.6 365.8 634.9 366.3 635.1 366.2 635.3 366.6 635.5 366.8 635.7 366.3 635.9 366.9 636.1 366.1 636.4 366.5 636.6 365.8 636.8 366.3 637.0 366.1 637.2 366.1 637.4 366.3 637.6 365.4 637.9 366.0 638.1 365.6 638.3 365.9 638.5 365.8 638.7 365.5 638.9 365.3 639.1 364.8 639.4 365.1 639.6 364.4 639.8 364.4 640.0 363.3 640.2 363.6 640.4 362.1 640.6 362.1 640.9 360.7 641.1 360.0 641.3 358.8 641.5 358.0 641.7 356.8 641.9 356.2 642.1 355.3 642.4 354.7 642.6 354.8 642.8 354.0 643.0 354.8 643.2 354.7 643.4 354.7 643.7 355.8 643.9 356.1 644.1 357.3 644.3 357.2 644.5 358.1 644.7 358.9 644.9 359.0 645.2 360.6 645.4 360.9 645.6 362.4 645.8 363.1 646.0 363.2 646.2 363.2 646.4 364.2 646.7 364.6 646.9 365.1 647.1 365.1 647.3 365.0 647.5 365.5 647.7 365.4 647.9 366.4 648.2 365.7 648.4 365.8 648.6 366.1 648.8 365.7 649.0 366.0 649.2 366.2 649.4 366.1 649.7 366.2 649.9 366.7 650.1 366.5 650.3 365.9 650.5 366.3 650.7 366.7 650.9 366.2 651.2 366.5 651.4 366.5 651.6 366.7 651.8 366.4 652.0 366.5 652.2 366.2 652.5 366.7 652.7 366.2 652.9 367.1 653.1 366.6 653.3 366.5 653.5 366.8 653.7 366.6 654.0 366.6 654.2 366.6 654.4 366.4 654.6 366.3 654.8 366.4 655.0 367.0 655.2 366.4 655.5 366.5 655.7 366.5 655.9 366.9 656.1 367.3 656.3 366.4 656.5 366.8 656.7 366.7 657.0 366.6 657.2 366.8 657.4 366.3 657.6 367.0 657.8 366.8 658.0 366.4 658.2 367.2 658.5 367.0 658.7 367.1 658.9 366.2 659.1 366.6 659.3 366.5 659.5 366.9 659.7 367.1 660.0 366.1 660.2 366.7 660.4 366.7 660.6 367.0 660.8 366.7 661.0 366.3 661.2 366.7 661.5 366.4 661.7 366.5 661.9 366.7 662.1 366.6 662.3 366.8 662.5 366.2 662.8 367.5 663.0 367.1 663.2 367.0 663.4 366.3 663.6 366.0 663.8 366.5 664.0 366.7 664.3 367.5 664.5 367.2 664.7 366.6 664.9 367.1 665.1 367.1 665.3 366.7 665.5 367.1 665.8 366.9 666.0 366.5 666.2 366.4 666.4 366.7 666.6 367.1 666.8 366.3 667.0 366.2 667.3 366.9 667.5 365.9 667.7 367.3 667.9 366.6 668.1 367.0 668.3 367.4 668.5 366.3 668.8 366.4 669.0 367.5 669.2 366.7 669.4 366.7 669.6 366.8 669.8 367.1 670.0 367.2 670.3 366.8 670.5 366.6 670.7 366.7 670.9 366.9 671.1 367.2 671.3 366.8 671.6 367.4 671.8 366.5 672.0 366.9 672.2 367.3 672.4 367.2 672.6 366.9 672.8 366.5 673.1 366.5 673.3 366.7 673.5 366.9 673.7 366.7 673.9 366.3 674.1 366.5 674.3 366.9 674.6 367.0 674.8 366.3 675.0 366.6 675.2 366.2 675.4 366.6 675.6 367.9 675.8 366.8 676.1 366.7 676.3 366.6 676.5 366.4 676.7 366.2 676.9 366.8 677.1 366.7 677.3 367.3 677.6 366.2 677.8 366.9 678.0 367.2 678.2 366.1 678.4 367.0 678.6 366.2 678.8 366.9 679.1 367.3 679.3 366.8 679.5 366.9 679.7 366.5 679.9 366.9 680.1 367.1 680.3 366.7 680.6 366.7 680.8 366.9 681.0 367.0 681.2 366.2 681.4 366.8 681.6 366.5 681.9 366.9 682.1 367.1 682.3 366.9 682.5 367.2 682.7 366.5 682.9 366.6 683.1 366.5 683.4 366.8 683.6 366.8 683.8 366.7 684.0 366.4 684.2 366.8 684.4 366.6 684.6 367.0 684.9 366.7 685.1 367.2 685.3 366.9 685.5 366.2 685.7 366.7 685.9 366.3 686.1 367.1 686.4 367.2 686.6 366.8 686.8 366.9 687.0 366.3 687.2 366.0 687.4 366.6 687.6 366.7 687.9 366.3 688.1 366.8 688.3 366.9 688.5 367.0 688.7 367.3 688.9 367.0 689.1 366.7 689.4 366.8 689.6 367.0 689.8 366.4 690.0 367.2 690.2 367.1 690.4 366.7 690.6 366.6 690.9 368.0 691.1 367.1 691.3 367.1 691.5 367.4 691.7 367.1 691.9 366.9 692.2 367.0 692.4 366.5 692.6 367.0 692.8 366.3 693.0 366.9 693.2 367.0 693.4 366.3 693.7 367.4 693.9 366.4 694.1 367.1 694.3 366.6 694.5 366.9 694.7 366.6 694.9 367.6 695.2 367.1 695.4 367.4 695.6 367.0 695.8 367.0 696.0 366.8 696.2 366.7 696.4 367.0 696.7 366.8 696.9 366.7 697.1 366.3 697.3 366.7 697.5 367.0 697.7 366.6 697.9 366.9 698.2 366.7 698.4 366.5 698.6 366.5 698.8 366.5 699.0 366.7 699.2 366.7 699.4 367.2 699.7 366.4 699.9 366.1 700.1 367.0 700.3 366.6 700.5 366.8 700.7 367.6 701.0 367.3 701.2 367.0 701.4 367.1 701.6 366.8 701.8 367.1 702.0 366.6 702.2 366.6 702.5 366.6 702.7 367.3 702.9 367.3 703.1 366.6 703.3 367.2 703.5 366.7 703.7 367.1 704.0 366.7 704.2 367.1 704.4 366.8 704.6 366.7 704.8 366.8 705.0 366.8 705.2 366.6 705.5 366.3 705.7 367.4 705.9 366.7 706.1 366.2 706.3 366.1 706.5 365.9 706.7 366.6 707.0 367.2 707.2 366.3 707.4 366.7 707.6 366.2 707.8 367.2 708.0 366.9 708.2 366.9 708.5 367.2 708.7 367.3 708.9 367.1 709.1 366.6 709.3 366.4 709.5 366.5 709.7 366.2 710.0 367.4 710.2 366.7 710.4 366.8 710.6 366.9 710.8 367.5 711.0 366.6 711.3 367.2 711.5 366.9 711.7 366.8 711.9 366.2 712.1 367.1 712.3 366.6 712.5 366.6 712.8 366.9 713.0 366.8 713.2 367.2 713.4 366.6 713.6 366.9 713.8 366.9 714.0 366.8 714.3 367.0 714.5 366.7 714.7 367.2 714.9 366.6 715.1 366.3 715.3 366.8 715.5 367.2 715.8 366.6 716.0 366.6 716.2 366.7 716.4 366.9 716.6 366.7 716.8 366.9 717.0 366.2 717.3 367.3 717.5 367.0 717.7 366.5 717.9 367.3 718.1 367.0 718.3 367.3 718.5 366.4 718.8 367.3 719.0 366.8 719.2 366.1 719.4 367.1 719.6 366.7 719.8 366.5 720.0 366.7 720.3 366.2 720.5 367.0 720.7 366.7 720.9 366.7 721.1 367.3 721.3 366.8 721.6 366.6 721.8 366.5 722.0 366.8 722.2 367.2 722.4 366.6 722.6 366.5 722.8 367.1 723.1 366.8 723.3 366.8 723.5 367.5 723.7 366.4 723.9 366.9 724.1 366.2 724.3 366.7 724.6 367.0 724.8 367.2 725.0 366.4 725.2 367.1 725.4 367.1 725.6 366.8 725.8 367.6 726.1 366.8 726.3 366.5 726.5 366.9 726.7 366.2 726.9 367.3 727.1 367.1 727.3 366.7 727.6 367.0 727.8 367.0 728.0 367.4 728.2 366.6 728.4 366.4 728.6 366.1 728.8 366.7 729.1 366.3 729.3 366.7 729.5 366.9 729.7 366.7 729.9 366.5 730.1 367.2 730.4 366.7 730.6 366.9 730.8 367.1 731.0 366.4 731.2 366.5 731.4 367.6 731.6 366.8 731.9 366.5 732.1 366.7 732.3 366.6 732.5 366.4 732.7 366.7 732.9 366.8 733.1 366.8 733.4 367.0 733.6 366.2 733.8 366.3 734.0 367.1 734.2 366.7 734.4 367.2 734.6 366.9 734.9 366.3 735.1 367.0 735.3 366.5 735.5 366.9 735.7 367.2 735.9 367.5 736.1 366.8 736.4 367.0 736.6 366.9 736.8 367.1 737.0 366.0 737.2 366.7 737.4 366.9 737.6 367.0 737.9 366.6 738.1 367.1 738.3 367.2 738.5 366.8 738.7 366.7 738.9 366.7 739.1 366.8 739.4 367.2 739.6 367.3 739.8 366.6 740.0 366.5 740.2 366.5 740.4 367.1 740.7 366.9 740.9 366.9 741.1 367.0 741.3 366.9 741.5 366.8 741.7 366.5 741.9 366.6 742.2 366.8 742.4 366.9 742.6 366.7 742.8 366.7 743.0 367.3 743.2 366.6 743.4 366.9 743.7 366.7 743.9 366.5 744.1 366.3 744.3 366.6 744.5 366.5 744.7 367.1 744.9 366.4 745.2 366.7 745.4 367.0 745.6 366.8 745.8 367.0 746.0 367.1 746.2 366.3 746.4 366.7 746.7 366.5 746.9 367.2 747.1 366.8 747.3 367.0 747.5 367.4 747.7 366.7 747.9 366.8 748.2 366.9 748.4 366.7 748.6 367.2 748.8 367.1 749.0 367.1 749.2 366.8 749.4 366.7 749.7 366.7 749.9 366.7 750.1 366.3 750.3 366.9 750.5 367.1 750.7 366.8 751.0 366.6 751.2 366.8 751.4 366.9 751.6 366.9 751.8 367.4 752.0 366.5 752.2 366.9 752.5 367.0 752.7 366.8 752.9 366.7 753.1 366.5 753.3 366.6 753.5 367.0 753.7 367.3 754.0 366.6 754.2 367.0 754.4 367.0 754.6 367.1 754.8 366.9 755.0 366.9 755.2 367.1 755.5 366.4 755.7 366.8 755.9 366.2 756.1 366.2 756.3 366.5 756.5 366.3 756.7 367.0 757.0 367.1 757.2 366.7 757.4 366.8 757.6 366.7 757.8 366.7 758.0 366.8 758.2 366.9 758.5 366.7 758.7 366.5 758.9 366.6 759.1 367.1 759.3 366.7 759.5 367.3 759.8 366.7 760.0 367.2 760.2 366.4 760.4 366.6 760.6 367.0 760.8 367.0 761.0 366.7 761.3 367.5 761.5 366.8 761.7 366.9 761.9 366.6 762.1 367.3 762.3 367.1 762.5 366.9 762.8 366.3 763.0 366.9 763.2 366.6 763.4 366.9 763.6 367.1 763.8 366.6 764.0 366.9 764.3 367.1 764.5 366.9 764.7 366.7 764.9 366.5 765.1 366.6 765.3 366.4 765.5 367.1 765.8 366.8 766.0 366.4 766.2 366.8 766.4 366.4 766.6 365.7 766.8 367.2 767.0 367.2 767.3 366.3 767.5 366.6 767.7 366.9 767.9 366.7 768.1 366.5 768.3 366.6 768.5 366.7 768.8 366.6 769.0 366.9 769.2 366.7 769.4 366.6 769.6 366.8 769.8 366.3 770.1 367.3 770.3 366.2 770.5 366.8 770.7 366.9 770.9 366.9 771.1 366.9 771.3 367.2 771.6 366.4 771.8 366.8 772.0 366.8 772.2 366.6 772.4 366.6 772.6 367.2 772.8 366.6 773.1 366.6 773.3 366.7 773.5 366.7 773.7 366.8 773.9 366.7 774.1 366.9 774.3 366.8 774.6 366.9 774.8 367.2 775.0 366.5 775.2 367.3 775.4 366.6 775.6 367.0 775.8 366.8 776.1 366.7 776.3 366.2 776.5 367.3 776.7 366.6 776.9 366.5 777.1 367.1 777.3 366.8 777.6 367.4 777.8 367.3 778.0 367.0 778.2 366.9 778.4 367.0 778.6 366.4 778.9 366.8 779.1 366.8 779.3 366.6 779.5 366.9 779.7 366.3 779.9 367.1 780.1 367.2 780.4 366.4 780.6 366.8 780.8 367.3 781.0 366.9 781.2 366.5 781.4 366.5 781.6 367.1 781.9 367.4 782.1 366.4 782.3 366.8 782.5 366.5 782.7 366.7 782.9 366.9 783.1 366.8 783.4 366.6 783.6 367.5 783.8 366.7 784.0 366.7 784.2 367.1 784.4 366.8 784.6 366.7 784.9 367.1 785.1 366.5 785.3 367.0 785.5 367.1 785.7 367.0 785.9 366.7 786.1 366.8 786.4 366.2 786.6 366.7 786.8 366.9 787.0 367.1 787.2 366.8 787.4 366.7 787.6 366.5 787.9 366.8 788.1 366.8 788.3 367.2 788.5 366.8 788.7 366.6 788.9 366.7 789.2 366.6 789.4 366.7 789.6 366.1 789.8 366.3 790.0 366.4 790.2 366.9 790.4 366.8 790.7 366.8 790.9 367.1 791.1 366.4 791.3 367.1 791.5 366.9 791.7 366.6 791.9 367.2 792.2 366.3 792.4 366.4 792.6 366.7 792.8 366.9 793.0 366.7 793.2 366.1 793.4 366.7 793.7 366.7 793.9 367.6 794.1 367.2 794.3 366.8 794.5 366.4 794.7 366.9 794.9 366.4 795.2 366.8 795.4 366.9 795.6 366.6 795.8 366.9 796.0 366.7 796.2 366.6 796.4 367.3 796.7 367.0 796.9 366.7 797.1 366.5 797.3 366.8 797.5 366.9 797.7 367.0 797.9 367.2 798.2 366.9 798.4 366.4 798.6 367.4 798.8 367.1 799.0 367.0 799.2 367.2 799.5 366.3 799.7 366.6 799.9 366.6 800.1 367.1 800.3 366.4 800.5 366.7 800.7 367.2 801.0 367.0 801.2 366.6 801.4 367.4 801.6 366.3 801.8 366.9 802.0 366.7 802.2 366.9 802.5 366.7 802.7 366.5 802.9 366.8 803.1 366.3 803.3 366.9 803.5 366.6 803.7 367.0 804.0 366.6 804.2 366.5 804.4 366.9 804.6 367.1 804.8 366.1 805.0 366.8 805.2 366.9 805.5 366.3 805.7 366.5 805.9 366.9 806.1 366.5 806.3 366.5 806.5 367.3 806.7 366.4 807.0 366.5 807.2 366.0 807.4 366.4 807.6 366.3 807.8 367.3 808.0 367.1 808.3 366.3 808.5 367.3 808.7 367.0 808.9 366.7 809.1 367.0 809.3 366.8 809.5 366.5 809.8 366.2 810.0 366.4 810.2 366.7 810.4 366.6 810.6 366.5 810.8 367.0 811.0 366.4 811.3 367.0 811.5 366.5 811.7 366.7 811.9 366.3 812.1 366.7 812.3 366.4 812.5 366.1 812.8 366.7 813.0 366.7 813.2 366.9 813.4 366.8 813.6 366.3 813.8 366.5 814.0 365.9 814.3 366.3 814.5 367.1 814.7 367.1 814.9 366.9 815.1 366.7 815.3 366.8 815.5 366.8 815.8 366.1 816.0 366.3 816.2 367.0 816.4 367.0 816.6 366.7 816.8 366.5 817.0 366.4 817.3 366.4 817.5 366.3 817.7 365.9 817.9 366.6 818.1 366.4 818.3 366.4 818.6 367.0 818.8 366.7 819.0 366.2 819.2 366.6 819.4 366.0 819.6 366.8 819.8 366.5 820.1 366.3 820.3 366.5 820.5 366.8 820.7 366.2 820.9 366.0 821.1 366.9 821.3 366.2 821.6 366.7 821.8 365.9 822.0 366.2 822.2 365.9 822.4 366.2 822.6 365.9 822.8 365.7 823.1 366.3 823.3 365.8 823.5 365.0 823.7 365.4 823.9 365.1 824.1 364.8 824.3 364.8 824.6 364.5 824.8 364.3 825.0 363.7 825.2 362.8 825.4 362.6 825.6 362.4 825.8 360.8 826.1 360.5 826.3 359.3 826.5 357.9 826.7 356.9 826.9 355.2 827.1 354.0 827.3 352.6 827.6 352.0 827.8 351.4 828.0 350.2 828.2 350.6 828.4 349.6 828.6 350.4 828.9 350.8 829.1 352.3 829.3 352.2 829.5 353.3 829.7 352.9 829.9 354.1 830.1 354.7 830.4 355.0 830.6 354.6 830.8 356.2 831.0 357.0 831.2 358.0 831.4 358.5 831.6 358.6 831.9 359.9 832.1 361.1 832.3 361.3 832.5 362.4 832.7 362.7 832.9 363.4 833.1 364.1 833.4 364.0 833.6 365.5 833.8 364.9 834.0 365.3 834.2 365.1 834.4 365.5 834.6 365.6 834.9 365.3 835.1 365.4 835.3 366.0 835.5 366.0 835.7 365.2 835.9 365.4 836.1 366.0 836.4 366.2 836.6 366.4 836.8 365.9 837.0 366.5 837.2 366.2 837.4 366.2 837.7 366.3 837.9 366.7 838.1 366.6 838.3 366.7 838.5 366.2 838.7 366.4 838.9 366.1 839.2 366.3 839.4 366.4 839.6 366.4 839.8 366.7 840.0 366.7 840.2 366.8 840.4 366.6 840.7 366.9 840.9 366.6 841.1 366.9 841.3 366.7 841.5 366.8 841.7 366.6 841.9 366.2 842.2 366.1 842.4 367.2 842.6 366.7 842.8 366.8 843.0 366.6 843.2 366.5 843.4 367.6 843.7 366.3 843.9 366.6 844.1 366.6 844.3 366.3 844.5 366.3 844.7 366.4 844.9 366.6 845.2 366.5 845.4 366.9 845.6 366.3 845.8 366.8 846.0 367.2 846.2 367.0 846.4 366.3 846.7 365.7 846.9 367.0 847.1 366.9 847.3 366.5 847.5 367.1 847.7 366.6 848.0 366.7 848.2 366.4 848.4 366.8 848.6 366.6 848.8 366.6 849.0 367.1 849.2 366.8 849.5 366.2 849.7 366.9 849.9 367.0 850.1 366.5 850.3 366.6 850.5 366.7 850.7 366.6 851.0 366.8 851.2 366.9 851.4 366.6 851.6 367.4 851.8 366.5 852.0 366.6 852.2 367.4 852.5 367.5 852.7 366.8 852.9 366.7 853.1 366.4 853.3 367.1 853.5 366.8 853.7 366.5 854.0 366.9 854.2 367.2 854.4 367.0 854.6 367.5 854.8 367.1 855.0 366.9 855.2 366.7 855.5 366.9 855.7 367.1 855.9 367.0 856.1 367.1 856.3 366.8 856.5 367.0 856.7 367.1" stroke="#960000"/>
<path d="M52.0 494.0 52.2 493.7 52.4 494.7 52.6 494.3 52.9 494.0 53.1 494.2 53.3 494.1 53.5 493.6 53.7 494.1 53.9 493.7 54.1 494.3 54.4 494.2 54.6 494.6 54.8 494.2 55.0 494.4 55.2 494.2 55.4 494.1 55.6 493.8 55.9 494.6 56.1 494.3 56.3 494.1 56.5 494.4 56.7 494.2 56.9 494.1 57.2 494.4 57.4 494.7 57.6 494.3 57.8 493.9 58.0 494.2 58.2 495.0 58.4 494.1 58.7 494.8 58.9 494.3 59.1 494.7 59.3 494.4 59.5 493.9 59.7 494.3 59.9 495.1 60.2 494.4 60.4 494.7 60.6 494.4 60.8 494.4 61.0 494.6 61.2 494.7 61.4 495.2 61.7 494.5 61.9 494.5 62.1 494.3 62.3 494.1 62.5 494.0 62.7 494.8 62.9 494.0 63.2 495.0 63.4 494.9 63.6 494.5 63.8 494.2 64.0 494.6 64.2 494.6 64.4 495.0 64.7 494.4 64.9 494.5 65.1 494.6 65.3 494.6 65.5 494.5 65.7 494.1 65.9 494.2 66.2 494.5 66.4 494.6 66.6 495.0 66.8 495.5 67.0 495.3 67.2 494.9 67.5 495.4 67.7 494.7 67.9 494.6 68.1 495.5 68.3 494.4 68.5 494.7 68.7 494.7 69.0 495.3 69.2 494.6 69.4 495.1 69.6 494.7 69.8 494.4 70.0 494.9 70.2 494.9 70.5 494.5 70.7 494.6 70.9 494.6 71.1 495.2 71.3 495.0 71.5 495.0 71.7 495.1 72.0 494.8 72.2 495.1 72.4 494.7 72.6 494.5 72.8 494.7 73.0 495.0 73.2 495.0 73.5 495.3 73.7 494.4 73.9 494.9 74.1 495.1 74.3 494.7 74.5 495.1 74.7 494.9 75.0 494.6 75.2 495.4 75.4 494.6 75.6 495.3 75.8 494.9 76.0 494.7 76.2 494.8 76.5 494.8 76.7 494.8 76.9 495.2 77.1 494.5 77.3 495.5 77.5 495.4 77.8 495.5 78.0 494.8 78.2 494.4 78.4 494.9 78.6 495.1 78.8 495.2 79.0 495.0 79.3 495.1 79.5 495.2 79.7 494.7 79.9 495.7 80.1 494.8 80.3 495.3 80.5 495.5 80.8 494.9 81.0 495.2 81.2 495.7 81.4 495.1 81.6 495.5 81.8 495.3 82.0 495.3 82.3 495.5 82.5 495.2 82.7 495.2 82.9 495.5 83.1 495.3 83.3 495.4 83.5 494.9 83.8 495.3 84.0 495.7 84.2 495.6 84.4 495.4 84.6 495.1 84.8 495.1 85.0 495.4 85.3 495.8 85.5 495.3 85.7 495.7 85.9 495.2 86.1 495.7 86.3 495.0 86.6 495.4 86.8 495.0 87.0 495.6 87.2 495.5 87.4 495.1 87.6 495.1 87.8 495.2 88.1 494.9 88.3 495.1 88.5 495.1 88.7 495.6 88.9 495.8 89.1 495.3 89.3 495.3 89.6 495.5 89.8 495.2 90.0 495.3 90.2 495.7 90.4 495.5 90.6 495.4 90.8 495.3 91.1 495.9 91.3 495.3 91.5 495.5 91.7 495.1 91.9 495.3 92.1 495.5 92.3 495.4 92.6 495.7 92.8 495.5 93.0 495.0 93.2 494.8 93.4 495.8 93.6 495.3 93.8 496.0 94.1 495.5 94.3 495.3 94.5 495.7 94.7 495.4 94.9 495.5 95.1 495.2 95.3 495.7 95.6 495.9 95.8 495.4 96.0 496.1 96.2 495.4 96.4 495.6 96.6 495.0 96.9 495.0 97.1 496.3 97.3 496.0 97.5 496.0 97.7 495.0 97.9 495.7 98.1 495.7 98.4 495.6 98.6 495.7 98.8 495.3 99.0 495.6 99.2 495.3 99.4 495.5 99.6 495.8 99.9 495.4 100.1 495.6 100.3 495.5 100.5 495.7 100.7 495.9 100.9 495.7 101.1 495.8 101.4 495.2 101.6 495.6 101.8 495.9 102.0 495.4 102.2 495.5 102.4 495.4 102.6 496.1 102.9 495.5 103.1 495.5 103.3 495.9 103.5 496.1 103.7 495.9 103.9 496.0 104.1 495.8 104.4 495.7 104.6 495.6 104.8 495.6 105.0 495.5 105.2 495.9 105.4 495.7 105.6 495.8 105.9 495.9 106.1 495.7 106.3 495.3 106.5 495.5 106.7 495.4 106.9 495.2 107.2 495.8 107.4 495.4 107.6 495.4 107.8 495.4 108.0 496.1 108.2 495.7 108.4 496.1 108.7 495.8 108.9 495.7 109.1 496.0 109.3 496.0 109.5 495.8 109.7 495.5 109.9 495.7 110.2 495.4 110.4 495.7 110.6 495.9 110.8 496.3 111.0 496.3 111.2 496.1 111.4 496.1 111.7 495.9 111.9 496.7 112.1 496.3 112.3 496.7 112.5 496.0 112.7 496.0 112.9 496.2 113.2 495.9 113.4 496.0 113.6 495.6 113.8 496.2 114.0 495.9 114.2 496.1 114.4 495.8 114.7 495.3 114.9 496.1 115.1 496.3 115.3 495.5 115.5 495.6 115.7 495.8 116.0 495.8 116.2 495.4 116.4 496.5 116.6 496.2 116.8 495.7 117.0 495.3 117.2 496.0 117.5 496.6 117.7 496.2 117.9 496.3 118.1 495.6 118.3 496.0 118.5 495.5 118.7 496.6 119.0 496.1 119.2 495.3 119.4 495.4 119.6 496.1 119.8 496.0 120.0 495.9 120.2 496.2 120.5 496.6 120.7 496.1 120.9 495.4 121.1 495.9 121.3 495.6 121.5 495.7 121.7 496.1 122.0 495.9 122.2 495.7 122.4 496.0 122.6 495.7 122.8 496.2 123.0 495.9 123.2 496.1 123.5 495.9 123.7 496.3 123.9 496.0 124.1 496.0 124.3 495.8 124.5 496.1 124.7 495.5 125.0 496.9 125.2 495.8 125.4 496.1 125.6 495.9 125.8 495.9 126.0 496.2 126.3 495.9 126.5 495.9 126.7 495.6 126.9 495.8 127.1 495.7 127.3 496.6 127.5 495.6 127.8 495.7 128.0 496.1 128.2 496.5 128.4 495.5 128.6 495.6 128.8 496.1 129.0 496.2 129.3 495.6 129.5 495.5 129.7 495.8 129.9 496.3 130.1 496.1 130.3 496.3 130.5 496.1 130.8 496.1 131.0 496.3 131.2 496.1 131.4 496.2 131.6 495.8 131.8 495.9 132.0 496.3 132.3 496.0 132.5 495.9 132.7 496.3 132.9 496.3 133.1 496.1 133.3 495.9 133.5 496.4 133.8 496.9 134.0 495.9 134.2 495.6 134.4 495.9 134.6 495.8 134.8 495.7 135.1 495.8 135.3 496.4 135.5 496.4 135.7 496.6 135.9 496.4 136.1 496.0 136.3 496.5 136.6 496.0 136.8 496.0 137.0 495.8 137.2 496.5 137.4 496.5 137.6 496.0 137.8 496.1 138.1 496.2 138.3 496.2 138.5 496.4 138.7 496.2 138.9 496.3 139.1 495.7 139.3 496.1 139.6 495.6 139.8 496.8 140.0 496.6 140.2 496.4 140.4 496.5 140.6 496.8 140.8 496.5 141.1 495.7 141.3 496.1 141.5 495.4 141.7 495.9 141.9 495.8 142.1 496.2 142.3 496.3 142.6 495.9 142.8 496.1 143.0 496.3 143.2 496.2 143.4 496.2 143.6 495.4 143.8 496.1 144.1 496.5 144.3 496.3 144.5 495.7 144.7 496.1 144.9 496.3 145.1 495.9 145.4 496.4 145.6 496.0 145.8 496.1 146.0 496.2 146.2 496.9 146.4 496.1 146.6 496.1 146.9 496.5 147.1 496.1 147.3 496.3 147.5 495.5 147.7 496.3 147.9 496.2 148.1 495.8 148.4 496.7 148.6 496.2 148.8 496.2 149.0 495.8 149.2 495.7 149.4 496.1 149.6 495.8 149.9 496.4 150.1 496.5 150.3 496.1 150.5 495.8 150.7 496.1 150.9 495.9 151.1 496.3 151.4 496.3 151.6 496.1 151.8 496.3 152.0 496.6 152.2 496.8 152.4 496.1 152.6 496.5 152.9 496.2 153.1 495.9 153.3 496.7 153.5 496.4 153.7 496.3 153.9 496.4 154.1 496.2 154.4 496.0 154.6 496.9 154.8 496.6 155.0 496.4 155.2 496.6 155.4 496.7 155.7 496.2 155.9 496.5 156.1 496.2 156.3 496.5 156.5 496.2 156.7 497.1 156.9 496.2 157.2 496.5 157.4 496.5 157.6 496.2 157.8 496.6 158.0 496.3 158.2 496.2 158.4 496.3 158.7 496.1 158.9 496.7 159.1 496.5 159.3 496.6 159.5 495.9 159.7 496.4 159.9 496.1 160.2 496.4 160.4 496.7 160.6 496.4 160.8 496.3 161.0 496.7 161.2 496.7 161.4 496.9 161.7 495.7 161.9 496.5 162.1 496.2 162.3 496.1 162.5 496.4 162.7 496.0 162.9 495.6 163.2 496.1 163.4 496.3 163.6 497.0 163.8 496.1 164.0 496.0 164.2 495.7 164.5 496.2 164.7 496.3 164.9 496.4 165.1 495.9 165.3 496.1 165.5 495.6 165.7 496.4 166.0 495.9 166.2 495.5 166.4 496.7 166.6 496.5 166.8 496.5 167.0 496.5 167.2 496.0 167.5 496.7 167.7 496.0 167.9 497.0 168.1 496.5 168.3 495.8 168.5 496.7 168.7 497.0 169.0 496.3 169.2 496.7 169.4 496.3 169.6 496.2 169.8 495.6 170.0 496.8 170.2 496.3 170.5 496.5 170.7 496.0 170.9 496.1 171.1 496.8 171.3 496.3 171.5 496.3 171.7 496.0 172.0 496.5 172.2 496.7 172.4 496.3 172.6 496.3 172.8 496.0 173.0 496.9 173.2 496.2 173.5 496.4 173.7 497.0 173.9 496.3 174.1 495.9 174.3 496.1 174.5 496.3 174.8 497.0 175.0 496.5 175.2 496.3 175.4 496.7 175.6 496.8 175.8 496.2 176.0 496.9 176.3 496.7 176.5 496.6 176.7 495.7 176.9 496.5 177.1 496.9 177.3 496.3 177.5 497.2 177.8 496.5 178.0 496.1 178.2 496.6 178.4 496.5 178.6 496.7 178.8 496.4 179.0 496.9 179.3 496.3 179.5 496.5 179.7 496.0 179.9 496.2 180.1 496.5 180.3 496.2 180.5 496.3 180.8 496.4 181.0 496.5 181.2 496.7 181.4 496.7 181.6 496.8 181.8 496.5 182.0 496.3 182.3 495.9 182.5 496.3 182.7 496.2 182.9 495.9 183.1 497.0 183.3 495.9 183.5 496.6 183.8 496.6 184.0 496.4 184.2 497.3 184.4 496.5 184.6 496.2 184.8 497.0 185.1 496.2 185.3 496.0 185.5 496.1 185.7 496.3 185.9 496.5 186.1 496.6 186.3 496.0 186.6 496.6 186.8 497.2 187.0 496.2 187.2 496.4 187.4 496.7 187.6 496.9 187.8 496.3 188.1 496.2 188.3 496.2 188.5 496.8 188.7 496.8 188.9 495.8 189.1 495.8 189.3 496.1 189.6 496.0 189.8 496.6 190.0 496.6 190.2 497.1 190.4 496.7 190.6 496.5 190.8 496.9 191.1 496.2 191.3 496.0 191.5 496.5 191.7 496.8 191.9 496.0 192.1 496.8 192.3 496.8 192.6 496.3 192.8 496.6 193.0 496.4 193.2 496.5 193.4 496.8 193.6 496.2 193.9 496.8 194.1 496.8 194.3 496.8 194.5 495.9 194.7 495.9 194.9 496.7 195.1 496.3 195.4 496.3 195.6 496.3 195.8 496.1 196.0 496.4 196.2 496.3 196.4 496.3 196.6 496.7 196.9 496.1 197.1 496.9 197.3 495.8 197.5 497.3 197.7 496.1 197.9 496.7 198.1 496.8 198.4 496.5 198.6 496.8 198.8 496.5 199.0 495.9 199.2 496.6 199.4 496.9 199.6 496.3 199.9 496.0 200.1 496.3 200.3 496.6 200.5 496.6 200.7 496.9 200.9 496.7 201.1 496.7 201.4 495.9 201.6 497.2 201.8 496.5 202.0 496.8 202.2 496.4 202.4 496.5 202.6 496.5 202.9 497.0 203.1 497.0 203.3 496.7 203.5 497.2 203.7 496.4 203.9 496.7 204.2 496.4 204.4 497.0 204.6 496.5 204.8 496.9 205.0 497.1 205.2 495.9 205.4 497.2 205.7 496.6 205.9 496.4 206.1 495.9 206.3 496.4 206.5 495.8 206.7 496.6 206.9 496.5 207.2 497.1 207.4 496.4 207.6 496.9 207.8 496.9 208.0 497.2 208.2 496.5 208.4 496.8 208.7 496.0 208.9 496.2 209.1 496.5 209.3 496.5 209.5 496.2 209.7 496.4 209.9 496.8 210.2 496.4 210.4 496.5 210.6 496.3 210.8 497.0 211.0 497.1 211.2 496.6 211.4 496.5 211.7 497.1 211.9 496.7 212.1 496.3 212.3 496.1 212.5 496.4 212.7 497.3 212.9 496.4 213.2 497.5 213.4 496.6 213.6 496.5 213.8 497.0 214.0 496.5 214.2 496.7 214.5 496.2 214.7 496.2 214.9 496.3 215.1 496.6 215.3 496.3 215.5 495.9 215.7 496.7 216.0 496.5 216.2 496.5 216.4 496.4 216.6 495.8 216.8 497.1 217.0 496.4 217.2 496.7 217.5 497.0 217.7 496.9 217.9 496.6 218.1 496.6 218.3 496.7 218.5 496.9 218.7 496.8 219.0 496.4 219.2 496.7 219.4 496.7 219.6 496.8 219.8 496.6 220.0 497.0 220.2 496.6 220.5 496.9 220.7 496.6 220.9 496.4 221.1 496.3 221.3 496.5 221.5 496.8 221.7 497.0 222.0 496.5 222.2 496.4 222.4 496.4 222.6 497.0 222.8 496.6 223.0 496.4 223.3 496.8 223.5 496.1 223.7 496.6 223.9 496.6 224.1 496.5 224.3 496.2 224.5 496.9 224.8 497.1 225.0 496.1 225.2 496.6 225.4 496.8 225.6 497.3 225.8 496.4 226.0 496.3 226.3 496.6 226.5 497.2 226.7 496.6 226.9 496.7 227.1 497.2 227.3 495.9 227.5 495.9 227.8 496.9 228.0 496.8 228.2 496.1 228.4 496.8 228.6 496.6 228.8 496.7 229.0 496.3 229.3 496.4 229.5 496.3 229.7 496.6 229.9 496.5 230.1 497.1 230.3 496.8 230.5 496.1 230.8 496.7 231.0 497.1 231.2 496.7 231.4 496.9 231.6 496.6 231.8 496.8 232.0 496.3 232.3 496.9 232.5 496.1 232.7 497.0 232.9 496.1 233.1 495.9 233.3 496.8 233.6 496.5 233.8 496.6 234.0 496.7 234.2 496.6 234.4 496.3 234.6 496.7 234.8 496.7 235.1 496.8 235.3 497.2 235.5 496.4 235.7 496.6 235.9 496.8 236.1 496.4 236.3 496.2 236.6 496.4 236.8 496.9 237.0 496.5 237.2 496.8 237.4 496.4 237.6 496.7 237.8 496.4 238.1 496.3 238.3 496.6 238.5 496.6 238.7 497.1 238.9 496.1 239.1 496.8 239.3 497.1 239.6 497.0 239.8 496.5 240.0 496.4 240.2 496.4 240.4 496.7 240.6 496.7 240.8 496.7 241.1 496.8 241.3 496.2 241.5 496.2 241.7 496.2 241.9 496.2 242.1 496.6 242.4 496.7 242.6 497.4 242.8 496.8 243.0 496.6 243.2 497.1 243.4 496.4 243.6 496.7 243.9 496.9 244.1 496.9 244.3 496.7 244.5 496.5 244.7 496.2 244.9 496.5 245.1 496.4 245.4 496.8 245.6 496.6 245.8 496.8 246.0 496.1 246.2 496.9 246.4 496.3 246.6 496.1 246.9 496.1 247.1 496.4 247.3 497.0 247.5 496.8 247.7 496.2 247.9 496.6 248.1 496.6 248.4 496.1 248.6 496.3 248.8 495.9 249.0 496.3 249.2 495.7 249.4 496.3 249.6 496.3 249.9 496.3 250.1 496.3 250.3 497.0 250.5 496.5 250.7 496.7 250.9 496.8 251.1 496.9 251.4 496.8 251.6 496.4 251.8 496.2 252.0 496.3 252.2 496.4 252.4 496.6 252.7 496.6 252.9 496.9 253.1 496.5 253.3 497.2 253.5 496.9 253.7 496.4 253.9 496.9 254.2 495.6 254.4 497.0 254.6 496.7 254.8 496.7 255.0 496.0 255.2 497.4 255.4 496.5 255.7 496.5 255.9 496.9 256.1 496.5 256.3 496.3 256.5 496.8 256.7 496.2 256.9 496.8 257.2 496.6 257.4 496.9 257.6 496.2 257.8 497.0 258.0 496.6 258.2 497.2 258.4 496.3 258.7 497.1 258.9 496.8 259.1 496.8 259.3 496.3 259.5 496.7 259.7 496.7 259.9 496.2 260.2 496.1 260.4 496.2 260.6 497.0 260.8 496.5 261.0 496.8 261.2 496.5 261.4 496.5 261.7 496.5 261.9 496.3 262.1 496.8 262.3 496.4 262.5 496.4 262.7 495.8 263.0 496.3 263.2 496.0 263.4 495.9 263.6 496.4 263.8 495.6 264.0 495.7 264.2 495.9 264.5 495.9 264.7 495.1 264.9 495.2 265.1 494.9 265.3 494.2 265.5 493.5 265.7 493.3 266.0 493.7 266.2 493.2 266.4 492.4 266.6 492.2 266.8 491.9 267.0 491.6 267.2 491.3 267.5 491.8 267.7 490.6 267.9 490.7 268.1 490.4 268.3 490.4 268.5 490.4 268.7 490.7 269.0 490.9 269.2 491.4 269.4 491.7 269.6 491.7 269.8 493.0 270.0 492.3 270.2 493.2 270.5 494.2 270.7 493.6 270.9 494.6 271.1 494.9 271.3 494.9 271.5 494.4 271.8 495.7 272.0 495.5 272.2 495.4 272.4 496.2 272.6 495.7 272.8 496.3 273.0 495.9 273.3 496.3 273.5 495.9 273.7 496.1 273.9 496.0 274.1 496.1 274.3 496.4 274.5 496.3 274.8 496.5 275.0 496.8 275.2 496.4 275.4 495.8 275.6 496.4 275.8 496.5 276.0 496.8 276.3 496.8 276.5 496.8 276.7 496.4 276.9 496.7 277.1 496.0 277.3 496.9 277.5 496.7 277.8 496.7 278.0 496.4 278.2 496.6 278.4 496.3 278.6 496.7 278.8 496.1 279.0 496.9 279.3 496.7 279.5 497.2 279.7 496.5 279.9 496.5 280.1 496.6 280.3 496.6 280.5 496.5 280.8 496.2 281.0 496.2 281.2 496.4 281.4 496.5 281.6 496.2 281.8 496.2 282.1 496.5 282.3 496.8 282.5 496.5 282.7 496.8 282.9 496.9 283.1 496.8 283.3 496.4 283.6 496.4 283.8 496.0 284.0 496.4 284.2 496.7 284.4 496.2 284.6 497.0 284.8 497.1 285.1 496.5 285.3 496.9 285.5 496.1 285.7 496.2 285.9 496.5 286.1 496.6 286.3 496.5 286.6 496.3 286.8 497.2 287.0 496.7 287.2 496.7 287.4 496.8 287.6 496.6 287.8 496.5 288.1 496.4 288.3 496.0 288.5 497.1 288.7 496.3 288.9 496.0 289.1 496.3 289.3 496.0 289.6 497.2 289.8 496.7 290.0 497.0 290.2 497.0 290.4 496.8 290.6 496.8 290.8 496.3 291.1 496.5 291.3 496.4 291.5 496.6 291.7 496.3 291.9 497.0 292.1 496.8 292.4 496.5 292.6 496.0 292.8 496.8 293.0 496.8 293.2 496.5 293.4 496.1 293.6 496.6 293.9 496.8 294.1 495.9 294.3 496.7 294.5 495.9 294.7 496.5 294.9 497.0 295.1 496.4 295.4 496.5 295.6 496.2 295.8 496.3 296.0 497.0 296.2 496.6 296.4 496.0 296.6 495.9 296.9 495.9 297.1 496.5 297.3 495.7 297.5 495.9 297.7 495.3 297.9 494.8 298.1 495.5 298.4 494.9 298.6 494.5 298.8 494.4 299.0 494.2 299.2 494.1 299.4 493.7 299.6 494.5 299.9 494.1 300.1 494.2 300.3 493.8 300.5 494.0 300.7 493.9 300.9 494.3 301.2 494.3 301.4 494.3 301.6 494.1 301.8 494.0 302.0 494.3 302.2 494.5 302.4 494.7 302.7 494.6 302.9 495.7 303.1 495.4 303.3 494.8 303.5 495.3 303.7 495.3 303.9 495.9 304.2 496.3 304.4 495.7 304.6 496.3 304.8 496.1 305.0 496.6 305.2 496.7 305.4 496.4 305.7 496.6 305.9 496.4 306.1 496.3 306.3 496.0 306.5 496.5 306.7 496.4 306.9 496.3 307.2 496.4 307.4 496.4 307.6 496.1 307.8 496.3 308.0 496.8 308.2 496.4 308.4 496.9 308.7 496.1 308.9 496.0 309.1 496.5 309.3 496.7 309.5 496.3 309.7 496.7 309.9 496.8 310.2 496.8 310.4 496.4 310.6 496.4 310.8 495.9 311.0 496.5 311.2 496.5 311.5 496.9 311.7 496.0 311.9 496.2 312.1 496.1 312.3 496.7 312.5 495.6 312.7 496.1 313.0 497.1 313.2 496.6 313.4 496.0 313.6 496.4 313.8 496.7 314.0 496.6 314.2 496.3 314.5 496.1 314.7 496.6 314.9 496.3 315.1 496.6 315.3 496.4 315.5 496.2 315.7 496.8 316.0 496.1 316.2 496.4 316.4 496.0 316.6 496.1 316.8 496.1 317.0 496.0 317.2 496.2 317.5 496.5 317.7 496.7 317.9 496.5 318.1 496.0 318.3 496.4 318.5 496.0 318.7 496.4 319.0 495.3 319.2 496.1 319.4 495.3 319.6 495.8 319.8 495.1 320.0 495.3 320.2 494.7 320.5 493.9 320.7 493.9 320.9 493.7 321.1 493.4 321.3 492.2 321.5 492.0 321.8 491.5 322.0 491.0 322.2 490.4 322.4 489.2 322.6 488.1 322.8 487.8 323.0 486.7 323.3 486.1 323.5 484.7 323.7 484.1 323.9 482.7 324.1 482.2 324.3 481.4 324.5 480.9 324.8 479.9 325.0 479.8 325.2 479.4 325.4 479.5 325.6 479.9 325.8 481.0 326.0 480.4 326.3 481.2 326.5 481.6 326.7 482.6 326.9 483.1 327.1 484.1 327.3 484.6 327.5 486.1 327.8 486.5 328.0 486.2 328.2 487.6 328.4 488.2 328.6 488.1 328.8 489.1 329.0 489.8 329.3 490.2 329.5 491.0 329.7 490.8 329.9 492.1 330.1 492.5 330.3 492.7 330.6 492.8 330.8 493.3 331.0 493.4 331.2 494.2 331.4 494.3 331.6 495.0 331.8 494.4 332.1 495.2 332.3 494.8 332.5 495.1 332.7 494.9 332.9 495.6 333.1 495.5 333.3 495.8 333.6 496.2 333.8 495.8 334.0 496.0 334.2 496.2 334.4 496.0 334.6 495.9 334.8 496.2 335.1 496.3 335.3 496.4 335.5 496.5 335.7 496.0 335.9 496.4 336.1 496.7 336.3 496.2 336.6 496.4 336.8 496.1 337.0 496.4 337.2 496.9 337.4 496.4 337.6 496.1 337.8 496.5 338.1 496.5 338.3 496.8 338.5 496.0 338.7 496.1 338.9 496.4 339.1 496.0 339.3 496.8 339.6 495.8 339.8 496.2 340.0 496.0 340.2 496.3 340.4 496.7 340.6 496.7 340.9 496.8 341.1 496.7 341.3 495.9 341.5 496.6 341.7 495.9 341.9 496.4 342.1 496.4 342.4 496.4 342.6 496.7 342.8 496.3 343.0 497.1 343.2 496.7 343.4 496.9 343.6 496.8 343.9 496.8 344.1 496.5 344.3 497.2 344.5 496.2 344.7 496.7 344.9 496.6 345.1 496.5 345.4 496.7 345.6 496.3 345.8 496.8 346.0 496.8 346.2 496.6 346.4 496.8 346.6 496.2 346.9 496.0 347.1 496.4 347.3 496.5 347.5 497.4 347.7 496.5 347.9 496.9 348.1 496.9 348.4 497.3 348.6 496.6 348.8 496.8 349.0 496.5 349.2 496.3 349.4 496.3 349.7 496.3 349.9 497.1 350.1 496.7 350.3 496.5 350.5 496.6 350.7 496.4 350.9 496.6 351.2 496.6 351.4 496.8 351.6 496.9 351.8 496.1 352.0 496.7 352.2 497.0 352.4 496.3 352.7 496.5 352.9 496.7 353.1 497.0 353.3 496.8 353.5 496.5 353.7 496.8 353.9 496.9 354.2 496.7 354.4 497.2 354.6 496.7 354.8 496.3 355.0 496.4 355.2 496.6 355.4 496.5 355.7 496.8 355.9 496.7 356.1 497.2 356.3 496.9 356.5 497.1 356.7 496.4 356.9 496.5 357.2 496.8 357.4 496.6 357.6 496.8 357.8 496.7 358.0 496.4 358.2 497.2 358.4 497.0 358.7 496.1 358.9 496.4 359.1 496.6 359.3 496.8 359.5 496.6 359.7 496.2 360.0 496.9 360.2 496.6 360.4 497.0 360.6 496.7 360.8 496.9 361.0 496.9 361.2 496.9 361.5 496.5 361.7 497.0 361.9 496.7 362.1 496.2 362.3 496.5 362.5 496.5 362.7 496.8 363.0 496.8 363.2 496.3 363.4 496.9 363.6 496.6 363.8 496.3 364.0 496.9 364.2 496.4 364.5 496.2 364.7 496.9 364.9 496.9 365.1 496.4 365.3 497.0 365.5 496.9 365.7 496.5 366.0 497.3 366.2 496.6 366.4 496.7 366.6 495.9 366.8 496.8 367.0 496.4 367.2 496.8 367.5 496.1 367.7 497.0 367.9 497.1 368.1 497.2 368.3 495.7 368.5 496.8 368.7 496.7 369.0 495.7 369.2 496.4 369.4 496.6 369.6 497.1 369.8 496.4 370.0 496.7 370.3 496.6 370.5 496.7 370.7 496.5 370.9 496.9 371.1 496.9 371.3 496.2 371.5 497.0 371.8 496.4 372.0 496.5 372.2 497.0 372.4 496.7 372.6 496.8 372.8 496.9 373.0 496.8 373.3 496.5 373.5 496.3 373.7 496.8 373.9 496.9 374.1 496.7 374.3 496.6 374.5 496.9 374.8 496.6 375.0 496.2 375.2 496.7 375.4 496.8 375.6 496.9 375.8 496.3 376.0 496.4 376.3 496.7 376.5 496.5 376.7 496.6 376.9 496.9 377.1 496.8 377.3 497.2 377.5 496.7 377.8 497.2 378.0 497.0 378.2 497.4 378.4 496.6 378.6 496.6 378.8 497.0 379.1 496.5 379.3 496.5 379.5 496.7 379.7 496.7 379.9 496.2 380.1 496.7 380.3 496.5 380.6 496.6 380.8 496.7 381.0 496.6 381.2 497.0 381.4 496.8 381.6 496.6 381.8 496.6 382.1 497.0 382.3 496.9 382.5 497.0 382.7 496.6 382.9 496.7 383.1 497.3 383.3 496.6 383.6 497.2 383.8 496.9 384.0 496.5 384.2 496.2 384.4 496.8 384.6 496.4 384.8 496.4 385.1 496.1 385.3 497.0 385.5 496.6 385.7 496.6 385.9 496.7 386.1 496.7 386.3 496.6 386.6 496.8 386.8 496.5 387.0 495.8 387.2 496.8 387.4 496.7 387.6 496.6 387.8 497.1 388.1 496.2 388.3 495.7 388.5 497.1 388.7 496.7 388.9 496.1 389.1 496.5 389.4 496.8 389.6 496.2 389.8 496.8 390.0 497.3 390.2 497.0 390.4 496.6 390.6 496.7 390.9 496.3 391.1 496.6 391.3 496.5 391.5 496.3 391.7 496.1 391.9 497.2 392.1 496.6 392.4 496.2 392.6 496.4 392.8 497.0 393.0 497.1 393.2 496.4 393.4 496.6 393.6 496.8 393.9 496.4 394.1 496.2 394.3 496.2 394.5 496.5 394.7 496.3 394.9 496.1 395.1 496.5 395.4 496.8 395.6 496.7 395.8 496.4 396.0 497.1 396.2 496.3 396.4 496.5 396.6 496.1 396.9 496.7 397.1 496.5 397.3 496.0 397.5 496.2 397.7 497.1 397.9 496.7 398.1 496.5 398.4 496.7 398.6 496.0 398.8 496.2 399.0 496.0 399.2 496.2 399.4 496.3 399.7 496.6 399.9 496.7 400.1 496.7 400.3 497.3 400.5 496.2 400.7 496.4 400.9 496.5 401.2 496.1 401.4 496.3 401.6 496.5 401.8 496.0 402.0 496.4 402.2 496.7 402.4 495.9 402.7 495.5 402.9 496.2 403.1 495.8 403.3 496.2 403.5 495.9 403.7 496.1 403.9 496.3 404.2 496.1 404.4 495.7 404.6 495.3 404.8 494.8 405.0 494.8 405.2 495.2 405.4 495.3 405.7 495.0 405.9 494.9 406.1 494.4 406.3 494.3 406.5 494.2 406.7 494.8 406.9 493.8 407.2 494.6 407.4 494.0 407.6 494.4 407.8 494.2 408.0 494.3 408.2 494.5 408.5 493.8 408.7 493.8 408.9 494.0 409.1 493.9 409.3 494.4 409.5 494.3 409.7 494.4 410.0 494.6 410.2 494.4 410.4 495.0 410.6 494.1 410.8 494.9 411.0 495.1 411.2 494.7 411.5 494.8 411.7 495.4 411.9 495.1 412.1 494.6 412.3 494.9 412.5 495.6 412.7 495.1 413.0 495.8 413.2 495.8 413.4 495.3 413.6 495.6 413.8 495.1 414.0 495.2 414.2 495.1 414.5 495.5 414.7 494.9 414.9 495.2 415.1 495.2 415.3 495.3 415.5 494.4 415.7 494.5 416.0 494.7 416.2 494.8 416.4 494.9 416.6 494.8 416.8 495.3 417.0 494.8 417.2 494.7 417.5 494.2 417.7 494.5 417.9 494.3 418.1 494.2 418.3 493.8 418.5 493.8 418.8 493.9 419.0 493.0 419.2 492.3 419.4 493.0 419.6 492.7 419.8 492.1 420.0 491.7 420.3 492.3 420.5 490.8 420.7 490.1 420.9 489.7 421.1 489.4 421.3 488.3 421.5 487.5 421.8 486.7 422.0 485.2 422.2 483.8 422.4 481.9 422.6 479.2 422.8 476.5 423.0 472.2 423.3 467.9 423.5 461.0 423.7 453.3 423.9 443.3 424.1 432.5 424.3 419.4 424.5 406.8 424.8 393.5 425.0 383.6 425.2 377.2 425.4 376.6 425.6 380.0 425.8 384.9 426.0 392.1 426.3 399.1 426.5 408.1 426.7 418.2 426.9 428.8 427.1 439.6 427.3 448.6 427.5 457.1 427.8 464.2 428.0 469.5 428.2 474.0 428.4 477.4 428.6 480.4 428.8 482.8 429.1 484.3 429.3 485.3 429.5 487.1 429.7 488.0 429.9 489.0 430.1 489.6 430.3 490.7 430.6 490.4 430.8 490.9 431.0 491.8 431.2 491.7 431.4 492.4 431.6 492.6 431.8 492.3 432.1 493.4 432.3 493.8 432.5 493.6 432.7 493.3 432.9 494.2 433.1 493.7 433.3 494.2 433.6 494.5 433.8 494.2 434.0 494.0 434.2 494.6 434.4 494.8 434.6 494.6 434.8 494.7 435.1 495.3 435.3 495.1 435.5 495.0 435.7 495.0 435.9 495.3 436.1 495.4 436.3 495.3 436.6 495.0 436.8 495.4 437.0 495.3 437.2 495.6 437.4 496.0 437.6 495.9 437.9 495.9 438.1 495.8 438.3 495.6 438.5 495.9 438.7 495.7 438.9 495.7 439.1 495.6 439.4 495.9 439.6 495.9 439.8 496.5 440.0 496.1 440.2 495.9 440.4 496.2 440.6 495.9 440.9 496.3 441.1 496.3 441.3 497.0 441.5 495.7 441.7 496.1 441.9 496.1 442.1 496.2 442.4 496.4 442.6 495.9 442.8 495.9 443.0 496.3 443.2 496.5 443.4 495.9 443.6 495.7 443.9 496.6 444.1 496.5 444.3 496.6 444.5 496.0 444.7 496.2 444.9 496.3 445.1 496.4 445.4 496.3 445.6 496.3 445.8 496.6 446.0 496.2 446.2 496.2 446.4 496.2 446.6 496.2 446.9 496.4 447.1 496.3 447.3 496.2 447.5 496.8 447.7 496.5 447.9 496.3 448.2 496.8 448.4 496.2 448.6 496.4 448.8 496.4 449.0 496.2 449.2 496.3 449.4 496.4 449.7 496.0 449.9 496.3 450.1 496.5 450.3 496.5 450.5 496.5 450.7 497.2 450.9 496.6 451.2 496.4 451.4 496.4 451.6 496.5 451.8 496.6 452.0 496.4 452.2 496.9 452.4 496.1 452.7 496.7 452.9 496.6 453.1 496.1 453.3 496.7 453.5 496.7 453.7 496.3 453.9 497.2 454.2 496.7 454.4 496.4 454.6 496.4 454.8 496.3 455.0 496.6 455.2 496.5 455.4 496.1 455.7 496.2 455.9 496.3 456.1 496.4 456.3 496.4 456.5 496.3 456.7 496.7 457.0 496.8 457.2 496.5 457.4 495.9 457.6 496.5 457.8 496.7 458.0 496.5 458.2 496.6 458.5 496.6 458.7 496.1 458.9 495.8 459.1 496.7 459.3 496.4 459.5 496.7 459.7 496.5 460.0 496.5 460.2 497.0 460.4 496.2 460.6 496.6 460.8 496.2 461.0 496.6 461.2 496.7 461.5 496.8 461.7 496.6 461.9 496.1 462.1 496.6 462.3 496.8 462.5 496.9 462.7 497.2 463.0 496.7 463.2 496.3 463.4 496.4 463.6 496.6 463.8 496.9 464.0 496.2 464.2 496.9 464.5 496.8 464.7 496.3 464.9 496.8 465.1 496.3 465.3 496.6 465.5 496.5 465.7 496.7 466.0 496.2 466.2 496.7 466.4 495.9 466.6 496.5 466.8 496.4 467.0 497.1 467.3 496.8 467.5 496.4 467.7 496.3 467.9 496.6 468.1 496.4 468.3 497.3 468.5 495.8 468.8 496.6 469.0 495.8 469.2 496.9 469.4 496.4 469.6 497.1 469.8 496.4 470.0 496.9 470.3 496.7 470.5 497.0 470.7 496.6 470.9 495.7 471.1 496.4 471.3 496.1 471.5 496.9 471.8 496.8 472.0 496.6 472.2 496.7 472.4 496.7 472.6 496.4 472.8 497.2 473.0 496.7 473.3 496.5 473.5 496.2 473.7 496.4 473.9 496.6 474.1 496.6 474.3 496.5 474.5 496.6 474.8 496.3 475.0 496.6 475.2 496.1 475.4 496.4 475.6 496.4 475.8 496.9 476.0 496.8 476.3 496.6 476.5 496.3 476.7 496.5 476.9 496.9 477.1 497.0 477.3 496.2 477.6 496.5 477.8 496.7 478.0 496.7 478.2 496.6 478.4 496.8 478.6 496.2 478.8 497.1 479.1 496.3 479.3 496.6 479.5 496.8 479.7 497.0 479.9 496.9 480.1 496.9 480.3 497.0 480.6 496.6 480.8 496.9 481.0 497.1 481.2 496.4 481.4 496.2 481.6 496.3 481.8 497.1 482.1 497.0 482.3 496.5 482.5 496.7 482.7 496.8 482.9 496.9 483.1 496.1 483.3 496.5 483.6 496.6 483.8 496.7 484.0 496.7 484.2 496.5 484.4 496.7 484.6 495.8 484.8 497.6 485.1 496.9 485.3 496.9 485.5 496.4 485.7 496.8 485.9 497.3 486.1 497.2 486.4 496.7 486.6 496.3 486.8 496.7 487.0 496.5 487.2 496.9 487.4 496.2 487.6 496.6 487.9 496.7 488.1 496.5 488.3 497.0 488.5 496.3 488.7 496.3 488.9 496.5 489.1 496.9 489.4 496.5 489.6 496.5 489.8 496.9 490.0 496.7 490.2 496.5 490.4 496.7 490.6 496.6 490.9 496.8 491.1 496.7 491.3 496.4 491.5 496.5 491.7 496.5 491.9 496.8 492.1 496.8 492.4 496.4 492.6 496.6 492.8 496.7 493.0 497.0 493.2 496.7 493.4 497.2 493.6 496.6 493.9 496.9 494.1 496.5 494.3 496.3 494.5 496.7 494.7 496.8 494.9 496.7 495.1 496.7 495.4 496.5 495.6 496.4 495.8 496.5 496.0 496.8 496.2 496.9 496.4 495.6 496.7 496.8 496.9 497.0 497.1 497.0 497.3 496.8 497.5 496.8 497.7 496.5 497.9 496.6 498.2 496.8 498.4 496.3 498.6 496.4 498.8 496.7 499.0 496.2 499.2 496.6 499.4 496.2 499.7 496.7 499.9 496.6 500.1 496.5 500.3 496.3 500.5 496.5 500.7 495.9 500.9 496.5 501.2 496.7 501.4 497.0 501.6 496.5 501.8 496.6 502.0 497.1 502.2 497.2 502.4 496.5 502.7 496.9 502.9 497.0 503.1 496.8 503.3 496.3 503.5 496.3 503.7 496.8 503.9 497.3 504.2 496.6 504.4 497.1 504.6 497.2 504.8 496.2 505.0 496.4 505.2 497.1 505.4 496.9 505.7 496.8 505.9 496.6 506.1 496.8 506.3 496.4 506.5 497.4 506.7 496.2 507.0 496.0 507.2 496.6 507.4 497.0 507.6 496.4 507.8 496.6 508.0 496.3 508.2 496.6 508.5 496.3 508.7 496.3 508.9 496.1 509.1 496.4 509.3 497.1 509.5 496.5 509.7 496.6 510.0 497.2 510.2 496.3 510.4 496.2 510.6 496.7 510.8 496.1 511.0 496.6 511.2 496.8 511.5 496.1 511.7 496.3 511.9 496.9 512.1 496.0 512.3 496.1 512.5 496.4 512.7 496.2 513.0 496.0 513.2 496.7 513.4 496.0 513.6 496.2 513.8 496.0 514.0 496.0 514.2 495.6 514.5 496.2 514.7 495.8 514.9 496.2 515.1 495.4 515.3 495.6 515.5 495.8 515.8 495.6 516.0 495.3 516.2 495.4 516.4 495.0 516.6 495.4 516.8 494.5 517.0 495.3 517.3 495.6 517.5 495.4 517.7 495.3 517.9 494.8 518.1 495.1 518.3 494.8 518.5 494.8 518.8 494.8 519.0 493.7 519.2 495.0 519.4 494.9 519.6 495.0 519.8 494.4 520.0 494.9 520.3 494.9 520.5 494.0 520.7 494.2 520.9 494.8 521.1 494.6 521.3 494.9 521.5 494.7 521.8 495.4 522.0 494.4 522.2 494.6 522.4 494.8 522.6 494.8 522.8 495.1 523.0 495.3 523.3 495.0 523.5 495.6 523.7 495.9 523.9 495.9 524.1 496.3 524.3 496.0 524.5 495.7 524.8 496.4 525.0 496.1 525.2 496.5 525.4 495.9 525.6 495.4 525.8 495.7 526.1 496.2 526.3 496.3 526.5 496.1 526.7 496.5 526.9 495.9 527.1 496.1 527.3 496.6 527.6 496.4 527.8 496.4 528.0 496.8 528.2 496.8 528.4 496.2 528.6 496.5 528.8 495.9 529.1 496.5 529.3 496.6 529.5 496.0 529.7 497.0 529.9 497.1 530.1 496.7 530.3 496.8 530.6 497.0 530.8 496.5 531.0 496.9 531.2 496.7 531.4 496.1 531.6 496.3 531.8 496.4 532.1 496.9 532.3 496.6 532.5 496.9 532.7 496.4 532.9 496.2 533.1 497.2 533.3 497.4 533.6 496.7 533.8 496.5 534.0 497.0 534.2 496.3 534.4 496.5 534.6 496.2 534.8 496.8 535.1 496.7 535.3 496.5 535.5 496.4 535.7 496.1 535.9 496.4 536.1 497.0 536.4 496.5 536.6 497.0 536.8 496.3 537.0 496.6 537.2 496.5 537.4 496.5 537.6 496.8 537.9 496.0 538.1 496.8 538.3 496.8 538.5 496.6 538.7 496.6 538.9 496.5 539.1 496.8 539.4 496.6 539.6 496.3 539.8 496.7 540.0 496.9 540.2 496.7 540.4 496.6 540.6 496.7 540.9 496.4 541.1 496.5 541.3 496.0 541.5 496.5 541.7 496.9 541.9 496.5 542.1 496.3 542.4 496.9 542.6 496.6 542.8 496.6 543.0 496.7 543.2 496.8 543.4 496.6 543.6 496.3 543.9 497.1 544.1 496.6 544.3 496.3 544.5 496.6 544.7 496.9 544.9 496.1 545.2 497.0 545.4 496.5 545.6 497.2 545.8 496.7 546.0 496.5 546.2 496.9 546.4 496.9 546.7 496.4 546.9 496.6 547.1 496.3 547.3 496.8 547.5 496.0 547.7 496.4 547.9 495.8 548.2 496.6 548.4 495.7 548.6 496.0 548.8 496.4 549.0 496.1 549.2 496.1 549.4 495.8 549.7 495.9 549.9 495.5 550.1 496.0 550.3 496.1 550.5 495.9 550.7 495.6 550.9 495.8 551.2 495.5 551.4 495.5 551.6 495.1 551.8 494.8 552.0 494.4 552.2 493.7 552.4 494.5 552.7 494.0 552.9 494.5 553.1 493.0 553.3 493.7 553.5 493.0 553.7 493.1 553.9 492.6 554.2 492.9 554.4 492.6 554.6 492.8 554.8 492.5 555.0 492.6 555.2 492.8 555.5 492.6 555.7 492.4 555.9 492.9 556.1 492.6 556.3 492.9 556.5 492.8 556.7 492.8 557.0 492.3 557.2 493.6 557.4 493.2 557.6 494.0 557.8 494.5 558.0 493.8 558.2 494.6 558.5 494.5 558.7 494.9 558.9 494.6 559.1 495.1 559.3 495.3 559.5 495.8 559.7 496.2 560.0 495.7 560.2 495.6 560.4 496.5 560.6 495.9 560.8 496.0 561.0 496.1 561.2 496.3 561.5 496.4 561.7 496.1 561.9 496.3 562.1 496.9 562.3 496.9 562.5 496.5 562.7 496.5 563.0 496.4 563.2 496.8 563.4 496.3 563.6 496.5 563.8 496.4 564.0 496.3 564.3 496.5 564.5 496.5 564.7 496.4 564.9 496.5 565.1 496.6 565.3 496.4 565.5 496.4 565.8 496.5 566.0 496.8 566.2 496.9 566.4 496.6 566.6 496.5 566.8 496.6 567.0 497.2 567.3 496.9 567.5 496.3 567.7 496.6 567.9 496.4 568.1 496.5 568.3 496.1 568.5 496.6 568.8 496.2 569.0 496.4 569.2 497.1 569.4 496.9 569.6 496.4 569.8 496.3 570.0 496.3 570.3 496.0 570.5 496.3 570.7 496.5 570.9 496.3 571.1 496.9 571.3 496.6 571.5 496.5 571.8 497.2 572.0 496.8 572.2 496.7 572.4 497.2 572.6 497.0 572.8 496.4 573.0 496.7 573.3 496.5 573.5 496.2 573.7 497.2 573.9 497.1 574.1 496.3 574.3 496.8 574.6 496.1 574.8 497.0 575.0 496.6 575.2 496.6 575.4 497.0 575.6 496.6 575.8 496.6 576.1 496.9 576.3 496.6 576.5 496.9 576.7 496.6 576.9 496.9 577.1 496.8 577.3 496.9 577.6 496.3 577.8 497.2 578.0 496.6 578.2 497.2 578.4 496.5 578.6 496.6 578.8 496.6 579.1 497.0 579.3 496.5 579.5 496.8 579.7 496.2 579.9 496.5 580.1 496.7 580.3 496.6 580.6 496.1 580.8 496.8 581.0 496.4 581.2 497.2 581.4 496.6 581.6 497.3 581.8 496.9 582.1 496.8 582.3 496.5 582.5 496.6 582.7 496.8 582.9 496.0 583.1 497.0 583.3 496.3 583.6 496.6 583.8 495.8 584.0 496.8 584.2 496.9 584.4 496.7 584.6 496.7 584.9 496.5 585.1 496.7 585.3 497.0 585.5 496.5 585.7 496.8 585.9 496.9 586.1 496.6 586.4 496.7 586.6 496.7 586.8 496.5 587.0 497.4 587.2 496.5 587.4 497.2 587.6 497.0 587.9 496.0 588.1 496.7 588.3 497.0 588.5 496.9 588.7 496.4 588.9 496.7 589.1 496.3 589.4 496.3 589.6 496.6 589.8 496.7 590.0 497.1 590.2 496.7 590.4 497.0 590.6 496.3 590.9 496.3 591.1 496.5 591.3 497.2 591.5 496.2 591.7 496.1 591.9 496.6 592.1 497.0 592.4 496.1 592.6 496.5 592.8 496.2 593.0 497.1 593.2 496.8 593.4 496.7 593.7 496.6 593.9 496.5 594.1 496.7 594.3 496.4 594.5 496.3 594.7 496.3 594.9 496.6 595.2 496.4 595.4 496.9 595.6 496.0 595.8 496.8 596.0 496.8 596.2 497.0 596.4 496.5 596.7 496.1 596.9 496.3 597.1 496.9 597.3 496.5 597.5 496.5 597.7 496.4 597.9 496.6 598.2 496.5 598.4 496.1 598.6 496.4 598.8 496.9 599.0 497.0 599.2 496.5 599.4 496.4 599.7 497.0 599.9 496.5 600.1 496.2 600.3 496.5 600.5 496.8 600.7 497.0 600.9 496.4 601.2 496.7 601.4 496.4 601.6 496.9 601.8 496.6 602.0 496.6 602.2 496.2 602.4 496.4 602.7 496.4 602.9 495.4 603.1 496.8 603.3 496.5 603.5 496.4 603.7 496.4 604.0 496.5 604.2 496.5 604.4 496.1 604.6 496.5 604.8 496.5 605.0 496.4 605.2 496.0 605.5 496.4 605.7 496.0 605.9 496.5 606.1 496.8 606.3 496.6 606.5 496.2 606.7 496.1 607.0 496.1 607.2 496.3 607.4 496.0 607.6 496.0 607.8 495.3 608.0 495.8 608.2 495.8 608.5 495.8 608.7 496.2 608.9 495.4 609.1 495.3 609.3 495.8 609.5 495.2 609.7 495.4 610.0 495.4 610.2 495.2 610.4 494.8 610.6 495.2 610.8 495.2 611.0 494.3 611.2 494.4 611.5 494.6 611.7 494.0 611.9 493.6 612.1 493.5 612.3 493.7 612.5 493.0 612.7 493.1 613.0 492.9 613.2 492.4 613.4 492.6 613.6 492.4 613.8 492.3 614.0 492.0 614.3 491.1 614.5 491.6 614.7 491.3 614.9 491.3 615.1 490.6 615.3 491.0 615.5 490.7 615.8 490.2 616.0 490.9 616.2 490.2 616.4 490.1 616.6 490.5 616.8 490.3 617.0 490.6 617.3 490.5 617.5 490.8 617.7 491.1 617.9 490.9 618.1 491.4 618.3 491.5 618.5 491.2 618.8 491.9 619.0 492.0 619.2 492.1 619.4 492.6 619.6 493.0 619.8 492.9 620.0 492.5 620.3 493.3 620.5 493.3 620.7 493.5 620.9 493.9 621.1 493.9 621.3 494.6 621.5 494.4 621.8 494.5 622.0 494.9 622.2 495.1 622.4 495.3 622.6 495.3 622.8 495.2 623.1 495.4 623.3 494.8 623.5 495.1 623.7 495.9 623.9 495.6 624.1 496.3 624.3 496.4 624.6 495.5 624.8 496.1 625.0 496.9 625.2 495.8 625.4 496.2 625.6 496.1 625.8 496.1 626.1 496.1 626.3 496.2 626.5 496.5 626.7 496.0 626.9 496.4 627.1 496.1 627.3 496.5 627.6 496.4 627.8 496.1 628.0 496.4 628.2 496.1 628.4 496.1 628.6 496.7 628.8 495.8 629.1 496.6 629.3 496.6 629.5 496.2 629.7 496.7 629.9 496.7 630.1 496.0 630.3 496.6 630.6 496.5 630.8 496.2 631.0 496.6 631.2 496.6 631.4 496.2 631.6 495.8 631.8 496.5 632.1 496.1 632.3 495.8 632.5 496.2 632.7 495.6 632.9 496.2 633.1 496.8 633.4 495.4 633.6 496.5 633.8 496.0 634.0 496.2 634.2 496.0 634.4 496.5 634.6 496.3 634.9 496.0 635.1 495.8 635.3 496.1 635.5 496.5 635.7 495.8 635.9 496.3 636.1 496.2 636.4 495.5 636.6 496.4 636.8 496.0 637.0 496.7 637.2 496.5 637.4 495.8 637.6 495.8 637.9 495.4 638.1 495.2 638.3 495.8 638.5 495.3 638.7 495.1 638.9 495.0 639.1 495.0 639.4 494.8 639.6 494.1 639.8 493.5 640.0 493.0 640.2 492.9 640.4 490.8 640.6 490.2 640.9 489.6 641.1 488.3 641.3 487.4 641.5 486.2 641.7 485.1 641.9 483.1 642.1 482.6 642.4 481.7 642.6 481.7 642.8 481.5 643.0 481.9 643.2 481.8 643.4 482.6 643.7 483.0 643.9 483.7 644.1 484.3 644.3 484.9 644.5 486.5 644.7 487.1 644.9 488.3 645.2 488.6 645.4 489.3 645.6 490.6 645.8 491.6 646.0 492.6 646.2 493.3 646.4 493.9 646.7 494.5 646.9 494.6 647.1 494.8 647.3 494.7 647.5 495.4 647.7 495.2 647.9 495.3 648.2 495.8 648.4 495.8 648.6 496.1 648.8 495.7 649.0 496.3 649.2 496.1 649.4 496.0 649.7 495.9 649.9 495.8 650.1 495.7 650.3 496.6 650.5 495.8 650.7 496.5 650.9 496.2 651.2 496.1 651.4 496.2 651.6 496.3 651.8 496.6 652.0 496.5 652.2 496.4 652.5 496.0 652.7 495.9 652.9 497.0 653.1 496.1 653.3 496.0 653.5 496.8 653.7 496.0 654.0 496.7 654.2 496.8 654.4 496.6 654.6 496.8 654.8 496.1 655.0 496.1 655.2 496.5 655.5 496.5 655.7 496.5 655.9 496.7 656.1 496.3 656.3 495.9 656.5 496.7 656.7 496.5 657.0 496.8 657.2 497.2 657.4 496.6 657.6 496.7 657.8 496.3 658.0 496.9 658.2 496.7 658.5 496.7 658.7 496.9 658.9 496.2 659.1 496.8 659.3 496.7 659.5 497.1 659.7 496.0 660.0 496.6 660.2 497.3 660.4 496.5 660.6 496.5 660.8 497.2 661.0 497.4 661.2 496.6 661.5 496.4 661.7 496.4 661.9 496.5 662.1 496.4 662.3 496.4 662.5 496.7 662.8 496.6 663.0 496.8 663.2 496.6 663.4 496.2 663.6 496.9 663.8 496.7 664.0 496.4 664.3 496.5 664.5 496.7 664.7 496.7 664.9 496.6 665.1 496.9 665.3 497.0 665.5 496.5 665.8 496.6 666.0 496.3 666.2 496.6 666.4 496.8 666.6 496.9 666.8 496.7 667.0 496.6 667.3 496.4 667.5 496.7 667.7 496.3 667.9 496.7 668.1 496.7 668.3 496.4 668.5 496.8 668.8 496.6 669.0 496.8 669.2 496.5 669.4 496.8 669.6 497.1 669.8 496.7 670.0 496.9 670.3 496.5 670.5 496.5 670.7 496.1 670.9 496.6 671.1 496.3 671.3 496.7 671.6 496.0 671.8 496.4 672.0 496.7 672.2 496.8 672.4 496.1 672.6 496.5 672.8 497.5 673.1 496.9 673.3 496.7 673.5 495.8 673.7 496.4 673.9 496.8 674.1 496.7 674.3 496.8 674.6 497.0 674.8 496.7 675.0 496.9 675.2 496.1 675.4 497.5 675.6 496.6 675.8 496.5 676.1 497.1 676.3 496.9 676.5 497.0 676.7 496.5 676.9 496.8 677.1 496.9 677.3 496.3 677.6 496.6 677.8 496.6 678.0 496.6 678.2 496.5 678.4 496.3 678.6 496.8 678.8 496.7 679.1 497.0 679.3 496.6 679.5 496.5 679.7 496.2 679.9 496.7 680.1 496.6 680.3 497.3 680.6 497.4 680.8 497.2 681.0 496.4 681.2 496.2 681.4 496.6 681.6 496.4 681.9 497.1 682.1 496.7 682.3 496.5 682.5 496.7 682.7 497.1 682.9 496.4 683.1 496.8 683.4 496.3 683.6 496.6 683.8 496.5 684.0 496.8 684.2 496.7 684.4 497.1 684.6 496.9 684.9 496.5 685.1 496.3 685.3 496.4 685.5 496.5 685.7 496.6 685.9 496.4 686.1 497.0 686.4 497.0 686.6 496.6 686.8 496.5 687.0 496.6 687.2 496.7 687.4 496.7 687.6 496.2 687.9 496.5 688.1 496.1 688.3 496.7 688.5 496.9 688.7 496.3 688.9 496.7 689.1 496.5 689.4 496.5 689.6 497.3 689.8 497.0 690.0 496.8 690.2 496.5 690.4 496.8 690.6 496.6 690.9 496.8 691.1 496.4 691.3 496.7 691.5 496.6 691.7 496.2 691.9 497.2 692.2 496.9 692.4 496.4 692.6 496.2 692.8 496.5 693.0 496.4 693.2 496.5 693.4 496.2 693.7 496.4 693.9 496.7 694.1 496.8 694.3 496.1 694.5 496.7 694.7 496.4 694.9 496.4 695.2 496.6 695.4 496.5 695.6 496.9 695.8 496.9 696.0 496.6 696.2 496.5 696.4 497.2 696.7 497.3 696.9 496.8 697.1 496.6 697.3 497.0 697.5 497.1 697.7 496.5 697.9 497.3 698.2 496.6 698.4 497.0 698.6 496.5 698.8 496.7 699.0 496.5 699.2 496.7 699.4 497.0 699.7 496.4 699.9 496.6 700.1 496.9 700.3 496.5 700.5 497.3 700.7 496.2 701.0 497.5 701.2 496.5 701.4 497.0 701.6 497.2 701.8 496.9 702.0 496.2 702.2 496.6 702.5 496.7 702.7 496.9 702.9 497.0 703.1 497.0 703.3 497.1 703.5 496.4 703.7 497.0 704.0 496.1 704.2 496.7 704.4 496.3 704.6 496.1 704.8 497.0 705.0 496.7 705.2 497.0 705.5 496.2 705.7 496.3 705.9 496.7 706.1 496.5 706.3 496.7 706.5 496.5 706.7 496.6 707.0 496.3 707.2 497.1 707.4 496.6 707.6 496.3 707.8 496.9 708.0 496.8 708.2 496.8 708.5 496.8 708.7 496.6 708.9 496.6 709.1 496.0 709.3 496.2 709.5 496.3 709.7 496.8 710.0 497.1 710.2 496.6 710.4 496.6 710.6 497.0 710.8 496.6 711.0 496.9 711.3 496.8 711.5 496.3 711.7 496.8 711.9 496.8 712.1 496.3 712.3 496.4 712.5 496.3 712.8 497.1 713.0 497.4 713.2 496.9 713.4 497.2 713.6 496.3 713.8 497.1 714.0 497.3 714.3 497.2 714.5 496.4 714.7 497.0 714.9 496.7 715.1 497.0 715.3 496.5 715.5 496.7 715.8 496.5 716.0 496.8 716.2 496.7 716.4 497.0 716.6 496.9 716.8 496.8 717.0 496.7 717.3 496.6 717.5 496.7 717.7 496.9 717.9 496.7 718.1 496.8 718.3 496.7 718.5 496.7 718.8 496.5 719.0 496.1 719.2 496.9 719.4 496.9 719.6 496.4 719.8 497.3 720.0 496.3 720.3 497.0 720.5 496.8 720.7 496.8 720.9 497.1 721.1 497.0 721.3 496.7 721.6 496.4 721.8 496.3 722.0 496.7 722.2 497.2 722.4 497.0 722.6 496.7 722.8 496.8 723.1 496.9 723.3 497.2 723.5 496.4 723.7 496.9 723.9 496.8 724.1 496.4 724.3 496.4 724.6 497.1 724.8 496.8 725.0 496.6 725.2 496.7 725.4 497.0 725.6 496.7 725.8 497.2 726.1 496.6 726.3 496.4 726.5 496.7 726.7 496.4 726.9 496.6 727.1 497.1 727.3 497.2 727.6 496.9 727.8 496.8 728.0 496.4 728.2 496.4 728.4 496.8 728.6 496.7 728.8 496.5 729.1 496.5 729.3 497.2 729.5 497.0 729.7 496.7 729.9 496.8 730.1 497.1 730.4 496.8 730.6 496.8 730.8 496.2 731.0 496.2 731.2 496.1 731.4 496.0 731.6 496.7 731.9 496.8 732.1 496.4 732.3 496.8 732.5 496.8 732.7 496.7 732.9 496.2 733.1 497.2 733.4 497.1 733.6 496.5 733.8 497.3 734.0 496.7 734.2 496.4 734.4 496.6 734.6 496.1 734.9 496.6 735.1 496.2 735.3 497.1 735.5 496.8 735.7 496.2 735.9 496.9 736.1 496.1 736.4 496.7 736.6 496.8 736.8 496.7 737.0 496.3 737.2 496.7 737.4 496.6 737.6 496.7 737.9 497.2 738.1 497.2 738.3 497.2 738.5 496.5 738.7 496.4 738.9 496.7 739.1 496.8 739.4 496.0 739.6 496.5 739.8 497.3 740.0 496.3 740.2 496.5 740.4 496.5 740.7 496.8 740.9 496.7 741.1 496.6 741.3 496.2 741.5 496.9 741.7 496.7 741.9 496.5 742.2 496.7 742.4 496.9 742.6 496.2 742.8 496.2 743.0 496.4 743.2 496.4 743.4 495.7 743.7 496.5 743.9 497.0 744.1 496.6 744.3 497.0 744.5 495.8 744.7 496.7 744.9 497.1 745.2 497.2 745.4 496.5 745.6 496.4 745.8 496.8 746.0 496.3 746.2 496.6 746.4 496.2 746.7 496.7 746.9 496.7 747.1 497.2 747.3 496.8 747.5 496.5 747.7 496.7 747.9 496.3 748.2 496.7 748.4 496.6 748.6 496.8 748.8 497.0 749.0 496.0 749.2 496.8 749.4 496.9 749.7 496.3 749.9 497.3 750.1 496.5 750.3 497.5 750.5 496.9 750.7 497.0 751.0 496.8 751.2 497.0 751.4 496.4 751.6 496.4 751.8 496.1 752.0 496.9 752.2 496.5 752.5 496.9 752.7 496.9 752.9 496.3 753.1 496.9 753.3 496.8 753.5 496.8 753.7 496.8 754.0 496.7 754.2 496.7 754.4 497.0 754.6 496.4 754.8 496.3 755.0 496.4 755.2 497.0 755.5 496.6 755.7 497.3 755.9 495.7 756.1 496.5 756.3 496.5 756.5 496.8 756.7 497.1 757.0 496.6 757.2 496.4 757.4 497.0 757.6 497.2 757.8 495.9 758.0 496.9 758.2 496.8 758.5 496.4 758.7 496.5 758.9 496.8 759.1 496.7 759.3 496.6 759.5 496.3 759.8 496.8 760.0 496.5 760.2 496.7 760.4 496.5 760.6 496.7 760.8 496.9 761.0 496.8 761.3 496.9 761.5 496.2 761.7 496.8 761.9 496.8 762.1 496.5 762.3 496.6 762.5 495.8 762.8 496.7 763.0 496.6 763.2 496.0 763.4 496.8 763.6 496.5 763.8 496.8 764.0 496.6 764.3 496.8 764.5 496.7 764.7 496.6 764.9 496.8 765.1 497.0 765.3 496.0 765.5 496.7 765.8 496.5 766.0 496.3 766.2 497.1 766.4 497.0 766.6 496.4 766.8 496.3 767.0 496.9 767.3 496.5 767.5 496.6 767.7 496.1 767.9 496.6 768.1 497.0 768.3 496.5 768.5 496.6 768.8 497.2 769.0 497.0 769.2 497.1 769.4 496.9 769.6 497.1 769.8 496.1 770.1 496.4 770.3 496.2 770.5 497.4 770.7 496.7 770.9 496.6 771.1 496.4 771.3 496.4 771.6 495.8 771.8 497.4 772.0 496.7 772.2 496.7 772.4 496.2 772.6 496.7 772.8 496.8 773.1 496.7 773.3 496.9 773.5 496.4 773.7 496.8 773.9 497.0 774.1 496.9 774.3 496.8 774.6 496.6 774.8 496.4 775.0 496.9 775.2 496.6 775.4 496.4 775.6 496.9 775.8 496.2 776.1 496.5 776.3 496.9 776.5 497.0 776.7 496.6 776.9 496.7 777.1 496.9 777.3 496.7 777.6 496.4 777.8 496.8 778.0 496.7 778.2 496.7 778.4 497.0 778.6 496.8 778.9 496.5 779.1 496.7 779.3 497.3 779.5 496.4 779.7 496.6 779.9 496.4 780.1 496.8 780.4 496.3 780.6 496.8 780.8 496.9 781.0 496.4 781.2 496.4 781.4 496.2 781.6 496.7 781.9 496.3 782.1 496.5 782.3 496.5 782.5 496.5 782.7 496.9 782.9 497.2 783.1 496.0 783.4 496.4 783.6 496.8 783.8 496.3 784.0 496.5 784.2 496.7 784.4 497.1 784.6 497.0 784.9 496.6 785.1 496.7 785.3 496.6 785.5 496.6 785.7 496.3 785.9 496.1 786.1 496.6 786.4 497.0 786.6 496.9 786.8 496.1 787.0 496.6 787.2 496.5 787.4 496.8 787.6 496.3 787.9 497.0 788.1 496.6 788.3 496.9 788.5 496.9 788.7 496.0 788.9 496.6 789.2 497.2 789.4 496.7 789.6 497.0 789.8 496.8 790.0 496.5 790.2 496.8 790.4 497.0 790.7 497.1 790.9 497.1 791.1 496.3 791.3 496.9 791.5 496.2 791.7 496.6 791.9 496.6 792.2 496.9 792.4 496.8 792.6 497.1 792.8 496.5 793.0 496.9 793.2 496.8 793.4 496.7 793.7 496.3 793.9 496.8 794.1 496.8 794.3 496.9 794.5 496.6 794.7 496.6 794.9 496.8 795.2 496.8 795.4 496.9 795.6 497.3 795.8 496.5 796.0 497.3 796.2 495.7 796.4 497.0 796.7 496.4 796.9 497.3 797.1 496.4 797.3 497.0 797.5 496.3 797.7 496.3 797.9 496.9 798.2 496.9 798.4 496.4 798.6 497.4 798.8 496.5 799.0 497.1 799.2 496.3 799.5 496.3 799.7 496.7 799.9 496.3 800.1 496.8 800.3 496.0 800.5 496.7 800.7 496.5 801.0 496.3 801.2 496.7 801.4 496.6 801.6 496.5 801.8 496.9 802.0 496.7 802.2 496.8 802.5 497.1 802.7 496.6 802.9 496.9 803.1 496.5 803.3 496.8 803.5 496.8 803.7 496.5 804.0 496.1 804.2 496.2 804.4 496.3 804.6 496.8 804.8 496.6 805.0 496.5 805.2 496.8 805.5 496.9 805.7 497.1 805.9 496.4 806.1 496.8 806.3 496.8 806.5 496.3 806.7 496.6 807.0 496.3 807.2 496.5 807.4 496.7 807.6 496.1 807.8 496.3 808.0 496.3 808.3 496.6 808.5 496.4 808.7 496.7 808.9 496.3 809.1 496.4 809.3 496.8 809.5 496.7 809.8 496.6 810.0 496.6 810.2 496.9 810.4 497.0 810.6 496.5 810.8 496.3 811.0 496.2 811.3 497.1 811.5 496.3 811.7 496.1 811.9 496.6 812.1 496.9 812.3 496.1 812.5 496.5 812.8 496.1 813.0 496.3 813.2 497.0 813.4 496.6 813.6 496.4 813.8 496.5 814.0 496.6 814.3 496.5 814.5 496.1 814.7 496.1 814.9 497.1 815.1 496.2 815.3 496.8 815.5 496.2 815.8 496.9 816.0 496.7 816.2 496.4 816.4 497.1 816.6 496.1 816.8 496.3 817.0 496.1 817.3 496.1 817.5 496.2 817.7 496.0 817.9 496.2 818.1 496.8 818.3 495.7 818.6 495.9 818.8 496.0 819.0 496.1 819.2 496.5 819.4 496.4 819.6 496.3 819.8 496.2 820.1 496.9 820.3 495.7 820.5 495.7 820.7 496.0 820.9 496.0 821.1 495.9 821.3 495.6 821.6 495.4 821.8 495.7 822.0 495.5 822.2 495.5 822.4 495.2 822.6 495.9 822.8 495.5 823.1 495.8 823.3 494.9 823.5 494.8 823.7 494.5 823.9 494.3 824.1 493.8 824.3 493.4 824.6 492.2 824.8 492.1 825.0 491.5 825.2 489.7 825.4 489.1 825.6 488.2 825.8 487.0 826.1 485.1 826.3 483.6 826.5 482.4 826.7 480.7 826.9 478.7 827.1 477.4 827.3 477.1 827.6 476.3 827.8 476.0 828.0 476.4 828.2 477.1 828.4 477.7 828.6 478.4 828.9 479.2 829.1 479.5 829.3 481.2 829.5 481.6 829.7 482.3 829.9 482.4 830.1 483.1 830.4 484.1 830.6 485.0 830.8 485.2 831.0 486.9 831.2 487.5 831.4 488.8 831.6 489.6 831.9 491.2 832.1 491.6 832.3 492.2 832.5 493.2 832.7 493.3 832.9 493.6 833.1 494.1 833.4 494.4 833.6 494.8 833.8 495.3 834.0 495.1 834.2 495.3 834.4 495.8 834.6 495.7 834.9 496.0 835.1 495.8 835.3 495.4 835.5 495.5 835.7 495.4 835.9 496.3 836.1 496.1 836.4 495.9 836.6 495.8 836.8 496.2 837.0 496.1 837.2 496.3 837.4 495.9 837.7 495.9 837.9 496.7 838.1 496.0 838.3 496.3 838.5 496.7 838.7 495.7 838.9 496.6 839.2 496.4 839.4 496.3 839.6 496.5 839.8 496.0 840.0 495.7 840.2 497.0 840.4 496.3 840.7 496.7 840.9 496.8 841.1 496.5 841.3 496.6 841.5 496.7 841.7 497.0 841.9 496.6 842.2 496.9 842.4 496.4 842.6 496.4 842.8 496.5 843.0 496.6 843.2 496.7 843.4 497.1 843.7 496.8 843.9 496.5 844.1 497.2 844.3 496.6 844.5 496.7 844.7 496.7 844.9 496.4 845.2 496.2 845.4 496.6 845.6 496.5 845.8 496.3 846.0 496.6 846.2 496.5 846.4 496.4 846.7 496.0 846.9 496.5 847.1 497.1 847.3 496.9 847.5 496.9 847.7 496.6 848.0 496.9 848.2 496.4 848.4 496.5 848.6 496.8 848.8 496.1 849.0 496.6 849.2 496.7 849.5 497.1 849.7 496.4 849.9 496.7 850.1 496.4 850.3 496.4 850.5 495.8 850.7 496.3 851.0 497.0 851.2 496.8 851.4 496.7 851.6 497.4 851.8 496.8 852.0 496.2 852.2 496.6 852.5 496.6 852.7 497.1 852.9 496.3 853.1 496.8 853.3 496.9 853.5 496.4 853.7 496.7 854.0 496.0 854.2 496.7 854.4 495.9 854.6 496.5 854.8 497.2 855.0 496.8 855.2 496.7 855.5 496.7 855.7 497.3 855.9 496.8 856.1 497.0 856.3 496.5 856.5 496.5 856.7 496.3" stroke="#050505"/>
</g>
<rect x="52.1" y="1.9" width="804.5" height="545.3" fill="none" stroke="#000" stroke-width="2.4"/>
<path d="M52.00 547V537.00M52.00 2V12.00M105.65 547V542.00M105.65 2V7.00M159.30 547V537.00M159.30 2V12.00M212.95 547V542.00M212.95 2V7.00M266.60 547V537.00M266.60 2V12.00M320.25 547V542.00M320.25 2V7.00M373.90 547V537.00M373.90 2V12.00M427.55 547V542.00M427.55 2V7.00M481.20 547V537.00M481.20 2V12.00M534.85 547V542.00M534.85 2V7.00M588.50 547V537.00M588.50 2V12.00M642.15 547V542.00M642.15 2V7.00M695.80 547V537.00M695.80 2V12.00M749.45 547V542.00M749.45 2V7.00M803.10 547V537.00M803.10 2V12.00M856.75 547V542.00M856.75 2V7.00" stroke="#000" stroke-width="2.2" fill="none"/>
<g font-family="'Liberation Sans', sans-serif" fill="#000">
<text transform="translate(52.00 576.6) scale(1.2004 1)" font-size="23.52" text-anchor="middle">10</text>
<text transform="translate(159.30 576.6) scale(1.2004 1)" font-size="23.52" text-anchor="middle">20</text>
<text transform="translate(266.60 576.6) scale(1.2004 1)" font-size="23.52" text-anchor="middle">30</text>
<text transform="translate(373.90 576.6) scale(1.2004 1)" font-size="23.52" text-anchor="middle">40</text>
<text transform="translate(481.20 576.6) scale(1.2004 1)" font-size="23.52" text-anchor="middle">50</text>
<text transform="translate(588.50 576.6) scale(1.2004 1)" font-size="23.52" text-anchor="middle">60</text>
<text transform="translate(695.80 576.6) scale(1.2004 1)" font-size="23.52" text-anchor="middle">70</text>
<text transform="translate(803.10 576.6) scale(1.2004 1)" font-size="23.52" text-anchor="middle">80</text>
</g>
<g font-family="'Liberation Serif', serif" fill="#000" stroke="#000" stroke-width="0.12">
<text transform="translate(67.08 126.05) scale(1.1554 1)" font-size="23.80">Sample 11</text>
<text transform="translate(63.04 246.35) scale(1.1793 1)" font-size="23.80">Sample 10</text>
<text transform="translate(67.07 348.55) scale(1.1579 1)" font-size="23.80">Sample 13</text>
<text transform="translate(66.54 475.35) scale(1.1758 1)" font-size="23.80">Sample 12</text>
<text transform="translate(385.73 621.91) scale(1.2863 1)" font-size="28.59">2θ</text><text transform="translate(429.95 621.30) scale(1.2014 1)" font-size="28.11">(deg.)</text>
<text transform="translate(23.50 354.20) rotate(-90) scale(1 1.1743)" font-size="28.48">Intensity (a.u)</text>
<text transform="translate(707.00 33.14) scale(1.1475 1)" font-size="26.21">Fe-</text>
<text transform="translate(692.99 89.97) scale(1.1425 1)" font-size="26.57">GO-</text>
<text transform="translate(660.33 57.84) scale(1.1747 1)" font-size="22.99">V</text>
<text transform="translate(678.87 65.20) scale(1.3064 1)" font-size="23.54">2</text>
<text transform="translate(693.83 57.87) scale(1.2389 1)" font-size="21.69">AlC-</text>


</g>
<rect x="749.6" y="16.2" width="15.6" height="16.6" fill="none" stroke="#8a8a8a" stroke-width="1.5"/>
<rect x="414.7" y="19.7" width="16.6" height="16.8" fill="none" stroke="#8a8a8a" stroke-width="1.5"/>
<path fill-rule="evenodd" fill="#000" d="M760.30 42.40L769.10 60.90L750.20 60.90ZM759.22 46.88L752.06 60.00L765.46 60.00Z"/>
<path fill-rule="evenodd" fill="#000" d="M829.10 96.30L838.00 114.60L819.20 114.60ZM828.05 100.77L821.05 113.70L834.34 113.70Z"/>
<ellipse cx="759.5" cy="83.5" rx="5.7" ry="5.0" fill="#000"/>
<ellipse cx="645" cy="118" rx="5.9" ry="4.9" fill="#000"/>
</g>
</svg>
</body></html>
